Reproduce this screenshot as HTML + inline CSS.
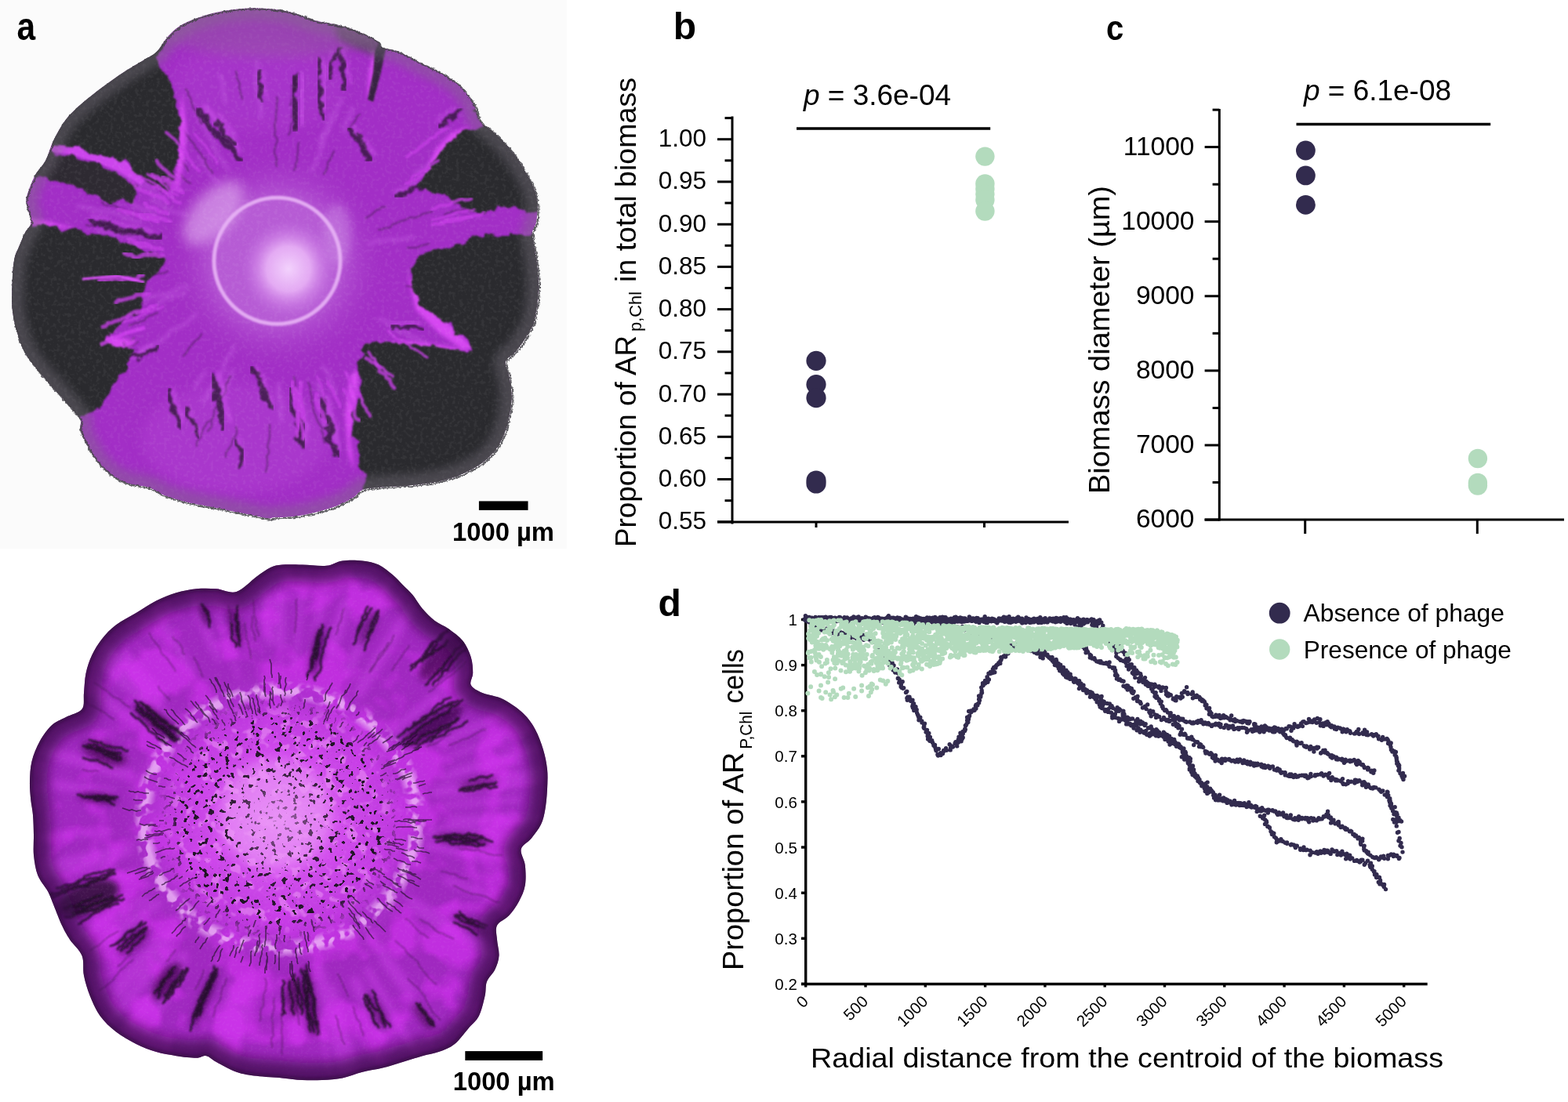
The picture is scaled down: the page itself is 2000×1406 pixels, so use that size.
<!DOCTYPE html>
<html><head><meta charset="utf-8"><title>Figure</title>
<style>html,body{margin:0;padding:0;background:#fff;}body{width:2000px;height:1406px;overflow:hidden;}svg{display:block;}</style>
</head><body>
<svg width="2000" height="1406" viewBox="0 0 2000 1406">
<defs>
<filter id="b1" x="-10%" y="-10%" width="120%" height="120%"><feGaussianBlur stdDeviation="1.2"/></filter>
<filter id="b2" x="-20%" y="-20%" width="140%" height="140%"><feGaussianBlur stdDeviation="2.5"/></filter>
<filter id="b4" x="-20%" y="-20%" width="140%" height="140%"><feGaussianBlur stdDeviation="4"/></filter>
<filter id="b6" x="-20%" y="-20%" width="140%" height="140%"><feGaussianBlur stdDeviation="6"/></filter>
<filter id="b8" x="-20%" y="-20%" width="140%" height="140%"><feGaussianBlur stdDeviation="8"/></filter>
<radialGradient id="haloA" cx="0.5" cy="0.5" r="0.5"><stop offset="0.55" stop-color="#c47ade" stop-opacity="0.6"/><stop offset="0.75" stop-color="#b860d6" stop-opacity="0.3"/><stop offset="1" stop-color="#a040c0" stop-opacity="0"/></radialGradient>
<radialGradient id="glowA" cx="0.5" cy="0.5" r="0.5"><stop offset="0" stop-color="#f3ccff" stop-opacity="0.95"/><stop offset="0.5" stop-color="#d890f0" stop-opacity="0.6"/><stop offset="1" stop-color="#b050d0" stop-opacity="0"/></radialGradient>
<radialGradient id="centB" cx="0.5" cy="0.5" r="0.5"><stop offset="0" stop-color="#e47af6" stop-opacity="1"/><stop offset="0.3" stop-color="#d856f2" stop-opacity="0.95"/><stop offset="0.7" stop-color="#c83ee8" stop-opacity="0.8"/><stop offset="0.88" stop-color="#bc36e0" stop-opacity="0.35"/><stop offset="1" stop-color="#b040d0" stop-opacity="0"/></radialGradient>
<filter color-interpolation-filters="sRGB" id="noiseW" x="0" y="0" width="100%" height="100%"><feTurbulence type="fractalNoise" baseFrequency="0.22" numOctaves="2" seed="3"/><feColorMatrix type="matrix" values="0 0 0 0 1  0 0 0 0 1  0 0 0 0 1  4 0 0 0 -1.9"/></filter>
<filter color-interpolation-filters="sRGB" id="speck" x="0" y="0" width="1" height="1"><feTurbulence type="fractalNoise" baseFrequency="0.15" numOctaves="2" seed="8"/><feColorMatrix type="matrix" values="0 0 0 0 0.11  0 0 0 0 0.07  0 0 0 0 0.13  -22 0 0 0 8.25"/></filter>
<filter color-interpolation-filters="sRGB" id="lightPatch" x="0" y="0" width="1" height="1"><feTurbulence type="fractalNoise" baseFrequency="0.07" numOctaves="2" seed="21"/><feColorMatrix type="matrix" values="0 0 0 0 0.96  0 0 0 0 0.66  0 0 0 0 0.98  9 0 0 0 -5.0"/></filter>
<filter color-interpolation-filters="sRGB" id="ringTex" x="0" y="0" width="1" height="1"><feTurbulence type="fractalNoise" baseFrequency="0.075" numOctaves="2" seed="4"/><feColorMatrix type="matrix" values="0 0 0 0 0.95  0 0 0 0 0.76  0 0 0 0 0.98  9 0 0 0 -4.1"/></filter>
<filter color-interpolation-filters="sRGB" id="noiseF" x="0" y="0" width="1" height="1"><feTurbulence type="fractalNoise" baseFrequency="0.3" numOctaves="2" seed="2"/><feColorMatrix type="matrix" values="0 0 0 0 1  0 0 0 0 1  0 0 0 0 1  6 0 0 0 -3.1"/></filter>
<filter id="rough" x="-5%" y="-5%" width="110%" height="110%"><feTurbulence type="fractalNoise" baseFrequency="0.06" numOctaves="3" seed="12" result="t"/><feDisplacementMap in="SourceGraphic" in2="t" scale="16" xChannelSelector="R" yChannelSelector="G"/><feGaussianBlur stdDeviation="0.8"/></filter>
<radialGradient id="glowA2" cx="0.5" cy="0.5" r="0.5"><stop offset="0" stop-color="#f6d8ff" stop-opacity="1"/><stop offset="0.45" stop-color="#eebcfa" stop-opacity="0.85"/><stop offset="0.75" stop-color="#d890ee" stop-opacity="0.4"/><stop offset="1" stop-color="#c070e0" stop-opacity="0"/></radialGradient>
<filter color-interpolation-filters="sRGB" id="mottle" x="0" y="0" width="1" height="1"><feTurbulence type="fractalNoise" baseFrequency="0.018" numOctaves="3" seed="31"/><feColorMatrix type="matrix" values="0 0 0 0 0.86  0 0 0 0 0.2  0 0 0 0 0.97  5 0 0 0 -2.3"/></filter>
<filter id="serr" x="-3%" y="-3%" width="106%" height="106%"><feTurbulence type="turbulence" baseFrequency="0.18" numOctaves="1" seed="5" result="t"/><feDisplacementMap in="SourceGraphic" in2="t" scale="3.5" xChannelSelector="R" yChannelSelector="G"/></filter>
</defs>
<rect width="2000" height="1406" fill="#fff"/>
<rect width="723" height="700" fill="#fbfbfb"/>
<g id="topfilm">
<clipPath id="clipA"><path d="M200.0 65.8C205.3 60.5 209.7 50.8 215.8 44.7C221.9 38.6 226.8 33.8 236.8 29.0C246.8 24.2 262.8 18.9 276.0 15.8C289.2 12.7 303.5 11.2 315.8 10.5C328.1 9.8 340.0 10.7 350.0 11.8C360.0 12.9 367.2 14.6 376.0 17.0C384.8 19.4 393.8 23.9 402.6 26.3C411.4 28.7 420.3 29.4 429.0 31.6C437.7 33.8 446.2 36.0 455.0 39.5C463.8 43.0 476.3 49.1 481.6 52.6C486.9 56.1 482.4 58.3 486.8 60.5C491.2 62.7 500.1 62.7 508.0 65.8C515.9 68.9 525.2 74.6 534.0 79.0C542.8 83.4 552.6 87.7 560.5 92.0C568.4 96.3 575.9 100.6 581.6 105.0C587.3 109.4 590.8 113.6 594.7 118.4C598.6 123.2 602.0 127.9 605.0 134.0C608.0 140.1 609.0 149.3 613.0 155.0C617.0 160.7 623.7 163.6 629.0 168.4C634.3 173.2 639.9 178.7 644.7 184.0C649.5 189.3 653.6 193.8 658.0 200.0C662.4 206.2 667.1 214.0 671.0 221.0C674.9 228.0 679.2 235.0 681.6 242.0C684.0 249.0 685.1 256.0 685.5 263.0C685.9 270.0 685.1 278.3 684.0 284.0C682.9 289.7 679.4 292.1 679.0 297.4C678.6 302.7 680.5 308.4 681.6 315.8C682.7 323.2 684.6 333.0 685.5 342.0C686.4 351.0 687.4 358.8 686.8 370.0C686.1 381.2 684.2 399.0 681.6 409.0C679.0 419.0 675.0 423.4 671.0 430.0C667.0 436.6 662.3 443.1 657.9 448.4C653.5 453.7 646.0 455.9 644.7 461.6C643.4 467.3 648.7 474.7 650.0 482.6C651.3 490.5 653.0 499.4 652.6 509.0C652.2 518.6 650.0 530.9 647.4 540.5C644.8 550.1 641.6 558.9 636.8 566.8C632.0 574.7 625.9 581.9 618.4 588.0C610.9 594.1 601.6 599.4 592.0 603.7C582.4 608.0 572.3 611.4 560.5 614.0C548.7 616.6 534.1 618.2 521.0 619.5C507.9 620.8 491.3 621.1 481.6 622.0C471.9 622.9 468.3 622.5 463.0 624.7C457.7 626.9 455.7 631.8 450.0 635.3C444.3 638.8 436.9 642.7 429.0 645.8C421.1 648.9 411.4 651.5 402.6 653.7C393.8 655.9 384.8 657.9 376.0 659.0C367.2 660.1 355.7 659.9 350.0 660.3C344.3 660.7 347.7 662.3 342.0 661.6C336.3 660.9 324.6 658.1 315.8 656.3C307.1 654.5 298.3 652.8 289.5 651.0C280.7 649.2 271.8 647.5 263.0 645.8C254.2 644.0 245.6 642.7 236.8 640.5C228.1 638.3 218.4 635.7 210.5 632.6C202.6 629.5 197.4 624.6 189.5 622.0C181.6 619.4 170.9 619.5 163.0 616.8C155.1 614.1 148.6 610.8 142.0 606.0C135.4 601.2 128.9 594.5 123.7 588.0C118.5 581.5 114.0 573.4 110.5 566.8C107.0 560.2 103.9 553.7 102.6 548.4C101.3 543.1 104.4 539.4 102.6 535.0C100.8 530.6 96.8 527.7 92.0 522.0C87.2 516.3 80.3 508.4 73.7 501.0C67.1 493.6 59.2 485.3 52.6 477.4C46.0 469.5 39.0 461.6 34.2 453.7C29.4 445.8 26.8 439.6 23.7 430.0C20.6 420.4 17.1 408.1 15.8 395.8C14.5 383.5 15.4 367.0 15.8 356.0C16.2 345.0 17.1 336.7 18.4 330.0C19.7 323.3 21.5 321.2 23.7 315.8C25.9 310.4 29.0 302.7 31.6 297.4C34.2 292.1 39.1 289.7 39.5 284.0C39.9 278.3 35.1 268.7 34.2 263.0C33.3 257.3 32.5 256.6 34.2 250.0C36.0 243.4 40.7 231.2 44.7 223.7C48.7 216.2 54.0 212.4 58.0 205.0C62.0 197.6 64.1 187.7 68.4 179.0C72.7 170.3 77.9 160.5 84.0 152.6C90.1 144.7 97.1 138.6 105.0 131.6C112.9 124.6 122.8 117.1 131.6 110.5C140.4 103.9 149.3 97.7 158.0 92.0C166.7 86.3 177.0 80.7 184.0 76.3C191.0 71.9 194.7 71.1 200.0 65.8Z"/></clipPath>
<g clip-path="url(#clipA)">
<path d="M200.0 65.8C205.3 60.5 209.7 50.8 215.8 44.7C221.9 38.6 226.8 33.8 236.8 29.0C246.8 24.2 262.8 18.9 276.0 15.8C289.2 12.7 303.5 11.2 315.8 10.5C328.1 9.8 340.0 10.7 350.0 11.8C360.0 12.9 367.2 14.6 376.0 17.0C384.8 19.4 393.8 23.9 402.6 26.3C411.4 28.7 420.3 29.4 429.0 31.6C437.7 33.8 446.2 36.0 455.0 39.5C463.8 43.0 476.3 49.1 481.6 52.6C486.9 56.1 482.4 58.3 486.8 60.5C491.2 62.7 500.1 62.7 508.0 65.8C515.9 68.9 525.2 74.6 534.0 79.0C542.8 83.4 552.6 87.7 560.5 92.0C568.4 96.3 575.9 100.6 581.6 105.0C587.3 109.4 590.8 113.6 594.7 118.4C598.6 123.2 602.0 127.9 605.0 134.0C608.0 140.1 609.0 149.3 613.0 155.0C617.0 160.7 623.7 163.6 629.0 168.4C634.3 173.2 639.9 178.7 644.7 184.0C649.5 189.3 653.6 193.8 658.0 200.0C662.4 206.2 667.1 214.0 671.0 221.0C674.9 228.0 679.2 235.0 681.6 242.0C684.0 249.0 685.1 256.0 685.5 263.0C685.9 270.0 685.1 278.3 684.0 284.0C682.9 289.7 679.4 292.1 679.0 297.4C678.6 302.7 680.5 308.4 681.6 315.8C682.7 323.2 684.6 333.0 685.5 342.0C686.4 351.0 687.4 358.8 686.8 370.0C686.1 381.2 684.2 399.0 681.6 409.0C679.0 419.0 675.0 423.4 671.0 430.0C667.0 436.6 662.3 443.1 657.9 448.4C653.5 453.7 646.0 455.9 644.7 461.6C643.4 467.3 648.7 474.7 650.0 482.6C651.3 490.5 653.0 499.4 652.6 509.0C652.2 518.6 650.0 530.9 647.4 540.5C644.8 550.1 641.6 558.9 636.8 566.8C632.0 574.7 625.9 581.9 618.4 588.0C610.9 594.1 601.6 599.4 592.0 603.7C582.4 608.0 572.3 611.4 560.5 614.0C548.7 616.6 534.1 618.2 521.0 619.5C507.9 620.8 491.3 621.1 481.6 622.0C471.9 622.9 468.3 622.5 463.0 624.7C457.7 626.9 455.7 631.8 450.0 635.3C444.3 638.8 436.9 642.7 429.0 645.8C421.1 648.9 411.4 651.5 402.6 653.7C393.8 655.9 384.8 657.9 376.0 659.0C367.2 660.1 355.7 659.9 350.0 660.3C344.3 660.7 347.7 662.3 342.0 661.6C336.3 660.9 324.6 658.1 315.8 656.3C307.1 654.5 298.3 652.8 289.5 651.0C280.7 649.2 271.8 647.5 263.0 645.8C254.2 644.0 245.6 642.7 236.8 640.5C228.1 638.3 218.4 635.7 210.5 632.6C202.6 629.5 197.4 624.6 189.5 622.0C181.6 619.4 170.9 619.5 163.0 616.8C155.1 614.1 148.6 610.8 142.0 606.0C135.4 601.2 128.9 594.5 123.7 588.0C118.5 581.5 114.0 573.4 110.5 566.8C107.0 560.2 103.9 553.7 102.6 548.4C101.3 543.1 104.4 539.4 102.6 535.0C100.8 530.6 96.8 527.7 92.0 522.0C87.2 516.3 80.3 508.4 73.7 501.0C67.1 493.6 59.2 485.3 52.6 477.4C46.0 469.5 39.0 461.6 34.2 453.7C29.4 445.8 26.8 439.6 23.7 430.0C20.6 420.4 17.1 408.1 15.8 395.8C14.5 383.5 15.4 367.0 15.8 356.0C16.2 345.0 17.1 336.7 18.4 330.0C19.7 323.3 21.5 321.2 23.7 315.8C25.9 310.4 29.0 302.7 31.6 297.4C34.2 292.1 39.1 289.7 39.5 284.0C39.9 278.3 35.1 268.7 34.2 263.0C33.3 257.3 32.5 256.6 34.2 250.0C36.0 243.4 40.7 231.2 44.7 223.7C48.7 216.2 54.0 212.4 58.0 205.0C62.0 197.6 64.1 187.7 68.4 179.0C72.7 170.3 77.9 160.5 84.0 152.6C90.1 144.7 97.1 138.6 105.0 131.6C112.9 124.6 122.8 117.1 131.6 110.5C140.4 103.9 149.3 97.7 158.0 92.0C166.7 86.3 177.0 80.7 184.0 76.3C191.0 71.9 194.7 71.1 200.0 65.8Z" fill="#a22ec6"/>
<ellipse cx="300" cy="560" rx="120" ry="70" fill="#b848d8" opacity="0.35" filter="url(#b8)"/>
<ellipse cx="330" cy="110" rx="110" ry="60" fill="#b040d0" opacity="0.35" filter="url(#b8)"/>
<circle cx="353.5" cy="332.8" r="138" fill="url(#haloA)"/>
<ellipse cx="272" cy="272" rx="26" ry="50" transform="rotate(42 272 272)" fill="#e2b0f0" opacity="0.6" filter="url(#b8)"/>
<ellipse cx="430" cy="300" rx="18" ry="40" fill="#cf90e6" opacity="0.45" filter="url(#b6)"/>
<path d="M199 272L195 270L191 269L187 268L183 267L179 266L176 264L172 263L169 259L166 257M529 220L533 219L537 217L540 214L544 213L547 210L549 207L552 204L556 202L559 200L563 198M237 276L234 272L229 272L225 271L221 271L218 269L214 267L211 265L207 263L204 260L200 259L197 257L193 255M156 355L152 355L148 357L144 358L140 357L136 358L132 359L128 361L124 360L120 361L116 362L112 364M188 186L186 183L183 181L179 179L176 177L173 173L171 169L168 167L164 166L161 163L158 161M404 489L407 493L409 496L409 500L411 504L412 508L415 511L416 515L416 519L419 523L419 527L420 530L421 534L421 538L423 542L424 546L426 549L427 553L429 557L430 561M240 366L236 366L232 366L228 367L225 370L221 371L217 373L214 376L210 375L206 376L202 377L198 377L194 378L190 379L187 382L183 383L179 384L175 384L171 386L167 386M397 218L399 215L401 211L403 208L404 204L406 200L408 197L409 193L408 189L409 185L409 180L409 176L411 172L414 169L416 166L417 162L419 158L421 155L421 151L421 146M194 443L191 445L187 447L182 447L181 452L177 453L173 455M160 329L156 329L152 328L148 328L144 329L140 329L136 329L132 328L128 328L124 326M288 131L287 127L286 123L285 119L285 115L284 111L285 107L283 103L282 99L279 96M262 475L259 478L257 481L255 485L252 487L250 491L249 495M172 301L168 301L165 299L161 299L157 299L153 299L149 299L145 297L141 297L137 295L133 295L129 294L125 295M211 253L206 254L203 252L200 248L197 246L193 244L190 241L188 238L184 237L180 235L176 234L173 232L170 228L166 227L162 226L158 224L154 223L151 220L148 217M540 224L544 222L547 219L550 218L554 217L558 215L562 213M412 187L413 183L413 179L414 175L417 171L418 168L419 164L421 160L423 157L424 153L427 150L429 146L429 142L430 138L431 134L434 131L436 127M484 407L488 408L491 410L495 412L498 415L501 417L505 418L508 421L511 424L516 423L520 425L522 429L526 430L530 430L533 433L537 435L540 438L544 438L547 442M356 489L355 493L356 497L355 501L357 505L357 509L359 513L359 517L359 521L358 525L358 529L359 533L359 537M180 283L176 283L172 283L168 281L165 279L161 278L157 277L154 275L150 273L146 272L142 271L138 271L134 270L130 269L126 270L122 268L119 266L115 265L111 265L107 264L103 263L99 263M177 338L173 339L169 341L165 343L161 342L157 343L153 344L149 343L145 345L141 342L137 344L133 344L129 345L125 345L121 346L117 346L113 345L109 344M412 468L414 471L418 474L419 478L421 482L422 485L422 490L425 493L426 497L427 501M522 345L527 343L531 343L535 344L538 345L542 346L546 346L550 348L554 347L558 347L562 348L566 348L570 348M563 334L567 335L571 334L575 334L579 336L583 337L587 337L591 334L595 335L599 333L603 332L607 332L611 335L615 333L619 334L623 336L627 337L631 337L635 338L639 337L643 336M297 473L295 476L293 480L293 484L291 488L290 491L289 495L287 499M250 400L248 404L244 405L241 408L239 412L235 413L232 416L229 418L224 419L220 420L217 423L214 426L212 430L209 432L206 435L202 436L199 438L195 440L191 442L188 444L185 446L182 449M439 168L440 165L440 160L441 156L443 153L445 149L447 146L449 142L448 137M514 493L518 495L521 497L524 500L527 503L528 507L530 511L533 514L537 516M292 216L289 213L286 210L284 207L283 203L280 200L277 197L276 193L273 190L273 186L272 182L270 178L268 175L265 172L263 168L263 164L260 161L257 158L255 154L254 150L252 147L252 143M333 150L332 146L333 142L333 138L332 134L331 130L330 126L330 122L329 118L328 115L327 111L327 107L327 103L326 99L326 95L328 90L328 86L329 82L327 78M298 442L297 446L296 450L293 452L291 456L289 459L286 463L285 467L286 471L283 475L280 478L279 481L277 485L274 488L271 491L270 495L268 498L265 501L264 505L262 508L259 512M407 513L409 516L411 520L411 524L411 528L414 532L413 536L414 540L417 543L418 547M236 374L233 376L229 376L225 377L221 378L217 380L213 380L209 382L206 385L203 387M158 383L154 382L150 384L146 384L142 384L139 385L135 387L131 389L128 391L124 393L120 393L116 393L112 395M471 311L475 311L479 307L483 307L487 308L491 307L495 306L499 305L503 307L507 306L511 306L515 304L519 304L523 303L527 302M281 235L277 233L274 230L271 227L269 224L267 220L266 216L263 213L261 210L259 207L257 203L255 200" stroke="#c860e6" stroke-width="5" opacity="0.4" fill="none" stroke-linecap="round" filter="url(#b2)"/>
<path d="M182 387L178 388L175 389L171 390L168 393L164 394L160 394L156 396L152 397L148 397L144 397L140 400L136 398L132 399L128 399L124 401L121 403L117 405L113 405L109 407L105 407L101 409M519 365L523 365L527 365L531 365L535 365L539 366L543 366L546 371L550 373L554 374L558 374L562 373L566 374L570 375M368 172L370 169L371 165L371 161L372 157L375 153L372 149L373 145L373 141L374 137L373 133L372 129L373 125L374 121L373 117L377 113L377 109L377 105L377 101L378 97L380 93M393 488L395 492L396 496L396 500L397 504L398 508L397 512L399 516L399 520L400 524L401 527L403 531L404 535L406 539L408 542L411 546L410 550L412 553L412 558L413 562L414 565M344 542L344 546L344 550L344 554L344 558L343 562L342 566L341 570L343 574L343 578L340 582L341 586L341 590L341 594L340 598L339 602M176 436L172 439L169 441L165 442L162 444L158 446L156 450L153 453L148 454L145 456L142 459L138 459L135 461L131 463L127 465L124 467L120 468L117 470L113 473L110 475L106 476M520 316L524 316L528 316L532 316L536 314L539 313L543 312L547 311M202 199L197 198L196 194L194 190L190 188L187 186L183 185L180 182L178 178L174 176L170 175L167 173L165 169M271 221L270 218L266 215L264 211L262 208L262 203L258 201L257 197L254 194L252 191L249 188L248 184L245 181L242 178L240 174L237 172L235 168L233 165M294 480L292 483L291 487L288 490L288 495L288 499L286 503L284 506L281 509L281 514L279 517L275 520L273 524L273 528L272 532L270 535L270 539L270 544L268 547L265 550M567 274L570 272L574 271L578 269L582 269L586 269L590 267L593 266L598 265L601 262L604 260M375 217L377 214L377 209L379 206L379 202L379 198L380 194L380 190L380 186L381 182M191 303L187 301L183 300L180 298L175 299L171 299L167 300L163 299L159 299L155 299L151 297L148 294L144 292M268 537L264 539L262 543L260 546L258 550L257 554L256 558L253 561L251 564L251 569M467 278L470 276L474 274L477 271L480 268L484 267L487 264L491 264M240 218L238 214L236 211L233 208L231 204L228 202L226 198L222 197L218 195L216 191L215 187L211 184L209 181L205 179L202 177L200 173M197 299L193 299L189 299L185 298L181 300L177 297L173 296L170 295L166 295L162 294L158 292L154 291L150 289L146 288L143 287L139 285L135 286L130 288L126 287L122 288L118 288L114 288L110 287M188 216L185 214L181 212L178 210L174 209L171 206L169 202M353 212L352 208L353 204L352 200L350 196L350 192L351 188L352 184L354 180L353 176L350 172L351 168L351 164L350 160L351 156L352 152L352 148L352 144L353 140L353 136L353 132L354 128L353 124M175 274L171 273L168 272L164 272L160 269L157 267L153 267L149 264L146 262L141 262L137 262L133 261L130 258M257 426L255 430L252 433L249 435L246 438L244 441L241 444L239 448L237 451L234 454M164 222L161 219L157 217L154 215L151 213L147 211L143 211M214 346L210 348L206 349L202 349L198 350L194 351L190 350L186 350M444 165L447 163L449 159L452 156L454 152L455 149L459 146M243 234L239 232L236 229L233 227L231 223L228 221L224 219L222 216L220 212L216 210L214 206L210 205L207 202M413 222L415 219L417 215L418 211L418 207L421 204L423 200L424 197L426 193M309 126L308 123L307 119L306 115L305 111L306 107L304 103L302 99L302 95L301 91M301 545L302 549L302 553L300 557L297 560L296 564L295 568L293 571L290 575L288 578L288 583M257 158L255 155L254 150L252 147L250 143L248 140L246 137L245 133L244 129L243 125L240 121L240 117L237 114M171 431L168 434L164 436L161 438L157 439L154 442L151 445L148 447L143 448L140 450M375 481L376 485L376 489L377 493L377 497L376 501L377 505L379 509L379 513L378 517L378 521L379 525L379 529L379 533L380 537L381 541L380 545L381 549L381 553L382 557L383 560L381 565M483 293L487 293L490 291L494 291L498 290L501 286L505 285L509 283L512 282L516 281L520 279L524 277L528 278L532 277L536 275L539 273L543 272L547 271L551 270M201 399L198 400L194 402L190 403L187 405L184 409L180 410L176 412L172 412L169 414L165 415M226 212L223 209L221 206L217 204L215 201L212 198L209 196L205 194L202 191L199 188L196 186M370 134L372 130L372 126L373 122L374 118L373 114L372 110L375 106L374 102L374 98" stroke="#3a1a44" stroke-width="2.5" opacity="0.4" fill="none" stroke-linecap="round" filter="url(#b1)"/>
<path d="M385 95L386 98L386 101L387 104L387 107L387 110L387 113L386 116L384 119L384 122L385 125L384 128L385 131L385 134L386 137L385 140L385 143L385 146L385 149L386 152L386 155L385 158" stroke="#d458f2" stroke-width="5.4" opacity="0.55" fill="none" stroke-linecap="round" filter="url(#b2)"/>
<path d="M411 75L410 78L412 81L414 83L413 86L414 89L414 92L414 95L415 98L414 101L413 105L413 108L414 110L413 114L414 117L413 120L415 122L414 126L414 129L413 132L414 135L414 138L415 140" stroke="#d458f2" stroke-width="4.2" opacity="0.55" fill="none" stroke-linecap="round" filter="url(#b2)"/>
<path d="M436 59L438 62L438 65L438 68L438 71L438 74L441 77L443 79L444 82L443 85L442 89L443 92L445 94L446 97L447 100L447 103L447 106" stroke="#d458f2" stroke-width="3.6" opacity="0.55" fill="none" stroke-linecap="round" filter="url(#b2)"/>
<path d="M261 136L263 137L264 140L267 142L270 144L270 147L273 149L274 152L275 155L278 156L280 159L282 161L284 163L286 166L288 167L290 170L291 173L293 175L295 178L297 180L299 182L300 185L302 187L303 190L304 193" stroke="#d458f2" stroke-width="6.0" opacity="0.55" fill="none" stroke-linecap="round" filter="url(#b2)"/>
<path d="M280 146L282 148L283 152L284 155L287 156L289 158L291 161L293 163L295 165L296 168L299 170L300 173L301 176" stroke="#d458f2" stroke-width="3.6" opacity="0.55" fill="none" stroke-linecap="round" filter="url(#b2)"/>
<path d="M450 161L452 164L453 167L454 169L456 172L458 174L460 176L463 178L465 180L467 182L468 185L470 188L473 189L475 192L475 195L478 196" stroke="#d458f2" stroke-width="4.2" opacity="0.55" fill="none" stroke-linecap="round" filter="url(#b2)"/>
<path d="M221 496L221 499L221 502L222 505L223 508L223 511L224 514L225 517L226 519L227 522L228 525L232 527L232 530L232 533L231 537L233 539" stroke="#d458f2" stroke-width="4.2" opacity="0.55" fill="none" stroke-linecap="round" filter="url(#b2)"/>
<path d="M278 476L279 479L279 482L282 485L282 488L282 491L284 493L286 496L285 499L284 503L286 505L286 508L287 511L286 514L287 517L288 520L290 523L290 526L291 529L292 532L293 535L294 537" stroke="#d458f2" stroke-width="4.8" opacity="0.55" fill="none" stroke-linecap="round" filter="url(#b2)"/>
<path d="M327 468L327 471L329 473L331 476L332 479L335 480L337 483L337 486L337 490L339 492L339 495L338 499L338 502L342 504L343 507L345 509L345 512L347 515" stroke="#d458f2" stroke-width="4.2" opacity="0.55" fill="none" stroke-linecap="round" filter="url(#b2)"/>
<path d="M377 497L378 499L380 502L380 505L381 508L382 511L383 514L384 516L385 519L384 523L385 525L388 528L387 531L387 534L388 537L389 540L392 542L393 545L391 549L389 552L388 556L390 558L390 561L390 564" stroke="#d458f2" stroke-width="4.8" opacity="0.55" fill="none" stroke-linecap="round" filter="url(#b2)"/>
<path d="M418 506L418 509L419 512L420 515L420 518L420 521L421 524L421 527L423 529L423 532L424 535L426 538L426 541L428 544L430 546L428 550L428 553L428 556L428 559L428 562L431 565L432 567L431 571L433 573" stroke="#d458f2" stroke-width="4.8" opacity="0.55" fill="none" stroke-linecap="round" filter="url(#b2)"/>
<path d="M305 559L306 562L306 565L305 568L306 571L307 574L309 576L310 579L310 582L310 585L310 589L312 591L312 594" stroke="#d458f2" stroke-width="3.0" opacity="0.55" fill="none" stroke-linecap="round" filter="url(#b2)"/>
<path d="M117 275L120 276L122 277L125 279L129 278L132 278L135 278L137 281L140 283L142 284L145 285L148 284L151 286L154 286L157 286L160 289L163 288L166 290L169 290L172 290L175 291L178 291L181 292L184 292L187 292L189 296L192 296L195 297" stroke="#d458f2" stroke-width="4.2" opacity="0.55" fill="none" stroke-linecap="round" filter="url(#b2)"/>
<path d="M147 464L149 463L153 463L155 461L157 458L160 458L163 457L166 457L169 455L172 455L174 452L177 451L179 449L181 446L183 444L187 443L190 443L192 440" stroke="#d458f2" stroke-width="3.6" opacity="0.55" fill="none" stroke-linecap="round" filter="url(#b2)"/>
<path d="M503 245L506 244L509 243L511 242L515 242L517 240L520 238L523 238L526 238L528 235L531 234L534 233L537 233" stroke="#d458f2" stroke-width="3.6" opacity="0.55" fill="none" stroke-linecap="round" filter="url(#b2)"/>
<path d="M501 410L503 412L506 413L509 413L512 414L515 412L519 411L521 413L524 413L528 411L531 412L534 412L537 413" stroke="#d458f2" stroke-width="3.6" opacity="0.55" fill="none" stroke-linecap="round" filter="url(#b2)"/>
<path d="M416 99L417 96L417 93L418 90L418 87L419 84L420 81L420 78L421 76L422 73L423 70L424 67L422 64" stroke="#d458f2" stroke-width="3.0" opacity="0.55" fill="none" stroke-linecap="round" filter="url(#b2)"/>
<path d="M239 518L241 520L242 523L244 526L245 528L245 532L244 535L245 538L247 541L249 543L252 545L252 549L253 551L256 553" stroke="#d458f2" stroke-width="3.0" opacity="0.55" fill="none" stroke-linecap="round" filter="url(#b2)"/>
<path d="M557 155L559 153L560 150L563 149L566 147L569 146L571 144L574 143L576 141L578 139L581 138" stroke="#d458f2" stroke-width="3.0" opacity="0.55" fill="none" stroke-linecap="round" filter="url(#b2)"/>
<path d="M334 89L334 93L336 95L337 98L335 101L335 105L336 107L336 110L338 113L337 116L339 119L341 122L342 125" stroke="#d458f2" stroke-width="3.0" opacity="0.55" fill="none" stroke-linecap="round" filter="url(#b2)"/>
<path d="M378 95L377 98L377 101L376 104L377 107L376 110L374 113L375 116L375 119L376 122L377 125L377 128L378 131L379 134L379 137L378 140L378 143L377 146L379 149L377 152L378 155L379 158L379 161L378 164" stroke="#2a1832" stroke-width="9.0" opacity="0.75" fill="none" stroke-linecap="round" filter="url(#rough)"/>
<path d="M406 75L406 78L406 81L407 84L407 87L409 90L408 93L407 96L408 99L406 102L407 105L407 108L406 111L407 114L408 117L407 120L407 123L407 126L406 129L407 132L409 135L410 138L409 141L410 144L411 147L413 150" stroke="#2a1832" stroke-width="7.0" opacity="0.75" fill="none" stroke-linecap="round" filter="url(#rough)"/>
<path d="M431 60L431 63L430 66L432 69L434 72L435 75L436 78L437 80L437 84L436 87L436 90L436 93L436 96L438 98L440 101L441 104L440 107L440 110L440 113" stroke="#2a1832" stroke-width="6.0" opacity="0.75" fill="none" stroke-linecap="round" filter="url(#rough)"/>
<path d="M253 141L255 144L258 146L259 148L262 150L263 153L264 156L267 158L268 160L269 163L272 165L274 167L275 170L278 172L280 174L281 177L283 179L286 181L287 183L291 185L292 187L295 189L297 191L300 192L302 195L302 198L304 201L307 202" stroke="#2a1832" stroke-width="10.0" opacity="0.75" fill="none" stroke-linecap="round" filter="url(#rough)"/>
<path d="M274 151L275 153L277 156L280 157L281 160L281 164L283 166L286 168L288 170L289 173L290 176L294 177L296 180L298 181L300 184" stroke="#2a1832" stroke-width="6.0" opacity="0.75" fill="none" stroke-linecap="round" filter="url(#rough)"/>
<path d="M445 165L448 167L449 169L451 172L454 173L457 175L458 178L459 181L461 183L463 185L465 187L467 189L466 194L469 196L469 199L471 202L473 204" stroke="#2a1832" stroke-width="7.0" opacity="0.75" fill="none" stroke-linecap="round" filter="url(#rough)"/>
<path d="M215 498L215 501L216 504L217 506L219 509L220 512L221 515L221 518L221 521L221 524L223 527L224 529L225 532L226 535L226 538L228 541L229 544L230 546" stroke="#2a1832" stroke-width="7.0" opacity="0.75" fill="none" stroke-linecap="round" filter="url(#rough)"/>
<path d="M271 478L271 481L273 484L272 487L272 490L274 493L276 495L277 498L275 502L273 505L278 507L280 510L280 513L280 516L282 519L281 522L282 525L282 528L283 531L285 533L284 537L285 539L284 543L284 546" stroke="#2a1832" stroke-width="8.0" opacity="0.75" fill="none" stroke-linecap="round" filter="url(#rough)"/>
<path d="M321 470L324 472L327 475L328 477L328 480L330 483L330 486L330 489L332 492L332 495L333 498L335 500L337 503L338 505L341 508L342 510L344 513L344 516L345 519L347 521" stroke="#2a1832" stroke-width="7.0" opacity="0.75" fill="none" stroke-linecap="round" filter="url(#rough)"/>
<path d="M371 498L371 501L370 504L370 507L371 510L372 513L372 516L372 519L373 522L375 525L377 527L378 530L379 533L381 536L383 538L381 542L383 544L385 547L384 550L383 554L382 557L383 560L385 562L386 565L387 568L388 571" stroke="#2a1832" stroke-width="8.0" opacity="0.75" fill="none" stroke-linecap="round" filter="url(#rough)"/>
<path d="M411 508L410 511L412 514L412 517L414 519L414 522L415 525L414 529L417 531L417 534L416 537L418 540L419 543L419 546L421 549L422 551L421 555L421 558L421 561L422 564L425 566L426 569L424 572L425 576L428 578L431 580" stroke="#2a1832" stroke-width="8.0" opacity="0.75" fill="none" stroke-linecap="round" filter="url(#rough)"/>
<path d="M300 560L301 563L301 566L302 569L304 571L306 574L307 577L307 580L307 583L308 586L310 589L309 592L309 595L309 598" stroke="#2a1832" stroke-width="5.0" opacity="0.75" fill="none" stroke-linecap="round" filter="url(#rough)"/>
<path d="M115 281L118 283L122 281L124 282L127 282L130 285L133 286L135 288L138 288L141 291L144 291L146 294L149 293L153 292L155 294L158 294L161 294L165 293L168 294L170 295L174 295L176 297L180 295L182 297L185 298L188 301L191 301L194 301L197 302L199 303L202 304" stroke="#2a1832" stroke-width="7.0" opacity="0.75" fill="none" stroke-linecap="round" filter="url(#rough)"/>
<path d="M150 470L153 469L155 466L157 464L157 459L161 460L164 459L166 457L170 456L173 456L177 457L180 455L183 454L185 453L188 452L190 449L192 447L195 446L198 445L200 442" stroke="#2a1832" stroke-width="6.0" opacity="0.75" fill="none" stroke-linecap="round" filter="url(#rough)"/>
<path d="M505 251L509 251L512 251L514 249L517 248L519 246L522 244L525 243L527 241L530 240L533 239L536 238L539 239L541 236L544 235" stroke="#2a1832" stroke-width="6.0" opacity="0.75" fill="none" stroke-linecap="round" filter="url(#rough)"/>
<path d="M500 417L503 417L506 415L509 416L512 418L515 418L518 419L521 418L523 421L527 419L530 418L533 419L536 420L539 421" stroke="#2a1832" stroke-width="6.0" opacity="0.75" fill="none" stroke-linecap="round" filter="url(#rough)"/>
<path d="M420 100L420 97L420 94L422 91L422 88L423 85L422 82L424 79L427 77L428 74L430 72L431 69L430 65L430 62" stroke="#2a1832" stroke-width="5.0" opacity="0.75" fill="none" stroke-linecap="round" filter="url(#rough)"/>
<path d="M237 519L239 522L238 525L240 527L241 531L243 533L245 535L246 538L246 541L249 543L250 546L251 549L252 552L253 555L253 558" stroke="#2a1832" stroke-width="5.0" opacity="0.75" fill="none" stroke-linecap="round" filter="url(#rough)"/>
<path d="M561 162L564 160L567 159L569 158L570 153L572 151L574 149L577 148L581 148L583 145L585 143L587 142L590 140" stroke="#2a1832" stroke-width="5.0" opacity="0.75" fill="none" stroke-linecap="round" filter="url(#rough)"/>
<path d="M329 90L329 93L330 96L331 99L330 102L329 105L331 108L333 111L332 114L333 117L334 120L332 123L335 126L336 129" stroke="#2a1832" stroke-width="5.0" opacity="0.75" fill="none" stroke-linecap="round" filter="url(#rough)"/>
<path d="M66.0 183.0 L100.0 186.0 L131.0 197.0 L158.0 204.0 L186.0 229.0 L180.0 236.0 L150.0 218.0 L120.0 206.0 L90.0 197.0 L60.0 193.0Z" fill="#cc44ec" filter="url(#b1)"/>
<path d="M232.0 120.0 L238.0 160.0 L236.0 200.0 L228.0 240.0 L222.0 245.0 L226.0 200.0 L228.0 160.0Z" fill="#dc4cf6" opacity="0.9" filter="url(#b2)"/>
<path d="M540.0 225.0 L556.0 190.0 L575.0 170.0 L600.0 160.0 L590.0 172.0 L565.0 195.0 L552.0 228.0Z" fill="#dc4cf6" opacity="0.9" filter="url(#b2)"/>
<path d="M520.0 350.0 L545.0 390.0 L580.0 420.0 L605.0 445.0 L590.0 446.0 L560.0 425.0 L530.0 395.0Z" fill="#dc4cf6" opacity="0.9" filter="url(#b2)"/>
<path d="M470.0 440.0 L520.0 435.0 L560.0 440.0 L600.0 447.0 L560.0 452.0 L510.0 450.0 L475.0 452.0Z" fill="#dc4cf6" opacity="0.9" filter="url(#b2)"/>
<path d="M458.0 470.0 L454.0 520.0 L447.0 560.0 L452.0 600.0 L444.0 580.0 L440.0 530.0 L446.0 480.0Z" fill="#dc4cf6" opacity="0.9" filter="url(#b2)"/>
<path d="M110.0 440.0 L140.0 428.0 L175.0 435.0 L160.0 446.0 L130.0 446.0Z" fill="#dc4cf6" opacity="0.9" filter="url(#b2)"/>
<path d="M105.0 352.0 L140.0 350.0 L184.0 358.0 L182.0 364.0 L140.0 360.0 L108.0 360.0Z" fill="#dc4cf6" opacity="0.9" filter="url(#b2)"/>
<path d="M20.0 275.0 L60.0 282.0 L100.0 292.0 L60.0 290.0 L25.0 285.0Z" fill="#dc4cf6" opacity="0.9" filter="url(#b2)"/>
<path d="M470.0 55.0 L485.0 70.0 L480.0 100.0 L468.0 130.0 L470.0 95.0 L475.0 70.0Z" fill="#dc4cf6" opacity="0.9" filter="url(#b2)"/>
<path d="M205.0 55.0C200.7 54.6 169.5 70.0 160.0 75.0C150.5 80.0 119.0 97.7 110.0 105.0C101.0 112.3 76.2 140.0 70.0 148.0C63.8 156.0 48.0 181.2 48.0 185.0C48.0 188.8 64.8 185.7 70.0 186.0C75.2 186.3 93.8 186.7 100.0 188.0C106.2 189.3 125.8 197.4 131.6 199.0C137.4 200.6 152.8 201.0 158.0 204.0C163.2 207.0 178.2 225.2 184.0 229.0C189.8 232.8 211.8 243.1 215.8 242.0C219.8 240.9 222.4 225.5 223.7 218.4C225.0 211.3 228.5 178.1 229.0 171.0C229.5 163.9 229.5 152.3 229.0 147.0C228.5 141.7 226.3 125.2 223.7 118.4C221.1 111.6 204.5 85.3 202.6 79.0C200.7 72.7 209.3 55.4 205.0 55.0Z" fill="#2b292d" filter="url(#rough)"/>
<path d="M39.5 288.0C45.4 288.2 72.5 291.1 79.0 292.0C85.5 292.9 98.9 295.9 105.0 297.0C111.1 298.1 134.0 301.5 140.0 303.0C146.0 304.5 160.0 310.1 165.0 312.0C170.0 313.9 185.5 320.0 190.0 322.0C194.5 324.0 208.5 329.9 210.0 332.0C211.5 334.1 206.8 340.6 205.0 343.0C203.2 345.4 194.1 352.8 192.0 356.0C189.9 359.2 185.3 371.0 184.0 375.0C182.7 379.0 180.9 393.0 179.0 396.0C177.1 399.0 167.9 402.8 165.0 405.0C162.1 407.2 153.3 414.7 150.0 418.0C146.7 421.3 131.0 435.8 132.0 438.0C133.0 440.2 155.7 439.2 160.0 440.0C164.3 440.8 174.5 444.0 175.0 446.0C175.5 448.0 167.0 457.1 165.0 460.0C163.0 462.9 156.8 472.0 155.0 475.0C153.2 478.0 148.8 486.7 147.0 490.0C145.2 493.3 139.9 504.5 137.0 508.0C134.1 511.5 121.5 522.4 118.0 525.0C114.5 527.6 104.0 532.0 102.0 534.0C100.0 536.0 102.2 548.4 98.0 545.0C93.8 541.6 67.8 509.5 60.0 500.0C52.2 490.5 25.5 460.0 20.0 450.0C14.5 440.0 6.5 412.0 5.0 400.0C3.5 388.0 3.5 341.0 5.0 330.0C6.5 319.0 16.6 294.2 20.0 290.0C23.4 285.8 33.6 287.8 39.5 288.0Z" fill="#2b292d" filter="url(#rough)"/>
<path d="M605.0 140.0C607.7 140.2 633.3 154.8 640.0 160.0C646.7 165.2 666.8 185.0 672.0 192.0C677.2 199.0 689.4 222.2 692.0 230.0C694.6 237.8 700.6 266.2 698.0 270.0C695.4 273.8 671.6 269.1 665.8 268.4C659.9 267.7 644.8 262.5 639.5 263.0C634.2 263.5 618.2 273.7 613.0 273.7C607.8 273.7 590.9 265.4 587.0 263.0C583.1 260.6 579.0 252.6 573.7 250.0C568.4 247.4 536.9 239.6 534.0 237.0C531.1 234.4 542.6 226.9 544.7 223.7C546.8 220.5 552.9 209.0 555.0 205.0C557.1 201.0 562.8 187.4 566.0 184.0C569.2 180.6 582.3 173.6 587.0 171.0C591.7 168.4 611.2 161.1 613.0 158.0C614.8 154.9 602.3 139.8 605.0 140.0Z" fill="#2b292d" filter="url(#rough)"/>
<path d="M700.0 298.0C697.9 286.0 685.0 299.8 679.0 300.0C673.0 300.2 647.4 299.7 639.5 300.0C631.6 300.3 606.6 301.0 600.0 302.6C593.4 304.2 580.3 313.2 573.7 315.8C567.1 318.4 539.3 326.0 534.0 329.0C528.7 332.0 521.0 340.4 521.0 345.8C521.0 351.2 531.1 377.3 534.0 382.6C536.9 387.9 546.0 395.3 550.0 398.4C554.0 401.5 568.7 409.8 573.7 414.0C578.7 418.2 597.1 437.1 600.0 440.5C602.9 443.9 606.6 448.1 602.6 448.4C598.6 448.6 568.7 444.0 560.5 443.0C552.3 442.0 528.4 438.5 521.0 438.0C513.6 437.5 492.1 437.8 486.8 438.0C481.5 438.2 471.0 438.1 468.4 440.5C465.8 442.9 461.3 456.9 460.5 461.6C459.7 466.4 461.1 482.8 460.5 488.0C459.9 493.2 456.3 508.8 455.0 514.0C453.7 519.2 447.4 535.2 447.4 540.5C447.4 545.8 453.7 561.8 455.0 567.0C456.3 572.2 459.4 587.8 460.5 593.0C461.6 598.2 465.1 614.8 465.8 619.5C466.6 624.2 458.6 639.0 468.0 640.0C477.4 641.0 542.8 635.0 560.0 630.0C577.2 625.0 629.5 602.0 640.0 590.0C650.5 578.0 662.8 523.0 665.0 510.0C667.2 497.0 658.5 469.0 662.0 460.0C665.5 451.0 696.2 436.2 700.0 420.0C703.8 403.8 702.1 310.0 700.0 298.0Z" fill="#2b292d" filter="url(#rough)"/>
<path d="M50.0 195.0 L90.0 200.0 L120.0 210.0 L150.0 222.0 L176.0 240.0 L168.0 257.0 L140.0 255.0 L110.0 246.0 L80.0 233.0 L45.0 224.0Z" fill="#2e2a31" filter="url(#rough)"/>
<path d="M425.0 28.0 L482.0 46.0 L490.0 60.0 L478.0 70.0 L455.0 62.0 L432.0 50.0Z" fill="#4a3a50" opacity="0.7" filter="url(#b4)"/>
<path d="M484.0 52.0 L492.0 62.0 L486.0 92.0 L476.0 130.0 L469.0 127.0 L476.0 92.0 L478.0 66.0Z" fill="#2a2430" opacity="0.9" filter="url(#b1)"/>
<path d="M214 273L211 271L207 271L203 270L200 267L196 265L192 265L188 264L185 259" stroke="#c23ee2" stroke-width="5.4" opacity="0.8" fill="none" stroke-linecap="round" filter="url(#b1)"/>
<path d="M190 375L186 376L182 376L178 376L174 376L171 379L167 380L163 381L159 382L155 383L151 383L148 386" stroke="#c23ee2" stroke-width="5.4" opacity="0.8" fill="none" stroke-linecap="round" filter="url(#b1)"/>
<path d="M195 391L191 393L188 396L184 396L180 397L175 397L171 398L168 400L164 402L161 405L157 406L154 408L150 409L146 410L142 412L138 412L135 416L131 417" stroke="#c23ee2" stroke-width="5.1" opacity="0.8" fill="none" stroke-linecap="round" filter="url(#b1)"/>
<path d="M207 318L203 317L199 317L195 316L191 315L187 314L183 314L179 315L175 311L171 308L168 306L164 305" stroke="#c23ee2" stroke-width="5.1" opacity="0.8" fill="none" stroke-linecap="round" filter="url(#b1)"/>
<path d="M208 391L205 393L201 394L196 394L194 397L189 397L186 400L182 401L179 403L175 406L171 407L168 408L164 409L160 410L156 412" stroke="#c23ee2" stroke-width="2.8" opacity="0.8" fill="none" stroke-linecap="round" filter="url(#b1)"/>
<path d="M230 259L226 258L222 256L220 252L217 250L213 248L211 244L207 242L203 241L200 238L195 239" stroke="#c23ee2" stroke-width="4.2" opacity="0.8" fill="none" stroke-linecap="round" filter="url(#b1)"/>
<path d="M201 282L197 281L193 280L189 280L185 279L181 278L177 276L174 274L170 272L166 271L163 270L159 269" stroke="#c23ee2" stroke-width="3.4" opacity="0.8" fill="none" stroke-linecap="round" filter="url(#b1)"/>
<path d="M214 259L211 256L208 252L204 252L201 250L196 250L193 248L189 246L185 245L182 243L178 242L174 240L172 236L169 233" stroke="#c23ee2" stroke-width="5.2" opacity="0.8" fill="none" stroke-linecap="round" filter="url(#b1)"/>
<path d="M182 351L178 351L175 356L171 357L167 356L163 355L159 356L155 357L151 356L147 355L143 356L139 356L135 357L131 357L127 358" stroke="#c23ee2" stroke-width="5.9" opacity="0.8" fill="none" stroke-linecap="round" filter="url(#b1)"/>
<path d="M200 389L196 391L192 391L189 394L186 396L182 398L178 399L174 400" stroke="#c23ee2" stroke-width="3.8" opacity="0.8" fill="none" stroke-linecap="round" filter="url(#b1)"/>
<path d="M201 283L197 281L194 279L190 278L186 279L182 277L178 275L174 274L170 273L167 272L162 272L159 270L155 268L151 267" stroke="#c23ee2" stroke-width="5.4" opacity="0.8" fill="none" stroke-linecap="round" filter="url(#b1)"/>
<path d="M217 283L213 282L210 280L206 279L202 278L198 277L195 275L190 275L187 273L182 274L178 273" stroke="#c23ee2" stroke-width="5.9" opacity="0.8" fill="none" stroke-linecap="round" filter="url(#b1)"/>
<path d="M191 313L188 311L184 310L180 310L176 310L171 311L168 310L164 309" stroke="#c23ee2" stroke-width="4.4" opacity="0.8" fill="none" stroke-linecap="round" filter="url(#b1)"/>
<path d="M207 326L203 327L199 325L195 325L191 325L187 325L183 325L179 327L175 329L171 328L167 325L163 325L159 323" stroke="#c23ee2" stroke-width="5.8" opacity="0.8" fill="none" stroke-linecap="round" filter="url(#b1)"/>
<path d="M495 422L498 425L501 428L504 431L507 433L511 434L515 435L518 438L522 440L524 444L528 445L532 447L535 449L538 451L541 454L545 456" stroke="#c23ee2" stroke-width="3.2" opacity="0.8" fill="none" stroke-linecap="round" filter="url(#b1)"/>
<path d="M467 457L471 459L474 462L478 463L481 466L484 469L484 474L488 476L492 478L493 482L497 484L498 488L500 492L503 495" stroke="#c23ee2" stroke-width="4.9" opacity="0.8" fill="none" stroke-linecap="round" filter="url(#b1)"/>
<path d="M377 496L378 500L380 504L378 508L380 512L382 516L381 520L383 524L382 528L382 532L382 536L384 540L385 544L386 548L387 552L387 556L387 560" stroke="#c23ee2" stroke-width="4.9" opacity="0.8" fill="none" stroke-linecap="round" filter="url(#b1)"/>
<path d="M404 480L406 484L408 488L410 491L410 495L411 499L413 503L412 507L414 511L416 514L418 518L419 522" stroke="#c23ee2" stroke-width="2.6" opacity="0.8" fill="none" stroke-linecap="round" filter="url(#b1)"/>
<path d="M418 487L419 491L422 494L424 497L426 501L427 505L429 508L431 512L433 515L434 519" stroke="#c23ee2" stroke-width="4.4" opacity="0.8" fill="none" stroke-linecap="round" filter="url(#b1)"/>
<path d="M404 503L403 508L404 512L405 516L406 519L408 523L411 526L412 530L413 534L415 538" stroke="#c23ee2" stroke-width="5.8" opacity="0.8" fill="none" stroke-linecap="round" filter="url(#b1)"/>
<path d="M470 449L472 452L474 456L478 458L479 462L481 466L485 468L489 470L491 473L494 476L498 478L501 480" stroke="#c23ee2" stroke-width="3.8" opacity="0.8" fill="none" stroke-linecap="round" filter="url(#b1)"/>
<path d="M375 501L375 505L376 509L376 513L376 517L377 521L380 524L380 529L379 533L379 537L380 541L381 545L379 549L379 553L379 557" stroke="#c23ee2" stroke-width="4.6" opacity="0.8" fill="none" stroke-linecap="round" filter="url(#b1)"/>
<path d="M441 475L443 479L445 483L447 486L448 490L450 493L452 497L455 500L458 503L460 506L462 510L462 514L464 518L467 521L468 525L471 528L472 531" stroke="#c23ee2" stroke-width="4.2" opacity="0.8" fill="none" stroke-linecap="round" filter="url(#b1)"/>
<path d="M373 488L372 492L374 496L374 500L375 504L377 508L380 511L380 515L380 519L381 523L380 527L381 531L381 535L381 539L381 543" stroke="#c23ee2" stroke-width="5.8" opacity="0.8" fill="none" stroke-linecap="round" filter="url(#b1)"/>
<path d="M438 497L441 500L443 503L445 507L447 510L449 514L452 517L452 521L452 526L452 530L454 534L458 536" stroke="#c23ee2" stroke-width="4.9" opacity="0.8" fill="none" stroke-linecap="round" filter="url(#b1)"/>
<path d="M383 488L384 492L383 496L383 500L382 504L383 508L383 512L384 516L385 520L386 524L386 528L386 532L389 535" stroke="#c23ee2" stroke-width="5.7" opacity="0.8" fill="none" stroke-linecap="round" filter="url(#b1)"/>
<path d="M551 267L555 266L558 264L562 262L566 262L570 262L574 261L577 258L581 257L585 255L589 254L593 255L597 255L601 254" stroke="#c23ee2" stroke-width="4.3" opacity="0.8" fill="none" stroke-linecap="round" filter="url(#b1)"/>
<path d="M551 280L555 280L559 279L563 278L567 277L570 276L574 275L578 274L582 271L586 270L590 270L594 270L597 268L602 269L605 267" stroke="#c23ee2" stroke-width="3.0" opacity="0.8" fill="none" stroke-linecap="round" filter="url(#b1)"/>
<path d="M525 227L528 224L532 223L535 221L538 218L542 217L546 216L548 211L552 209L555 207L559 205" stroke="#c23ee2" stroke-width="3.8" opacity="0.8" fill="none" stroke-linecap="round" filter="url(#b1)"/>
<path d="M518 234L522 233L525 230L529 230L533 228L536 225L540 223" stroke="#c23ee2" stroke-width="4.0" opacity="0.8" fill="none" stroke-linecap="round" filter="url(#b1)"/>
<path d="M519 200L522 198L525 195L529 194L533 191L535 188L539 186L541 183L545 182L547 178L550 176L555 175L557 171L560 169L564 167L568 165L571 163" stroke="#c23ee2" stroke-width="4.2" opacity="0.8" fill="none" stroke-linecap="round" filter="url(#b1)"/>
<path d="M562 284L565 283L569 282L574 283L578 282L581 281L586 281L589 280L593 278L597 276L601 276" stroke="#c23ee2" stroke-width="4.7" opacity="0.8" fill="none" stroke-linecap="round" filter="url(#b1)"/>
<path d="M551 287L555 285L559 286L563 286L567 284L570 281L574 280L578 279L582 279L586 278L590 278L594 278L598 277L602 276L606 275L610 275L614 274L617 271" stroke="#c23ee2" stroke-width="3.9" opacity="0.8" fill="none" stroke-linecap="round" filter="url(#b1)"/>
<path d="M228 244L225 241L220 241L218 238L215 235L213 231L208 231L204 229L201 226L197 225L194 223" stroke="#c23ee2" stroke-width="5.6" opacity="0.8" fill="none" stroke-linecap="round" filter="url(#b1)"/>
<path d="M277 209L276 205L274 202L271 199L268 196L266 192L264 189L262 186L259 183L256 180L253 177L251 174L248 171" stroke="#c23ee2" stroke-width="3.1" opacity="0.8" fill="none" stroke-linecap="round" filter="url(#b1)"/>
<path d="M254 218L251 215L248 213L246 210L244 206L241 203L239 199L238 195L235 192L232 189L230 186L227 183L225 180L222 177L219 175L216 172L212 169" stroke="#c23ee2" stroke-width="4.1" opacity="0.8" fill="none" stroke-linecap="round" filter="url(#b1)"/>
<path d="M228 228L224 227L220 225L217 223L214 220L211 217L208 215L205 212L202 209L200 205" stroke="#c23ee2" stroke-width="4.9" opacity="0.8" fill="none" stroke-linecap="round" filter="url(#b1)"/>
<path d="M227 249L224 248L220 246L216 244L214 241L211 237L208 235L205 232L203 228L198 228L195 226L191 224L188 222" stroke="#c23ee2" stroke-width="3.3" opacity="0.8" fill="none" stroke-linecap="round" filter="url(#b1)"/>
<path d="M233 246L230 242L227 241L224 238L221 235L218 232L215 229L211 228L208 226" stroke="#c23ee2" stroke-width="5.6" opacity="0.8" fill="none" stroke-linecap="round" filter="url(#b1)"/>
<path d="M220 249L217 247L213 246L209 244L206 241L204 238L200 236L197 234L193 232L190 230L186 229L182 227" stroke="#c23ee2" stroke-width="3.2" opacity="0.8" fill="none" stroke-linecap="round" filter="url(#b1)"/>
<path d="M105 356 L150 352 L184 360" stroke="#e050ff" stroke-width="3" fill="none" filter="url(#b1)"/>
<path d="M128 440 L160 425 L185 418" stroke="#d040f0" stroke-width="5" fill="none" opacity="0.8" filter="url(#b1)"/>
<g clip-path="url(#clipA)"><rect x="0" y="0" width="720" height="700" filter="url(#noiseW)" opacity="0.05"/></g>
<path d="M200.0 65.8C205.3 60.5 209.7 50.8 215.8 44.7C221.9 38.6 226.8 33.8 236.8 29.0C246.8 24.2 262.8 18.9 276.0 15.8C289.2 12.7 303.5 11.2 315.8 10.5C328.1 9.8 340.0 10.7 350.0 11.8C360.0 12.9 367.2 14.6 376.0 17.0C384.8 19.4 393.8 23.9 402.6 26.3C411.4 28.7 420.3 29.4 429.0 31.6C437.7 33.8 446.2 36.0 455.0 39.5C463.8 43.0 476.3 49.1 481.6 52.6C486.9 56.1 482.4 58.3 486.8 60.5C491.2 62.7 500.1 62.7 508.0 65.8C515.9 68.9 525.2 74.6 534.0 79.0C542.8 83.4 552.6 87.7 560.5 92.0C568.4 96.3 575.9 100.6 581.6 105.0C587.3 109.4 590.8 113.6 594.7 118.4C598.6 123.2 602.0 127.9 605.0 134.0C608.0 140.1 609.0 149.3 613.0 155.0C617.0 160.7 623.7 163.6 629.0 168.4C634.3 173.2 639.9 178.7 644.7 184.0C649.5 189.3 653.6 193.8 658.0 200.0C662.4 206.2 667.1 214.0 671.0 221.0C674.9 228.0 679.2 235.0 681.6 242.0C684.0 249.0 685.1 256.0 685.5 263.0C685.9 270.0 685.1 278.3 684.0 284.0C682.9 289.7 679.4 292.1 679.0 297.4C678.6 302.7 680.5 308.4 681.6 315.8C682.7 323.2 684.6 333.0 685.5 342.0C686.4 351.0 687.4 358.8 686.8 370.0C686.1 381.2 684.2 399.0 681.6 409.0C679.0 419.0 675.0 423.4 671.0 430.0C667.0 436.6 662.3 443.1 657.9 448.4C653.5 453.7 646.0 455.9 644.7 461.6C643.4 467.3 648.7 474.7 650.0 482.6C651.3 490.5 653.0 499.4 652.6 509.0C652.2 518.6 650.0 530.9 647.4 540.5C644.8 550.1 641.6 558.9 636.8 566.8C632.0 574.7 625.9 581.9 618.4 588.0C610.9 594.1 601.6 599.4 592.0 603.7C582.4 608.0 572.3 611.4 560.5 614.0C548.7 616.6 534.1 618.2 521.0 619.5C507.9 620.8 491.3 621.1 481.6 622.0C471.9 622.9 468.3 622.5 463.0 624.7C457.7 626.9 455.7 631.8 450.0 635.3C444.3 638.8 436.9 642.7 429.0 645.8C421.1 648.9 411.4 651.5 402.6 653.7C393.8 655.9 384.8 657.9 376.0 659.0C367.2 660.1 355.7 659.9 350.0 660.3C344.3 660.7 347.7 662.3 342.0 661.6C336.3 660.9 324.6 658.1 315.8 656.3C307.1 654.5 298.3 652.8 289.5 651.0C280.7 649.2 271.8 647.5 263.0 645.8C254.2 644.0 245.6 642.7 236.8 640.5C228.1 638.3 218.4 635.7 210.5 632.6C202.6 629.5 197.4 624.6 189.5 622.0C181.6 619.4 170.9 619.5 163.0 616.8C155.1 614.1 148.6 610.8 142.0 606.0C135.4 601.2 128.9 594.5 123.7 588.0C118.5 581.5 114.0 573.4 110.5 566.8C107.0 560.2 103.9 553.7 102.6 548.4C101.3 543.1 104.4 539.4 102.6 535.0C100.8 530.6 96.8 527.7 92.0 522.0C87.2 516.3 80.3 508.4 73.7 501.0C67.1 493.6 59.2 485.3 52.6 477.4C46.0 469.5 39.0 461.6 34.2 453.7C29.4 445.8 26.8 439.6 23.7 430.0C20.6 420.4 17.1 408.1 15.8 395.8C14.5 383.5 15.4 367.0 15.8 356.0C16.2 345.0 17.1 336.7 18.4 330.0C19.7 323.3 21.5 321.2 23.7 315.8C25.9 310.4 29.0 302.7 31.6 297.4C34.2 292.1 39.1 289.7 39.5 284.0C39.9 278.3 35.1 268.7 34.2 263.0C33.3 257.3 32.5 256.6 34.2 250.0C36.0 243.4 40.7 231.2 44.7 223.7C48.7 216.2 54.0 212.4 58.0 205.0C62.0 197.6 64.1 187.7 68.4 179.0C72.7 170.3 77.9 160.5 84.0 152.6C90.1 144.7 97.1 138.6 105.0 131.6C112.9 124.6 122.8 117.1 131.6 110.5C140.4 103.9 149.3 97.7 158.0 92.0C166.7 86.3 177.0 80.7 184.0 76.3C191.0 71.9 194.7 71.1 200.0 65.8Z" fill="none" stroke="#7a7480" stroke-width="30" opacity="0.4" filter="url(#b6)"/>
<ellipse cx="350" cy="35" rx="150" ry="38" fill="#8a6a90" opacity="0.35" filter="url(#b8)"/>
<ellipse cx="368" cy="343" rx="62" ry="64" fill="url(#glowA2)" opacity="0.95"/>
<circle cx="353.5" cy="332.8" r="80.5" fill="none" stroke="#e8b4f6" stroke-width="5" opacity="0.9" filter="url(#b1)"/>
</g>
<path d="M200.0 65.8C205.3 60.5 209.7 50.8 215.8 44.7C221.9 38.6 226.8 33.8 236.8 29.0C246.8 24.2 262.8 18.9 276.0 15.8C289.2 12.7 303.5 11.2 315.8 10.5C328.1 9.8 340.0 10.7 350.0 11.8C360.0 12.9 367.2 14.6 376.0 17.0C384.8 19.4 393.8 23.9 402.6 26.3C411.4 28.7 420.3 29.4 429.0 31.6C437.7 33.8 446.2 36.0 455.0 39.5C463.8 43.0 476.3 49.1 481.6 52.6C486.9 56.1 482.4 58.3 486.8 60.5C491.2 62.7 500.1 62.7 508.0 65.8C515.9 68.9 525.2 74.6 534.0 79.0C542.8 83.4 552.6 87.7 560.5 92.0C568.4 96.3 575.9 100.6 581.6 105.0C587.3 109.4 590.8 113.6 594.7 118.4C598.6 123.2 602.0 127.9 605.0 134.0C608.0 140.1 609.0 149.3 613.0 155.0C617.0 160.7 623.7 163.6 629.0 168.4C634.3 173.2 639.9 178.7 644.7 184.0C649.5 189.3 653.6 193.8 658.0 200.0C662.4 206.2 667.1 214.0 671.0 221.0C674.9 228.0 679.2 235.0 681.6 242.0C684.0 249.0 685.1 256.0 685.5 263.0C685.9 270.0 685.1 278.3 684.0 284.0C682.9 289.7 679.4 292.1 679.0 297.4C678.6 302.7 680.5 308.4 681.6 315.8C682.7 323.2 684.6 333.0 685.5 342.0C686.4 351.0 687.4 358.8 686.8 370.0C686.1 381.2 684.2 399.0 681.6 409.0C679.0 419.0 675.0 423.4 671.0 430.0C667.0 436.6 662.3 443.1 657.9 448.4C653.5 453.7 646.0 455.9 644.7 461.6C643.4 467.3 648.7 474.7 650.0 482.6C651.3 490.5 653.0 499.4 652.6 509.0C652.2 518.6 650.0 530.9 647.4 540.5C644.8 550.1 641.6 558.9 636.8 566.8C632.0 574.7 625.9 581.9 618.4 588.0C610.9 594.1 601.6 599.4 592.0 603.7C582.4 608.0 572.3 611.4 560.5 614.0C548.7 616.6 534.1 618.2 521.0 619.5C507.9 620.8 491.3 621.1 481.6 622.0C471.9 622.9 468.3 622.5 463.0 624.7C457.7 626.9 455.7 631.8 450.0 635.3C444.3 638.8 436.9 642.7 429.0 645.8C421.1 648.9 411.4 651.5 402.6 653.7C393.8 655.9 384.8 657.9 376.0 659.0C367.2 660.1 355.7 659.9 350.0 660.3C344.3 660.7 347.7 662.3 342.0 661.6C336.3 660.9 324.6 658.1 315.8 656.3C307.1 654.5 298.3 652.8 289.5 651.0C280.7 649.2 271.8 647.5 263.0 645.8C254.2 644.0 245.6 642.7 236.8 640.5C228.1 638.3 218.4 635.7 210.5 632.6C202.6 629.5 197.4 624.6 189.5 622.0C181.6 619.4 170.9 619.5 163.0 616.8C155.1 614.1 148.6 610.8 142.0 606.0C135.4 601.2 128.9 594.5 123.7 588.0C118.5 581.5 114.0 573.4 110.5 566.8C107.0 560.2 103.9 553.7 102.6 548.4C101.3 543.1 104.4 539.4 102.6 535.0C100.8 530.6 96.8 527.7 92.0 522.0C87.2 516.3 80.3 508.4 73.7 501.0C67.1 493.6 59.2 485.3 52.6 477.4C46.0 469.5 39.0 461.6 34.2 453.7C29.4 445.8 26.8 439.6 23.7 430.0C20.6 420.4 17.1 408.1 15.8 395.8C14.5 383.5 15.4 367.0 15.8 356.0C16.2 345.0 17.1 336.7 18.4 330.0C19.7 323.3 21.5 321.2 23.7 315.8C25.9 310.4 29.0 302.7 31.6 297.4C34.2 292.1 39.1 289.7 39.5 284.0C39.9 278.3 35.1 268.7 34.2 263.0C33.3 257.3 32.5 256.6 34.2 250.0C36.0 243.4 40.7 231.2 44.7 223.7C48.7 216.2 54.0 212.4 58.0 205.0C62.0 197.6 64.1 187.7 68.4 179.0C72.7 170.3 77.9 160.5 84.0 152.6C90.1 144.7 97.1 138.6 105.0 131.6C112.9 124.6 122.8 117.1 131.6 110.5C140.4 103.9 149.3 97.7 158.0 92.0C166.7 86.3 177.0 80.7 184.0 76.3C191.0 71.9 194.7 71.1 200.0 65.8Z" fill="none" stroke="#47454b" stroke-width="2.2" opacity="0.85" filter="url(#serr)"/>
</g>
<g id="botfilm">
<clipPath id="clipB"><path d="M360.0 720.5C366.8 719.9 376.2 720.3 385.6 720.5C395.0 720.7 407.8 722.6 416.3 721.8C424.8 720.9 429.1 716.5 436.8 715.4C444.5 714.3 454.7 714.5 462.4 715.4C470.1 716.2 476.6 717.5 483.0 720.5C489.4 723.5 495.7 729.0 500.8 733.3C505.9 737.5 509.3 741.7 513.6 746.0C517.9 750.3 522.2 753.9 526.4 759.0C530.6 764.1 534.3 771.3 539.0 776.8C543.7 782.3 549.0 787.7 554.6 792.0C560.2 796.3 566.5 798.1 572.5 802.4C578.5 806.7 585.7 811.8 590.4 817.8C595.1 823.8 598.6 831.4 600.7 838.2C602.8 845.0 603.2 852.7 603.2 858.7C603.2 864.7 598.6 869.7 600.7 874.0C602.8 878.3 609.2 881.3 616.0 884.3C622.8 887.3 633.1 887.7 641.6 892.0C650.1 896.3 660.4 903.6 667.2 910.0C674.0 916.4 678.3 922.7 682.6 930.4C686.9 938.1 690.2 947.5 692.8 956.0C695.4 964.5 697.1 973.1 698.0 981.6C698.9 990.1 698.4 998.7 698.0 1007.2C697.6 1015.7 696.7 1025.3 695.4 1032.8C694.1 1040.3 693.0 1045.8 690.0 1052.0C687.0 1058.2 681.7 1064.8 677.5 1070.0C673.3 1075.2 666.0 1077.8 664.7 1083.5C663.4 1089.2 668.9 1096.3 669.8 1104.0C670.6 1111.7 671.1 1121.9 669.8 1129.6C668.5 1137.3 665.4 1143.6 662.0 1150.0C658.6 1156.4 654.0 1162.9 649.3 1168.0C644.6 1173.1 636.5 1175.7 634.0 1180.8C631.5 1185.9 633.6 1192.3 634.0 1198.7C634.4 1205.1 636.9 1212.8 636.5 1219.2C636.1 1225.6 634.0 1231.5 631.4 1237.0C628.8 1242.5 623.1 1246.9 621.0 1252.5C618.9 1258.1 620.3 1263.2 618.6 1270.4C616.9 1277.7 614.4 1289.2 611.0 1296.0C607.6 1302.8 603.2 1305.4 598.0 1311.4C592.8 1317.4 586.4 1326.8 580.0 1331.9C573.6 1337.0 566.5 1339.5 559.7 1342.0C552.9 1344.5 546.7 1345.0 539.0 1347.2C531.3 1349.4 522.1 1352.4 513.6 1355.0C505.1 1357.6 496.5 1360.5 488.0 1362.6C479.5 1364.7 470.9 1365.6 462.4 1367.7C453.9 1369.8 445.3 1373.7 436.8 1375.4C428.3 1377.1 419.7 1377.6 411.2 1378.0C402.7 1378.4 394.1 1378.4 385.6 1378.0C377.1 1377.6 369.7 1376.3 360.0 1375.4C350.3 1374.5 336.9 1374.1 327.2 1372.8C317.5 1371.5 310.1 1370.7 301.6 1367.7C293.1 1364.7 282.4 1358.4 276.0 1355.0C269.6 1351.6 267.5 1348.1 263.2 1347.2C258.9 1346.3 256.8 1349.8 250.4 1349.8C244.0 1349.8 233.3 1348.5 224.8 1347.2C216.3 1345.9 207.7 1344.6 199.2 1342.1C190.7 1339.5 182.1 1336.2 173.6 1331.9C165.1 1327.6 155.7 1322.5 148.0 1316.5C140.3 1310.5 133.1 1303.7 127.5 1296.0C122.0 1288.3 118.1 1278.9 114.7 1270.4C111.3 1261.9 108.7 1253.3 107.0 1244.8C105.3 1236.3 107.5 1226.9 104.5 1219.2C101.5 1211.5 93.2 1205.1 89.0 1198.7C84.8 1192.3 82.4 1188.0 79.0 1180.8C75.6 1173.5 71.6 1162.5 68.6 1155.2C65.6 1148.0 64.4 1143.7 61.0 1137.3C57.6 1130.9 51.2 1124.5 48.2 1116.8C45.2 1109.1 43.9 1099.7 43.0 1091.2C42.1 1082.7 43.2 1074.1 43.0 1065.6C42.8 1057.1 42.6 1047.6 42.0 1040.0C41.4 1032.4 39.9 1027.2 39.2 1020.0C38.5 1012.8 37.8 1005.1 38.0 997.0C38.2 988.9 38.4 979.9 40.5 971.4C42.6 962.9 46.5 953.5 50.7 945.8C55.0 938.1 60.5 930.4 66.0 925.3C71.5 920.2 77.6 918.4 84.0 915.0C90.4 911.6 100.7 909.9 104.5 904.8C108.3 899.7 106.2 892.0 107.0 884.3C107.8 876.6 107.9 866.8 109.6 858.7C111.3 850.6 113.9 843.0 117.3 835.7C120.7 828.5 124.9 821.6 130.0 815.2C135.1 808.8 140.7 802.8 148.0 797.3C155.3 791.8 165.1 787.1 173.6 782.0C182.1 776.9 190.7 770.9 199.2 766.6C207.7 762.3 216.3 758.9 224.8 756.3C233.3 753.7 241.9 752.1 250.4 751.2C258.9 750.4 267.5 750.6 276.0 751.2C284.5 751.8 293.1 757.6 301.6 755.0C310.1 752.4 320.0 741.0 327.2 735.8C334.4 730.6 339.5 726.5 345.0 724.0C350.5 721.5 353.2 721.1 360.0 720.5Z"/></clipPath>
<radialGradient id="mSpeck" gradientUnits="userSpaceOnUse" cx="357" cy="1045.5" r="160"><stop offset="0" stop-color="#fff" stop-opacity="0.3"/><stop offset="0.4" stop-color="#fff" stop-opacity="0.9"/><stop offset="0.8" stop-color="#fff" stop-opacity="1"/><stop offset="0.92" stop-color="#fff" stop-opacity="0.25"/><stop offset="1" stop-color="#fff" stop-opacity="0"/></radialGradient>
<mask id="maskSpeck" maskUnits="userSpaceOnUse" x="150" y="840" width="420" height="420"><rect x="150" y="840" width="420" height="420" fill="url(#mSpeck)"/></mask>
<radialGradient id="mRing"><stop offset="0.8" stop-color="#fff" stop-opacity="0"/><stop offset="0.855" stop-color="#fff" stop-opacity="1"/><stop offset="0.885" stop-color="#fff" stop-opacity="1"/><stop offset="0.94" stop-color="#fff" stop-opacity="0"/></radialGradient>
<mask id="maskRing" maskUnits="userSpaceOnUse" x="140" y="830" width="440" height="440"><ellipse cx="357" cy="1045.5" rx="200" ry="189" fill="url(#mRing)"/></mask>
<g clip-path="url(#clipB)">
<path d="M360.0 720.5C366.8 719.9 376.2 720.3 385.6 720.5C395.0 720.7 407.8 722.6 416.3 721.8C424.8 720.9 429.1 716.5 436.8 715.4C444.5 714.3 454.7 714.5 462.4 715.4C470.1 716.2 476.6 717.5 483.0 720.5C489.4 723.5 495.7 729.0 500.8 733.3C505.9 737.5 509.3 741.7 513.6 746.0C517.9 750.3 522.2 753.9 526.4 759.0C530.6 764.1 534.3 771.3 539.0 776.8C543.7 782.3 549.0 787.7 554.6 792.0C560.2 796.3 566.5 798.1 572.5 802.4C578.5 806.7 585.7 811.8 590.4 817.8C595.1 823.8 598.6 831.4 600.7 838.2C602.8 845.0 603.2 852.7 603.2 858.7C603.2 864.7 598.6 869.7 600.7 874.0C602.8 878.3 609.2 881.3 616.0 884.3C622.8 887.3 633.1 887.7 641.6 892.0C650.1 896.3 660.4 903.6 667.2 910.0C674.0 916.4 678.3 922.7 682.6 930.4C686.9 938.1 690.2 947.5 692.8 956.0C695.4 964.5 697.1 973.1 698.0 981.6C698.9 990.1 698.4 998.7 698.0 1007.2C697.6 1015.7 696.7 1025.3 695.4 1032.8C694.1 1040.3 693.0 1045.8 690.0 1052.0C687.0 1058.2 681.7 1064.8 677.5 1070.0C673.3 1075.2 666.0 1077.8 664.7 1083.5C663.4 1089.2 668.9 1096.3 669.8 1104.0C670.6 1111.7 671.1 1121.9 669.8 1129.6C668.5 1137.3 665.4 1143.6 662.0 1150.0C658.6 1156.4 654.0 1162.9 649.3 1168.0C644.6 1173.1 636.5 1175.7 634.0 1180.8C631.5 1185.9 633.6 1192.3 634.0 1198.7C634.4 1205.1 636.9 1212.8 636.5 1219.2C636.1 1225.6 634.0 1231.5 631.4 1237.0C628.8 1242.5 623.1 1246.9 621.0 1252.5C618.9 1258.1 620.3 1263.2 618.6 1270.4C616.9 1277.7 614.4 1289.2 611.0 1296.0C607.6 1302.8 603.2 1305.4 598.0 1311.4C592.8 1317.4 586.4 1326.8 580.0 1331.9C573.6 1337.0 566.5 1339.5 559.7 1342.0C552.9 1344.5 546.7 1345.0 539.0 1347.2C531.3 1349.4 522.1 1352.4 513.6 1355.0C505.1 1357.6 496.5 1360.5 488.0 1362.6C479.5 1364.7 470.9 1365.6 462.4 1367.7C453.9 1369.8 445.3 1373.7 436.8 1375.4C428.3 1377.1 419.7 1377.6 411.2 1378.0C402.7 1378.4 394.1 1378.4 385.6 1378.0C377.1 1377.6 369.7 1376.3 360.0 1375.4C350.3 1374.5 336.9 1374.1 327.2 1372.8C317.5 1371.5 310.1 1370.7 301.6 1367.7C293.1 1364.7 282.4 1358.4 276.0 1355.0C269.6 1351.6 267.5 1348.1 263.2 1347.2C258.9 1346.3 256.8 1349.8 250.4 1349.8C244.0 1349.8 233.3 1348.5 224.8 1347.2C216.3 1345.9 207.7 1344.6 199.2 1342.1C190.7 1339.5 182.1 1336.2 173.6 1331.9C165.1 1327.6 155.7 1322.5 148.0 1316.5C140.3 1310.5 133.1 1303.7 127.5 1296.0C122.0 1288.3 118.1 1278.9 114.7 1270.4C111.3 1261.9 108.7 1253.3 107.0 1244.8C105.3 1236.3 107.5 1226.9 104.5 1219.2C101.5 1211.5 93.2 1205.1 89.0 1198.7C84.8 1192.3 82.4 1188.0 79.0 1180.8C75.6 1173.5 71.6 1162.5 68.6 1155.2C65.6 1148.0 64.4 1143.7 61.0 1137.3C57.6 1130.9 51.2 1124.5 48.2 1116.8C45.2 1109.1 43.9 1099.7 43.0 1091.2C42.1 1082.7 43.2 1074.1 43.0 1065.6C42.8 1057.1 42.6 1047.6 42.0 1040.0C41.4 1032.4 39.9 1027.2 39.2 1020.0C38.5 1012.8 37.8 1005.1 38.0 997.0C38.2 988.9 38.4 979.9 40.5 971.4C42.6 962.9 46.5 953.5 50.7 945.8C55.0 938.1 60.5 930.4 66.0 925.3C71.5 920.2 77.6 918.4 84.0 915.0C90.4 911.6 100.7 909.9 104.5 904.8C108.3 899.7 106.2 892.0 107.0 884.3C107.8 876.6 107.9 866.8 109.6 858.7C111.3 850.6 113.9 843.0 117.3 835.7C120.7 828.5 124.9 821.6 130.0 815.2C135.1 808.8 140.7 802.8 148.0 797.3C155.3 791.8 165.1 787.1 173.6 782.0C182.1 776.9 190.7 770.9 199.2 766.6C207.7 762.3 216.3 758.9 224.8 756.3C233.3 753.7 241.9 752.1 250.4 751.2C258.9 750.4 267.5 750.6 276.0 751.2C284.5 751.8 293.1 757.6 301.6 755.0C310.1 752.4 320.0 741.0 327.2 735.8C334.4 730.6 339.5 726.5 345.0 724.0C350.5 721.5 353.2 721.1 360.0 720.5Z" fill="#a028c0"/>
<g stroke="#d444f2" stroke-linecap="round" opacity="0.4" filter="url(#b4)"><line x1="201" y1="893" x2="106" y2="801" stroke-width="15.4"/><line x1="343" y1="819" x2="339" y2="757" stroke-width="10.1"/><line x1="558" y1="971" x2="690" y2="922" stroke-width="6.2"/><line x1="165" y1="1083" x2="58" y2="1104" stroke-width="11.3"/><line x1="551" y1="1062" x2="636" y2="1069" stroke-width="15.1"/><line x1="376" y1="854" x2="389" y2="723" stroke-width="6.5"/><line x1="216" y1="917" x2="171" y2="877" stroke-width="14.6"/><line x1="406" y1="1234" x2="443" y2="1378" stroke-width="14.6"/><line x1="301" y1="1267" x2="275" y2="1372" stroke-width="12.5"/><line x1="421" y1="1264" x2="455" y2="1381" stroke-width="15.6"/><line x1="513" y1="923" x2="585" y2="865" stroke-width="6.8"/><line x1="472" y1="1195" x2="525" y2="1264" stroke-width="11.6"/><line x1="572" y1="1050" x2="663" y2="1052" stroke-width="8.4"/><line x1="443" y1="858" x2="480" y2="777" stroke-width="10.3"/><line x1="304" y1="865" x2="263" y2="724" stroke-width="5.3"/><line x1="357" y1="822" x2="357" y2="761" stroke-width="13.7"/><line x1="216" y1="1203" x2="176" y2="1248" stroke-width="5.5"/><line x1="453" y1="1252" x2="486" y2="1323" stroke-width="13.3"/><line x1="563" y1="948" x2="645" y2="909" stroke-width="8.9"/><line x1="140" y1="1012" x2="71" y2="1001" stroke-width="13.2"/><line x1="422" y1="832" x2="441" y2="771" stroke-width="15.4"/><line x1="525" y1="1154" x2="622" y2="1216" stroke-width="15.1"/><line x1="236" y1="1237" x2="177" y2="1329" stroke-width="8.4"/><line x1="278" y1="1222" x2="251" y2="1283" stroke-width="6.6"/><line x1="271" y1="832" x2="243" y2="763" stroke-width="5.5"/><line x1="565" y1="1028" x2="661" y2="1020" stroke-width="7.6"/><line x1="172" y1="922" x2="89" y2="866" stroke-width="9.6"/><line x1="570" y1="1123" x2="629" y2="1145" stroke-width="10.4"/><line x1="458" y1="883" x2="524" y2="776" stroke-width="15.4"/><line x1="206" y1="884" x2="159" y2="834" stroke-width="9.8"/><line x1="489" y1="1225" x2="540" y2="1295" stroke-width="10.0"/><line x1="580" y1="1045" x2="728" y2="1044" stroke-width="10.0"/><line x1="140" y1="1062" x2="37" y2="1069" stroke-width="8.2"/><line x1="199" y1="1154" x2="122" y2="1208" stroke-width="15.9"/><line x1="563" y1="992" x2="665" y2="966" stroke-width="8.7"/><line x1="524" y1="1150" x2="635" y2="1220" stroke-width="14.5"/><line x1="215" y1="1214" x2="132" y2="1313" stroke-width="12.6"/><line x1="244" y1="858" x2="197" y2="778" stroke-width="12.7"/><line x1="317" y1="1248" x2="292" y2="1375" stroke-width="12.6"/><line x1="295" y1="1264" x2="263" y2="1378" stroke-width="11.4"/><line x1="566" y1="1061" x2="648" y2="1067" stroke-width="12.4"/><line x1="141" y1="1097" x2="26" y2="1124" stroke-width="13.8"/><line x1="234" y1="1220" x2="161" y2="1324" stroke-width="14.1"/><line x1="226" y1="1226" x2="145" y2="1338" stroke-width="12.6"/><line x1="582" y1="1011" x2="688" y2="995" stroke-width="10.8"/><line x1="469" y1="1238" x2="541" y2="1363" stroke-width="10.2"/><line x1="279" y1="843" x2="234" y2="725" stroke-width="6.9"/><line x1="397" y1="838" x2="420" y2="720" stroke-width="9.6"/><line x1="200" y1="891" x2="117" y2="809" stroke-width="12.9"/><line x1="546" y1="1079" x2="645" y2="1096" stroke-width="12.2"/><line x1="399" y1="1257" x2="421" y2="1372" stroke-width="5.5"/><line x1="165" y1="1080" x2="101" y2="1092" stroke-width="6.5"/><line x1="278" y1="1222" x2="246" y2="1292" stroke-width="5.4"/><line x1="160" y1="1089" x2="47" y2="1114" stroke-width="11.5"/><line x1="374" y1="1270" x2="379" y2="1330" stroke-width="9.5"/><line x1="321" y1="1246" x2="308" y2="1315" stroke-width="14.1"/><line x1="226" y1="1178" x2="145" y2="1260" stroke-width="6.0"/><line x1="165" y1="989" x2="57" y2="958" stroke-width="15.5"/><line x1="442" y1="860" x2="498" y2="739" stroke-width="12.1"/><line x1="226" y1="1185" x2="149" y2="1269" stroke-width="11.2"/><line x1="577" y1="985" x2="688" y2="954" stroke-width="8.9"/><line x1="502" y1="931" x2="557" y2="887" stroke-width="11.2"/><line x1="214" y1="919" x2="126" y2="842" stroke-width="14.8"/><line x1="212" y1="1189" x2="155" y2="1246" stroke-width="8.2"/><line x1="556" y1="1011" x2="700" y2="985" stroke-width="15.1"/><line x1="195" y1="934" x2="73" y2="850" stroke-width="10.5"/><line x1="185" y1="1146" x2="57" y2="1222" stroke-width="10.4"/><line x1="310" y1="1247" x2="294" y2="1316" stroke-width="11.8"/><line x1="171" y1="1114" x2="49" y2="1160" stroke-width="14.1"/><line x1="565" y1="1063" x2="650" y2="1070" stroke-width="15.3"/></g>
<rect x="20" y="700" width="700" height="700" filter="url(#mottle)" opacity="0.55"/>
<ellipse cx="357" cy="1045.5" rx="200" ry="190" fill="url(#centB)"/>
<ellipse cx="352" cy="1040" rx="72" ry="70" fill="#f0b0f8" opacity="0.45" filter="url(#b8)"/>
<rect x="150" y="840" width="420" height="420" filter="url(#lightPatch)" mask="url(#maskSpeck)" opacity="0.45"/>
<rect x="140" y="830" width="440" height="440" filter="url(#ringTex)" mask="url(#maskRing)" opacity="0.75"/>
<rect x="150" y="840" width="420" height="420" filter="url(#speck)" mask="url(#maskSpeck)"/>
<path d="M387 904L388 901L388 898L389 895L389 892M221 941L218 940L216 938L213 936M311 1199L310 1202L309 1204L308 1207L307 1210L306 1213L305 1216M512 957L515 955L517 953L520 952L522 950L525 948L527 946M242 1146L240 1148L237 1150L235 1152L233 1154L230 1156L229 1158L227 1160L224 1162M391 868L392 866L392 863L393 860M450 1180L451 1182L453 1185L455 1187L457 1189L459 1192L461 1194L463 1196L464 1199M525 1099L528 1099L532 1099L534 1100L537 1101M310 1220L309 1223L308 1226L307 1228M490 1083L492 1084L496 1084L498 1084L501 1086L504 1086M222 1108L219 1109L217 1111L214 1112L211 1113L208 1114L206 1116L203 1117M493 959L496 958L499 957L502 956L504 954L506 952L509 950L512 949M345 904L345 902L344 899L344 896L344 893L345 889L344 887L345 883M209 1063L206 1063L203 1064L200 1064L197 1064L194 1065L191 1065L188 1066L185 1065M417 920L418 917L419 914L420 911L422 909L423 906L425 903L427 901M253 905L251 903L249 901L247 899L245 896L243 894M467 1122L469 1124L471 1126L474 1127L477 1129M514 1046L517 1045L520 1045L523 1045L526 1046L529 1046L532 1046L535 1046L538 1046L541 1046M353 1192L353 1195L353 1198L353 1201M492 976L494 974L496 972L499 971L502 970L505 970L508 968L511 967L513 966L516 964M397 1173L398 1176L398 1179L399 1181L401 1184M321 1213L320 1215L320 1218L320 1221L320 1225L320 1228L319 1230L318 1233M518 1110L520 1112L523 1113L526 1115L529 1115L531 1116M519 1123L522 1125L524 1126L527 1127L530 1129L532 1130L535 1131M352 1199L352 1202L351 1205L351 1208L352 1211M223 1019L220 1018L217 1017L215 1016L212 1016M446 933L448 931L449 928M236 925L234 923L232 920L230 918L228 916L226 914L224 912L222 909L221 907L218 905M451 1145L452 1147L454 1149L457 1151L459 1153M514 1109L516 1111L519 1112L522 1113M227 1117L224 1119L222 1121L219 1122L217 1124L214 1125L211 1126L209 1128L206 1129M313 906L312 903L311 900L310 898L309 895L308 892L308 889L307 886L306 883M371 885L372 882L371 879M513 995L516 993L519 992L522 991L525 990M206 956L203 954L201 953L198 951L195 950L193 949L190 947L187 946M284 1210L282 1213L281 1216L281 1219L280 1222L279 1225L277 1227M417 904L419 901L420 898L421 895M469 942L472 940L474 938L476 936L478 934M358 901L359 898L360 895L359 892L358 889L358 886M466 1183L468 1186L470 1189L471 1191L473 1193L475 1196L477 1198M284 883L283 881L281 878L281 875L279 872L278 870L277 867L275 864M503 1071L506 1071L509 1071L512 1071L515 1072L518 1073M297 889L296 886L295 883L294 881L292 878L291 875L291 872M478 1109L481 1110L483 1112L486 1113L488 1115L491 1116M328 913L326 910L326 907L325 904L325 901L324 898L323 895L323 892L321 890M370 1229L370 1232L370 1235L370 1238L370 1241L371 1244L372 1247M496 958L499 957L501 954L503 952L506 950L509 949M392 1189L393 1192L393 1195L393 1198L394 1201M507 1107L509 1109L512 1110L515 1110L518 1112L521 1112L524 1113L526 1115L529 1116M213 933L210 931L207 930L205 928L203 926M219 952L217 951L214 949L211 948L209 946L207 944L204 943L202 941M486 981L489 980L491 978L494 977L497 976L500 975L502 974L505 973M493 1151L495 1153L498 1154L500 1156L503 1157L505 1160L508 1162L510 1164L512 1165M465 1127L467 1129L470 1130L473 1132L475 1134M211 1004L208 1004L205 1003L202 1003M534 1003L537 1002L540 1001L543 1000M208 1065L204 1065L202 1066L199 1066L196 1066L193 1067L190 1068L187 1069L184 1069M265 1196L263 1199L262 1202L259 1204L258 1206L256 1209L255 1211M517 1030L520 1030L523 1030L526 1029L529 1029L532 1030M272 1147L270 1150L268 1152L266 1154L264 1157M393 1226L394 1228L394 1231L394 1235L395 1237L396 1240M502 1095L504 1096L507 1098L510 1098L513 1099L516 1100L518 1102L521 1103L524 1103M440 885L442 883L443 880L445 877L446 875L447 872M539 1013L542 1012L545 1012L548 1011L551 1011M287 926L286 923L284 921L283 918M464 952L466 949L468 947M372 1226L372 1229L373 1232L373 1235L373 1238L373 1241L374 1244L374 1247L375 1249L376 1252M316 915L315 912L314 909L313 907M198 955L195 954L192 953L189 952L187 950M462 1163L464 1165L466 1167L468 1170L470 1171L473 1173L474 1176L476 1178M505 1082L508 1083L511 1083L514 1084L517 1085L520 1085M190 1012L187 1012L184 1012L181 1011L179 1011L176 1010L172 1011L170 1010L167 1010L164 1009M489 978L491 976L494 975L497 974L499 972L502 971L504 969M485 1124L487 1126L490 1128L492 1129M350 900L349 897L348 894L348 891L348 888L348 885L348 882L347 879L348 876M419 1170L421 1173L422 1176L423 1178M429 904L430 902L432 899L433 897L434 894L435 891L436 888L439 886L440 883L441 880M301 920L300 918L300 915L298 912M507 1116L510 1118L513 1119L515 1120L518 1122L521 1123L524 1123L527 1124L529 1125M388 1188L388 1191L389 1194L389 1197L390 1200L391 1203L391 1206L392 1209L393 1212L393 1215M298 902L297 899L295 896L294 893L293 890L291 888L290 885M200 988L197 988L194 987L191 986L189 985L186 983M469 952L471 949L474 948L476 946L479 944L481 943L483 940L485 938M240 979L237 977L235 976L232 975L229 973L227 972L224 970L222 968L219 967L216 966M450 947L453 945L455 943L456 940L458 938M233 1118L230 1120L228 1121M481 1146L483 1147L485 1150L487 1152L489 1154L492 1156L493 1158L496 1160L499 1162L501 1163M335 1205L334 1208L335 1211L334 1214L334 1217L333 1220L332 1223L332 1226L331 1229L331 1232M444 1149L445 1151L447 1154L449 1156L451 1158L453 1160L455 1163L457 1165L460 1167L461 1169M247 961L244 959L243 956L241 954L238 952M488 1129L491 1131L494 1132L496 1133L499 1135L502 1136L504 1138L507 1139M332 909L331 906L331 903L330 901L329 898L329 895L328 892L327 889L327 886M456 948L458 946L461 944L463 943L466 940L467 938M539 1047L542 1046L545 1046L548 1046L551 1046M339 888L338 885L337 882L337 879L337 876L338 873L337 870L337 867M512 1088L515 1089L517 1090L520 1092L523 1092L526 1093L529 1095M268 922L267 919L266 916L264 914L261 912L259 910L257 907L255 905M298 1206L298 1209L297 1212L295 1215L294 1217L293 1220M433 928L435 926L436 923L438 921M195 1111L193 1113L190 1113L187 1115L185 1117L182 1118L179 1120M454 913L457 911L458 908M397 1175L398 1178L399 1181L400 1184L400 1186L401 1189M304 1208L302 1210L301 1213L301 1216L300 1219L299 1222M211 1093L208 1093L205 1095M286 889L285 885L284 883L282 880L281 877L280 875L278 872L277 870L275 867L274 864M356 1214L356 1217L356 1220L356 1223L356 1226L356 1229L356 1232L356 1235L356 1238M326 1174L325 1177L324 1180L323 1183M527 999L530 999L533 998L536 997L539 997L542 996M363 888L364 885L363 882L363 879L364 876L365 873L364 870L364 867L365 864M413 922L414 919L416 916L416 914L417 911L419 908L419 905M281 1206L279 1208L277 1211L276 1213L274 1216L273 1219L271 1221L271 1224L269 1227M204 1075L201 1076L198 1076L195 1076M363 1193L363 1196L362 1199L363 1202M254 1195L252 1198L250 1200L249 1203M502 1148L505 1150L507 1151L510 1153L512 1155L514 1157M341 1220L341 1223L340 1226L340 1229L340 1232L340 1235L340 1238M242 944L240 941L238 939L235 938L233 936L231 934M238 969L235 968L233 966L231 964L228 962L226 961M501 1126L504 1128L506 1129L509 1131L512 1132M180 1034L177 1034L174 1035L171 1034L168 1033L165 1034L162 1033L159 1032L156 1031M237 1171L236 1174L233 1175L232 1178L229 1180L227 1182L225 1184L223 1187L221 1189L219 1191M203 1141L200 1142L198 1144L195 1146L193 1148L190 1149M528 1084L531 1086L534 1086L537 1086L540 1087L543 1087L546 1088L548 1089M250 954L248 952L245 950L243 948L241 946L239 944L237 942L234 940L232 938L230 936M493 1074L495 1074L498 1075L501 1076L504 1077M347 865L347 862L346 859L346 856L346 853L346 850L346 847L345 844L344 841M505 1056L508 1055L511 1055L514 1055L517 1055L520 1055L523 1055L526 1055L529 1056M223 1082L221 1083L218 1083L215 1083M446 899L447 896L449 894L451 891L453 889L455 887L455 884L457 881M520 1055L523 1055L526 1055L529 1056L532 1056M273 906L272 903L270 900L269 898L267 896M339 889L338 886L338 883L338 880L338 877L337 874L337 871L337 868L338 865L337 862M182 1021L179 1021L176 1021L173 1021L170 1020M329 1200L328 1203L328 1206L327 1209L327 1212L326 1215L325 1218L325 1220M209 1047L206 1047L203 1047M489 1118L492 1119L494 1121L497 1122L500 1124L502 1126L505 1127L508 1128M218 1058L215 1058L212 1059L209 1060L206 1061L203 1060L200 1061L197 1060M279 918L277 916L276 913L274 911L272 908L271 905L269 903L267 900M378 1209L377 1212L377 1215L378 1218L378 1221L379 1224L379 1227L380 1230M501 987L504 987L507 986L510 984L512 982L515 982L518 981M264 914L262 912L260 910L258 907L257 905L254 903L253 900L251 898L249 895M513 951L515 949L518 949L520 946L523 945L525 943L527 941L530 939L532 937M199 1052L196 1052L193 1052L190 1052L187 1052L184 1053L181 1052L178 1051M332 1191L330 1194L331 1197L331 1200L331 1203L330 1206L329 1209L328 1212L327 1215M445 1165L447 1168L449 1170L451 1172L452 1175L454 1177L456 1179L458 1182L459 1185M340 1184L339 1187L339 1190L339 1193L339 1196L339 1199L338 1202L338 1205L337 1208M503 1048L506 1048L509 1047L512 1048L515 1048L518 1048L521 1049L524 1050L527 1049L530 1050M218 995L215 995L212 993L209 993M506 995L509 994L511 993L514 992L517 991M372 1230L372 1233L372 1236L373 1239L373 1242L373 1245L373 1248L373 1251M247 1120L245 1121L242 1123L240 1124L237 1126L234 1127L232 1129L229 1131M511 1137L513 1139L516 1141L518 1143L521 1145L523 1146L526 1147M442 906L444 903L445 901L446 898L448 895M188 1107L185 1107L182 1107L179 1108L176 1109L174 1110L171 1111L168 1112L165 1113L162 1114M514 965L516 963L519 962L522 961L525 960L527 958L530 957L533 956L535 954L538 953M382 1203L382 1206L382 1209L383 1212L383 1215L385 1218M532 1080L535 1082L538 1082L541 1082M189 1071L186 1071L183 1071L180 1072L177 1071L174 1072M268 1171L266 1173L264 1176L262 1178L260 1180M218 1082L215 1083L212 1083L209 1084L206 1085L204 1086L201 1087L198 1088M504 994L507 994L509 993L512 991L515 990L518 989L520 988L523 987L526 986M524 1068L527 1068L530 1069L533 1070L536 1070L539 1070M276 884L276 881L275 879L274 876L272 873L270 871L269 868L267 866M322 911L322 908L321 905L320 902L319 899L319 896L319 893L318 890L316 887M276 924L274 922L273 919L270 917M228 924L226 922L224 920L221 918L219 916L217 914L215 912L213 909L212 906L209 905M201 998L198 997L195 996L192 995L189 994L187 993L184 991M355 873L356 870L356 867L356 864L356 861L355 858M520 1047L523 1046L526 1047L529 1048L532 1047L535 1048L538 1048L541 1048L544 1047M495 957L497 955L500 953L502 951L505 950L507 949L510 947M494 1078L497 1078L500 1078L503 1079L506 1080L509 1081M358 878L358 875L357 871L357 868L358 865L358 862M413 895L415 893L415 890L415 887L416 884L418 881L420 879L421 876L423 873L424 871M444 1158L446 1160L448 1163L449 1165L452 1167L452 1170L454 1173L455 1176L457 1178L459 1180M340 1215L340 1218L341 1221L341 1225L341 1227L340 1230L339 1233L338 1236L338 1239L338 1242M254 1149L252 1151L250 1153L248 1156L247 1158L245 1160L242 1162M252 922L250 920L248 917L247 915L244 913L243 910L241 908L239 906L236 904M311 901L310 898L308 895L308 892M237 1182L234 1184L232 1186L231 1188L229 1191L226 1193L225 1195M298 911L297 909L296 906L294 903L293 901L292 898L291 895L290 892M281 1160L279 1163L278 1165L276 1167L275 1171M310 912L309 909L308 906L307 903L306 901L304 898M320 1186L319 1189L317 1192L317 1195M351 1218L351 1221L351 1224L351 1227L350 1230M474 941L476 940L479 938L481 936L484 934L486 932L488 930M501 1073L503 1075L506 1076L509 1076L512 1078L515 1077M294 889L293 886L291 884L290 881L290 878L288 875L287 873L286 870M277 909L276 907L274 904L272 902L271 899L269 897L268 894L266 892L264 889L262 887M357 1184L357 1187L357 1190L356 1193M477 1175L479 1176L481 1179L484 1181L486 1183L488 1185L490 1187L492 1189M196 1113L194 1115L191 1116L189 1118L186 1119L183 1120L180 1121L177 1122M198 1133L196 1134L193 1136L190 1137L188 1139L185 1140L183 1142L181 1144M488 948L491 946L493 945L496 943L498 941L501 939M192 1108L189 1108L186 1110L184 1111L181 1112L178 1113L175 1114L172 1115M466 940L468 938L470 936L473 934L475 932L477 930L479 928M201 1054L198 1054L195 1053L192 1053L189 1054M347 894L345 891L345 888L346 885L344 882M210 942L208 940L206 939L203 937L200 936L198 933L196 931L194 929M513 1111L516 1112L519 1113L522 1114L524 1115L527 1117L530 1118L532 1119L535 1121L537 1122M485 990L488 989L491 987L493 986" stroke="#2c1236" stroke-width="1.7" opacity="0.7" fill="none"/>
<g fill="#2a0834" filter="url(#b4)"><ellipse cx="200" cy="921" rx="35" ry="11" transform="rotate(-142 200 921)" opacity="0.68"/><ellipse cx="133" cy="961" rx="30" ry="12" transform="rotate(-159 133 961)" opacity="0.59"/><ellipse cx="125" cy="1018" rx="25" ry="6" transform="rotate(-173 125 1018)" opacity="0.77"/><ellipse cx="112" cy="1146" rx="42" ry="20" transform="rotate(158 112 1146)" opacity="0.85"/><ellipse cx="213" cy="1252" rx="28" ry="12" transform="rotate(125 213 1252)" opacity="0.68"/><ellipse cx="261" cy="1272" rx="40" ry="6" transform="rotate(113 261 1272)" opacity="0.77"/><ellipse cx="374" cy="1272" rx="25" ry="10" transform="rotate(86 374 1272)" opacity="0.59"/><ellipse cx="394" cy="1277" rx="45" ry="8" transform="rotate(81 394 1277)" opacity="0.68"/><ellipse cx="540" cy="1297" rx="20" ry="6" transform="rotate(54 540 1297)" opacity="0.59"/><ellipse cx="552" cy="926" rx="45" ry="12" transform="rotate(-32 552 926)" opacity="0.68"/><ellipse cx="565" cy="838" rx="40" ry="16" transform="rotate(-45 565 838)" opacity="0.59"/><ellipse cx="590" cy="1071" rx="35" ry="7" transform="rotate(6 590 1071)" opacity="0.68"/><ellipse cx="404" cy="830" rx="32" ry="6" transform="rotate(-78 404 830)" opacity="0.77"/><ellipse cx="261" cy="785" rx="15" ry="4" transform="rotate(-110 261 785)" opacity="0.77"/><ellipse cx="470" cy="800" rx="25" ry="7" transform="rotate(-65 470 800)" opacity="0.51"/><ellipse cx="300" cy="800" rx="25" ry="8" transform="rotate(-103 300 800)" opacity="0.51"/><ellipse cx="610" cy="1000" rx="25" ry="8" transform="rotate(-10 610 1000)" opacity="0.42"/><ellipse cx="480" cy="1290" rx="25" ry="8" transform="rotate(63 480 1290)" opacity="0.42"/><ellipse cx="170" cy="1200" rx="25" ry="10" transform="rotate(140 170 1200)" opacity="0.51"/><ellipse cx="600" cy="1180" rx="25" ry="8" transform="rotate(29 600 1180)" opacity="0.42"/></g>
<path d="M231 936L228 935L226 933L223 931L221 929L217 929L215 926L213 924L211 922L208 921L205 920L203 919L202 915L200 913L197 911L194 909L192 908L189 907L187 904L185 901L183 900L181 898L178 896M230 935L227 933L226 930L223 929L220 927L216 927L214 925L213 922L211 920L208 918L205 917L203 915L201 913L199 911L196 909L194 907L191 905L190 902M224 945L223 943L220 941L218 939L217 935L213 935L211 934L209 931L207 928L204 927L202 925L200 923L198 921L195 919L193 917L192 914L189 912L187 910L184 909L182 907L181 904L178 903L175 901M217 926L215 925L212 924L209 922L206 921L204 919L202 916L199 915L198 912L196 909L194 907L192 906L190 903L188 901L185 900L182 898L180 896M223 946L220 944L218 942L216 940L214 937L212 935L210 933L208 931L205 929L202 928L200 926L197 925L195 922L194 919L191 917L189 915L187 914L183 913L181 911L179 909L177 907L174 905M229 943L225 943L223 941L221 938L218 936L216 934L215 932L212 930L210 928L207 926L203 926L202 924L200 921L198 918L196 916L194 915L192 912L188 912L186 910L183 908L181 906L179 904L177 902L176 899L174 896L172 894M212 949L210 947L207 945L205 944L202 943L200 941L199 937L196 936L193 934L190 933L189 930L187 927L185 925L183 923L181 921L179 919L177 917L173 916L171 914L169 912L167 910M154 961L151 961L148 961L145 960L142 960L139 959L136 958L133 957L131 955L128 954L125 953L123 951L120 950L116 951L113 950M163 958L160 958L157 956L155 954L151 954L148 954L145 954L142 953L139 952L136 952L133 951L131 950L129 947L125 948L122 946L119 946L117 945L114 944M154 967L151 965L148 965L146 963L143 963L140 962L138 959L135 958L132 956L129 955L126 955L123 955L120 955L117 954L115 952M143 980L141 979L138 977L136 975L133 975L130 973L127 972L125 970L121 970L118 970L115 970L112 969L109 968L106 967M154 969L150 970L148 968L145 968L142 966L139 965L136 964L134 963L131 960L129 959L126 958L123 958L121 955L117 955L115 954L111 954L109 952L106 952M149 965L146 964L143 963L140 962L137 962L134 961L132 960L129 958L126 957L123 957L120 955L118 954L115 954L112 952M146 1027L143 1026L141 1024L138 1022L135 1021L132 1020L129 1020L126 1021L123 1021L120 1020M146 1020L143 1019L140 1020L137 1019L134 1018L131 1018L128 1017L125 1017L122 1018L119 1017L116 1018L113 1017L110 1017L107 1017M134 1016L131 1016L128 1016L125 1015L122 1016L119 1016L116 1017L113 1017L110 1017L107 1017L104 1016M150 1017L147 1017L144 1017L141 1017L138 1017L135 1015L132 1017L129 1017L126 1017L123 1016L120 1017L117 1017L114 1017L111 1016L108 1017L105 1016L102 1014L99 1014M145 1113L142 1116L140 1117L137 1118L134 1119L131 1121L128 1122L125 1122L123 1124L120 1126L117 1125L114 1127L112 1130L109 1130L106 1130L103 1131L100 1131L97 1132L94 1134L92 1134L88 1135L86 1136L84 1139L81 1139L78 1140L75 1142L73 1143L70 1144L67 1145M145 1145L142 1146L140 1147L136 1147L133 1148L131 1149L128 1150L125 1152L122 1152L119 1153L117 1155L114 1156L111 1157L109 1159L106 1161L104 1162L101 1163L98 1163L95 1164L92 1165M130 1141L128 1143L124 1143L121 1145L119 1145L116 1147L114 1149L111 1149L108 1150L105 1151L102 1153L99 1154L97 1155L94 1156L91 1156L87 1157L85 1159L82 1159M151 1153L148 1153L145 1154L142 1155L140 1157L136 1157L133 1158L131 1160L128 1161L126 1163L123 1164L120 1165L117 1167L115 1169L113 1171L110 1173L108 1174L105 1175L103 1178L100 1179M158 1147L155 1149L152 1148L149 1149L146 1149L143 1151L141 1152L138 1154L135 1155L132 1155L129 1156L127 1158L124 1159L121 1161L118 1161L115 1161L112 1162L109 1163L106 1163L103 1164L100 1165L98 1165L95 1167L92 1169L90 1170L86 1170L83 1170M143 1143L141 1146L138 1148L135 1148L133 1149L130 1150L127 1151L124 1153L121 1152L118 1154L116 1155L113 1157L110 1158L107 1157L104 1157L100 1156L98 1158L95 1159M140 1109L138 1111L135 1111L132 1112L129 1113L126 1113L123 1114L120 1114L117 1115L114 1116L111 1117L108 1118L106 1121L104 1123L101 1123L98 1125L96 1127L93 1128L90 1129L87 1129L84 1129L81 1130L78 1132L75 1133L72 1133M147 1115L143 1115L140 1116L138 1118L136 1120L133 1122L130 1122L127 1123L124 1124L121 1124L118 1124L115 1125L112 1127L110 1129L107 1130L105 1131L101 1130L98 1132L95 1131L92 1133L90 1134L87 1135L84 1136L81 1137L78 1138L76 1139L73 1140L70 1140L66 1140L64 1141M156 1142L153 1143L150 1145L148 1146L145 1147L143 1149L140 1151L137 1152L134 1153L132 1154L130 1157L127 1158L124 1160L122 1161L119 1162M146 1110L143 1110L141 1113L138 1114L136 1116L133 1116L130 1117L127 1119L124 1120L121 1120L118 1121L115 1120L112 1122L109 1122L106 1122L103 1123L101 1126L98 1128L95 1128L92 1129L90 1130L87 1132L84 1133L81 1134L79 1135L77 1138L74 1139L71 1140L68 1140L65 1142M240 1236L239 1239L237 1241L236 1244L234 1246L234 1250L231 1252L230 1255L229 1258L226 1259L222 1260L221 1263L221 1267L219 1269L216 1271L215 1274L212 1275L210 1277L208 1280M223 1234L220 1236L219 1238L216 1240L215 1243L214 1246L211 1248L209 1249L207 1252L205 1254L205 1258L203 1261L201 1262L199 1264L197 1267M238 1235L237 1238L235 1240L233 1242L231 1245L231 1248L229 1251L227 1253L225 1255L223 1258L222 1260L219 1262L216 1264L215 1267L215 1270L212 1272L211 1275L210 1278L208 1280M220 1241L218 1243L216 1246L213 1247L211 1250L210 1253L208 1255L207 1258L205 1260L204 1263L203 1266L203 1270L202 1273M233 1238L232 1240L230 1243L229 1246L227 1248L227 1251L225 1254L222 1255L220 1258L218 1260L218 1263L218 1267M228 1246L227 1249L224 1251L222 1253L220 1255L218 1258L217 1261L216 1263L214 1266L213 1268L210 1270M276 1238L275 1241L274 1243L273 1246L271 1249L269 1251L268 1254L267 1257L265 1259L262 1261L261 1264L259 1266L258 1269L256 1271L256 1274L253 1277L254 1280L252 1283L251 1286L250 1288L249 1291L247 1294L246 1297M275 1237L274 1239L273 1242L271 1245L271 1248L271 1251L268 1253L267 1256L266 1259L264 1261L264 1264L264 1268L262 1270L260 1273L260 1276L259 1279L257 1281L256 1284L255 1287L254 1290L251 1292L252 1295L250 1298M273 1233L273 1236L274 1239L271 1242L269 1244L269 1247L268 1250L266 1253L264 1255L264 1258L263 1261L261 1264L261 1267L259 1269L257 1272L258 1275L258 1279L255 1281L255 1284L253 1286L252 1289L250 1292L249 1294L247 1297L246 1300L246 1303L246 1306L244 1308L244 1312L243 1315M277 1236L276 1239L276 1242L276 1245L274 1247L273 1250L271 1253L269 1255L269 1258L268 1261L265 1263L265 1267L264 1269L262 1272L261 1275L260 1277L258 1280L257 1283L257 1286L257 1289L256 1292L255 1295M376 1243L375 1247L374 1250L376 1252L377 1255L378 1258L379 1261L379 1264L380 1267L379 1270L380 1273L380 1276L380 1279L382 1282L383 1285L385 1288L386 1291L385 1294M370 1252L369 1255L369 1258L369 1261L370 1264L371 1267L371 1270L372 1273L373 1276L374 1279L373 1282L373 1285L372 1288L374 1291L375 1294M380 1248L380 1251L381 1254L381 1257L381 1260L382 1263L382 1266L384 1269L385 1272L385 1275L385 1278L386 1281L384 1284L386 1287L386 1290M361 1251L363 1254L362 1257L360 1260L360 1263L360 1266L360 1269L360 1272L361 1275L360 1278L362 1281L362 1284L361 1287L363 1290L364 1293M361 1262L361 1265L361 1268L361 1271L362 1274L362 1277L362 1280L361 1283L361 1286L361 1289L362 1292L360 1295M388 1239L391 1241L390 1245L391 1247L391 1250L391 1253L392 1256L393 1259L392 1262L392 1265L392 1268L392 1271L393 1274L392 1277L393 1280L394 1283L392 1286L392 1290L392 1293L392 1296L392 1299L394 1301L395 1304L395 1307L394 1310L395 1313L396 1316M384 1237L384 1240L387 1243L388 1246L388 1249L387 1252L388 1255L387 1258L388 1261L388 1264L389 1267L391 1270L392 1273L392 1276L392 1279L390 1282L391 1285L393 1288L392 1291L395 1293L394 1297L395 1299M390 1264L390 1267L391 1270L390 1273L389 1276L390 1279L390 1282L391 1285L392 1288L392 1291L395 1294L395 1297L397 1299L398 1302L399 1305L398 1308L399 1311L400 1314L401 1317M392 1240L392 1243L393 1246L394 1249L394 1252L394 1255L395 1257L397 1260L398 1263L397 1266L399 1269L400 1272L402 1275L401 1278L402 1281L401 1284L401 1287L401 1290L401 1293L401 1296L402 1299L402 1302L402 1305L403 1308L405 1311M391 1231L391 1234L392 1237L391 1240L392 1243L391 1246L392 1249L394 1251L395 1254L396 1257L394 1260L394 1264L395 1266L398 1269L399 1272L400 1275L400 1278L400 1281L400 1284L400 1287L400 1290L401 1293L402 1296L402 1299L402 1302L405 1304L405 1307L404 1311L405 1313L406 1316L405 1320M533 1281L535 1283L537 1286L539 1288L541 1290L543 1292L544 1295L546 1298L547 1301L550 1302L552 1305L553 1308M531 1280L533 1283L534 1285L536 1288L538 1290L540 1293L542 1294L544 1297L545 1299L548 1301L550 1303L552 1306M536 1281L536 1285L538 1287L540 1289L542 1292L543 1294L545 1297L547 1299L550 1301L552 1303L553 1306M536 1285L538 1287L540 1290L542 1292L543 1295L545 1297L545 1301L547 1303L548 1306L551 1308L554 1309M515 934L517 933L519 930L522 930L525 929L527 926L528 922L531 922L534 921L537 919L538 916L541 915L544 914L547 912L549 910L551 908L552 905L555 902L557 900L559 898L562 898L565 896L566 893L569 892L572 891L575 890M549 946L551 944L553 942L556 941L559 940L562 939L565 938L568 937L569 934L572 932L575 931L577 930L580 929L584 928L586 927L589 926L591 924L593 922L596 920M507 941L509 939L512 937L514 936L516 934L518 931L522 931L524 929L527 927L529 926L532 924L534 922L537 921L539 919L542 918L544 916L546 913L549 912L552 911L555 910L557 908L559 906L562 904L564 903L567 901L570 901L573 900L576 899L578 896L581 896L584 894M511 948L514 947L515 944L518 942L521 941L524 940L525 937L528 936L531 935L532 932L535 930L537 928L539 926L542 924L545 923L548 922L550 920L552 918L555 917L558 916L560 913L563 912L566 912L568 910L572 909L573 906L575 903L577 901L580 901L583 899L585 898L587 895L590 893M529 955L532 955L534 952L536 949L539 948L541 946L544 946L546 943L548 941L551 940L554 939L556 937L559 935L561 933L563 931L566 930L569 929L572 928L574 926L576 922L578 921L581 920L584 918M516 952L518 950L521 948L524 949L527 948L531 949L532 945L535 943L537 940L539 938L542 938L545 936L547 934L551 935L553 933L556 932L559 931L561 928L563 927L566 926L570 925L572 924L575 924L578 922L581 921L582 917L585 916M536 922L538 920L539 916L541 914L544 913L547 913L549 910L553 910L555 908L557 906L560 904L563 904L565 901L568 900L571 899L573 897L576 896M539 844L540 841L543 840L545 838L547 836L551 835L553 833L554 830L558 830L560 828L562 826L565 825L568 823L569 820L571 817M524 855L526 852L529 851L531 848L532 846L535 844L538 842L539 840L542 838L543 835L545 833L546 830L548 828L550 825L552 823L553 819L555 818L558 816L561 815L562 812L564 810L566 807L569 806L572 804L573 802L574 798L577 797M524 850L526 848L529 847L531 845L534 843L536 841L539 839L540 836L542 834L543 831L545 829L547 826L548 824L550 821L552 819L556 819L558 816L560 813L561 811L563 809L566 807L570 807L572 804L574 803L576 800M539 840L541 837L543 835L547 835L550 833L551 830L553 827L555 825L557 823L557 819L559 817L562 816L564 813L565 810L567 808L569 806L571 804L573 802M543 874L546 872L547 869L549 867L551 865L553 863L555 860L558 859L559 856L561 854L564 852L566 850L567 847L569 845L571 842L573 840L575 838L577 836L579 833L580 830L582 828L585 827L588 825L590 823L591 820L594 818L596 816L597 814M552 874L553 871L555 869L558 868L560 865L562 863L564 861L564 857L567 855L571 855L572 852L574 849L575 847L577 844L579 842L582 840L583 837L585 835L587 833L589 831L593 830L594 827M555 1067L558 1068L561 1068L564 1067L567 1069L570 1069L573 1071L576 1071L579 1070L582 1071L585 1070L588 1071L591 1069L594 1070L597 1069L600 1070L603 1071L606 1073L609 1075L611 1077L614 1078L617 1078M556 1074L559 1074L562 1073L565 1072L568 1072L571 1072L574 1075L576 1077L579 1077L582 1076L585 1077L588 1076L591 1076L594 1077L597 1077L600 1077L603 1078L606 1079L609 1080L612 1078L615 1078L618 1077M553 1068L556 1069L559 1070L562 1068L566 1067L569 1066L572 1067L574 1068L577 1070L580 1071L583 1071L586 1071L589 1071L592 1074L595 1073L598 1073L601 1073L604 1074L607 1071L610 1070L613 1070L617 1069L619 1071L622 1072L625 1073L628 1074M571 1066L574 1066L577 1066L580 1066L583 1066L586 1065L589 1067L592 1067L595 1066L598 1065L601 1066L604 1065L607 1065M576 1065L580 1064L582 1065L585 1066L588 1067L591 1067L595 1065L598 1063L601 1065L603 1066L606 1067L609 1066L612 1067L615 1067M402 868L401 864L404 862L405 859L408 857L409 854L410 851L409 848L409 845L409 842L410 839L410 836L412 833L412 830L412 827L414 824L415 822L415 818L415 815L418 813L418 810L419 807L420 804L422 801M403 841L404 838L405 835L405 832L405 829L405 826L407 824L406 820L406 817L406 814L408 811L410 809L410 806M397 853L397 850L397 847L397 844L397 841L398 838L400 835L401 832L400 829L402 826L403 823L403 820L404 817L404 814M392 863L392 860L394 857L396 855L398 852L398 850L399 847L399 843L399 840L401 838L402 835L402 832L402 829L403 826L404 823L403 820L404 817L404 814L405 811L406 808L407 805L410 803L412 800L411 797M268 793L267 790L266 788L265 785L266 781L264 779L262 776M268 793L266 791L266 787L265 785L263 782L262 779L261 777L260 774L258 771M267 800L267 796L267 793L267 790L266 787L266 784L264 781L261 779L260 776L259 774L257 771M455 810L457 807L458 804L459 802L461 799L462 796L462 793L465 791L467 789L468 786L469 783L471 781L472 778L474 776M468 813L470 810L470 807L472 805L473 802L473 799L474 796L475 793L477 790L478 788L479 785L480 782L482 780M451 822L453 820L454 817L454 814L455 811L456 808L456 804L457 802L458 799L460 796L461 794L463 791L462 788L464 785L466 783L466 780L467 777L469 774M465 830L466 827L466 824L467 821L469 818L470 816L470 813L471 810L473 807L475 805L476 802L477 799L477 796L480 794L480 791L482 788L482 785L482 782L483 779M305 813L304 810L303 808L302 805L302 802L302 799L303 795L302 793L300 790L301 787L300 784M301 825L302 822L300 819L297 817L295 814L296 811L296 808L296 805L295 802L296 798L295 796M306 824L305 822L305 819L305 815L304 813L303 810L304 807L304 804L304 800L304 797L304 794L302 792L302 788L303 785L302 782L303 779L302 776L303 773M306 817L305 814L305 811L304 808L304 805L303 802L302 799L303 796L303 793L301 790M586 1009L589 1006L592 1006L595 1005L598 1006L601 1004L604 1004L607 1003L610 1003L613 1002L615 1001L618 1000L622 1001L625 1001L628 1000L631 1000L633 998M599 996L602 995L605 995L607 994L610 992L613 991L616 991L620 992L622 992L625 990L628 989M586 1008L589 1008L592 1005L595 1006L598 1004L601 1005L604 1004L607 1003L610 1002L613 1003L616 1003L619 1003L622 1004L625 1006L628 1005L631 1004L634 1004M591 1009L595 1009L598 1009L600 1008L604 1009L606 1007L609 1006L612 1006L615 1004L618 1003L621 1001L624 1001L626 1000L630 1001M465 1270L467 1273L469 1275L470 1278L470 1281L469 1285L472 1287L473 1290L475 1292L476 1295L476 1298L476 1301L477 1304L480 1306L482 1309L483 1311M475 1264L477 1267L479 1269L478 1273L480 1275L480 1278L481 1281L482 1284L484 1287L485 1290L487 1292L488 1294L489 1298L490 1301L492 1303L494 1305L497 1307L498 1310M467 1269L469 1271L470 1274L472 1276L472 1280L475 1282L475 1285L478 1287L481 1289L484 1290L486 1293L487 1295L487 1299L488 1302L489 1305L491 1307L491 1310M464 1274L466 1277L466 1280L467 1283L469 1285L470 1288L473 1290L474 1293L475 1296L475 1299L477 1302L478 1305L479 1307M184 1194L182 1197L179 1198L178 1201L175 1203L173 1205L170 1206L168 1208L168 1212L165 1214L162 1216M186 1177L184 1179L181 1180L178 1182L175 1183L173 1185L170 1186L167 1187L164 1188L162 1190L160 1192L158 1195L156 1198L154 1199L152 1201L149 1203L147 1205L144 1206L141 1207M181 1176L179 1178L177 1181L175 1183L173 1185L171 1187L168 1189L165 1189L162 1190L160 1192L159 1197L157 1199L154 1200L152 1202L150 1204M186 1184L183 1185L182 1187L179 1188L177 1191L174 1193L170 1193L168 1194L167 1197L164 1198L161 1200L160 1203L157 1205L155 1207L152 1208L150 1211M187 1183L186 1186L184 1188L182 1190L179 1191L176 1193L174 1195L172 1197L170 1199L168 1202L165 1203L163 1206L162 1208L158 1209L156 1211L154 1213M579 1177L582 1178L585 1179L587 1181L590 1182L593 1183L596 1184L598 1185L601 1187L603 1189L605 1191L608 1193M586 1163L588 1166L591 1168L593 1170L595 1172L598 1173L602 1173L604 1175L607 1175L610 1176L612 1178L615 1179L618 1180L621 1181M580 1168L582 1170L585 1171L587 1173L589 1175L592 1176L595 1177L598 1178L601 1179L604 1179L607 1180L609 1182L612 1182L615 1183L618 1184M583 1167L585 1168L589 1169L591 1170L594 1172L596 1174L598 1176L601 1177L604 1178L606 1181L610 1181L612 1182L615 1183" stroke="#1c0c22" stroke-width="2.8" opacity="0.8" fill="none" stroke-linecap="round" filter="url(#b1)"/>
<path d="M428 1295L429 1299L431 1302L431 1307L432 1310L433 1314L435 1318L435 1322L436 1326L438 1330L440 1333M376 808L376 804L377 800L377 796L377 792L378 788L378 784L378 780L378 776L378 772L377 768L379 764M544 953L547 951L551 950L555 949L559 947L562 944L565 942L568 939L572 938L575 936M473 857L475 853L477 850L479 847L481 843L484 840L486 837L489 834L491 830L494 827L495 824L498 821L500 817L501 813L503 810M289 1248L288 1252L287 1256L284 1259L283 1263L282 1267L282 1271L281 1275L279 1279L276 1282L274 1286L274 1290L273 1294L272 1298M359 1286L360 1290L358 1294L359 1298L359 1302L360 1306L360 1310L359 1314L359 1318L360 1322L360 1326L360 1330L360 1334L360 1338L359 1342L360 1346M326 818L325 814L325 810L323 806L321 802L321 798L322 794L322 790L322 786M224 857L222 853L220 850L218 847L215 843L213 840L210 837L207 835L205 831L204 827L202 824L199 821L197 818L194 815L192 811L190 807M260 1237L259 1241L258 1245L256 1249L254 1252L253 1256L251 1259L248 1263M151 1188L148 1190L144 1192L140 1194L137 1196L134 1199L131 1201L128 1204L125 1207L121 1208L118 1211L115 1213M236 835L233 833L233 828L231 824L229 821L226 818L222 816L220 812M572 951L576 950L580 948L583 947L587 945L591 943L595 943L598 941L602 939L605 937L609 935L612 933L616 931L620 931M578 1130L582 1131L585 1133L589 1135L592 1137L596 1138L600 1140L604 1141L608 1141L612 1142L616 1143L620 1144L623 1146L627 1148L630 1150L634 1151L638 1151M516 1172L520 1173L523 1176L526 1179L528 1182L531 1185L534 1188L537 1191L541 1192L544 1195L547 1197M224 1211L222 1215L219 1218L217 1221L215 1225L212 1227M350 1273L349 1277L349 1281L350 1285L349 1289L348 1293L347 1297L347 1301L348 1305L348 1309L348 1313L348 1317L349 1321L346 1325L346 1329L347 1333L347 1337M396 1262L397 1266L398 1270L398 1274L398 1278L399 1282L400 1286L400 1290L402 1293L403 1297L405 1301L406 1305L407 1309L407 1313L408 1317L409 1321M535 1173L539 1175L542 1177L546 1178L549 1181L552 1184L555 1187L558 1189L562 1191M551 1182L554 1185L557 1188L561 1190L565 1191L568 1193L572 1195L575 1196L579 1198M546 883L550 881L553 879L556 876L558 872L561 869L563 866L566 863L569 861L572 858L575 856L579 853L581 850L584 847L587 844L590 842M499 856L502 853L503 849L507 846L508 843L511 840L513 836L515 833L517 830L520 827L522 823M428 810L430 807L431 803L431 799L433 795L435 792L436 788L436 784L437 780L439 776M504 1200L507 1203L510 1205L513 1208L516 1210L518 1214L520 1217L524 1220L527 1222L530 1225L533 1227L535 1231M126 984L122 983L117 984L113 984L109 983L105 982M586 1083L590 1084L594 1083L598 1084L602 1085L606 1085L610 1084L614 1087L618 1087L621 1089L625 1090L629 1091L633 1091L637 1091L641 1091M168 1217L164 1219L161 1222L159 1225L156 1228L153 1231L150 1233M471 859L472 855L474 852L476 849L479 846L481 842L482 838L484 835L487 832L490 829L492 826L494 822L496 819M338 1247L339 1251L340 1255L339 1259L339 1263L337 1267L336 1271L336 1275L336 1279L336 1283L333 1287L332 1291L332 1295L333 1299L331 1303M533 1229L535 1233L538 1236L540 1239L543 1242L545 1245L548 1249L551 1251L554 1254L557 1256M320 841L320 837L319 833L319 829L317 826L317 822L316 818L314 814L314 810L314 806L313 802L312 798L313 794M375 1252L375 1256L375 1260L375 1264L376 1268L377 1272L378 1276L379 1280L378 1284L378 1288L381 1292L380 1296L381 1300L381 1304L382 1308M259 864L257 860L256 856L254 853L253 849L251 845L249 842L247 838M562 1112L566 1112L570 1113L574 1115L578 1115L582 1116L585 1119L589 1120L593 1121L597 1121M395 1252L398 1255L396 1260L397 1263L398 1267L398 1271L399 1275M133 1121L130 1122L126 1123L122 1124L118 1126L115 1127L111 1129L108 1131L103 1131L99 1132L96 1134L92 1135L88 1137L85 1138L80 1138L77 1140L73 1141L69 1143M166 903L163 901L160 899L156 896L154 893L150 891L146 890L143 888L140 885L137 882L134 880L130 878L127 875L123 873L120 871M170 1224L167 1227L163 1229L161 1232L158 1235L155 1237L152 1239L150 1243L147 1246L145 1250L142 1252L139 1255L136 1257L133 1260L129 1262L126 1265M549 882L553 879L555 876L558 874L562 872L565 869L568 866L571 864L575 862L578 860L581 857L584 854L587 852L590 849L593 846L595 843M330 812L330 808L328 805L327 801L326 797L327 793L326 789L324 785L324 781L324 777L324 773L323 769L323 765M146 918L142 916L139 914L136 911L133 909L129 907L126 905L122 903L119 901L115 900L112 897L108 895L104 894M295 796L294 792L294 788L294 784L292 780L292 776L291 772M217 894L215 891L211 888L209 885L206 882L203 879L202 875M450 1284L452 1288L452 1292L454 1296L455 1300L458 1303L460 1307L460 1311L461 1314L463 1318L463 1322M430 1242L433 1246L434 1249L436 1253L438 1257L439 1261L441 1264L443 1268L444 1272M520 1248L522 1251L526 1254L528 1257L532 1259L534 1262L537 1265L539 1268L542 1271L543 1275L545 1279L547 1283L549 1286L551 1290L553 1293L556 1296L559 1298L562 1302" stroke="#2a1030" stroke-width="1.6" opacity="0.4" fill="none" filter="url(#b1)"/>
<rect x="20" y="700" width="700" height="700" filter="url(#noiseF)" opacity="0.035"/>
<path d="M360.0 720.5C366.8 719.9 376.2 720.3 385.6 720.5C395.0 720.7 407.8 722.6 416.3 721.8C424.8 720.9 429.1 716.5 436.8 715.4C444.5 714.3 454.7 714.5 462.4 715.4C470.1 716.2 476.6 717.5 483.0 720.5C489.4 723.5 495.7 729.0 500.8 733.3C505.9 737.5 509.3 741.7 513.6 746.0C517.9 750.3 522.2 753.9 526.4 759.0C530.6 764.1 534.3 771.3 539.0 776.8C543.7 782.3 549.0 787.7 554.6 792.0C560.2 796.3 566.5 798.1 572.5 802.4C578.5 806.7 585.7 811.8 590.4 817.8C595.1 823.8 598.6 831.4 600.7 838.2C602.8 845.0 603.2 852.7 603.2 858.7C603.2 864.7 598.6 869.7 600.7 874.0C602.8 878.3 609.2 881.3 616.0 884.3C622.8 887.3 633.1 887.7 641.6 892.0C650.1 896.3 660.4 903.6 667.2 910.0C674.0 916.4 678.3 922.7 682.6 930.4C686.9 938.1 690.2 947.5 692.8 956.0C695.4 964.5 697.1 973.1 698.0 981.6C698.9 990.1 698.4 998.7 698.0 1007.2C697.6 1015.7 696.7 1025.3 695.4 1032.8C694.1 1040.3 693.0 1045.8 690.0 1052.0C687.0 1058.2 681.7 1064.8 677.5 1070.0C673.3 1075.2 666.0 1077.8 664.7 1083.5C663.4 1089.2 668.9 1096.3 669.8 1104.0C670.6 1111.7 671.1 1121.9 669.8 1129.6C668.5 1137.3 665.4 1143.6 662.0 1150.0C658.6 1156.4 654.0 1162.9 649.3 1168.0C644.6 1173.1 636.5 1175.7 634.0 1180.8C631.5 1185.9 633.6 1192.3 634.0 1198.7C634.4 1205.1 636.9 1212.8 636.5 1219.2C636.1 1225.6 634.0 1231.5 631.4 1237.0C628.8 1242.5 623.1 1246.9 621.0 1252.5C618.9 1258.1 620.3 1263.2 618.6 1270.4C616.9 1277.7 614.4 1289.2 611.0 1296.0C607.6 1302.8 603.2 1305.4 598.0 1311.4C592.8 1317.4 586.4 1326.8 580.0 1331.9C573.6 1337.0 566.5 1339.5 559.7 1342.0C552.9 1344.5 546.7 1345.0 539.0 1347.2C531.3 1349.4 522.1 1352.4 513.6 1355.0C505.1 1357.6 496.5 1360.5 488.0 1362.6C479.5 1364.7 470.9 1365.6 462.4 1367.7C453.9 1369.8 445.3 1373.7 436.8 1375.4C428.3 1377.1 419.7 1377.6 411.2 1378.0C402.7 1378.4 394.1 1378.4 385.6 1378.0C377.1 1377.6 369.7 1376.3 360.0 1375.4C350.3 1374.5 336.9 1374.1 327.2 1372.8C317.5 1371.5 310.1 1370.7 301.6 1367.7C293.1 1364.7 282.4 1358.4 276.0 1355.0C269.6 1351.6 267.5 1348.1 263.2 1347.2C258.9 1346.3 256.8 1349.8 250.4 1349.8C244.0 1349.8 233.3 1348.5 224.8 1347.2C216.3 1345.9 207.7 1344.6 199.2 1342.1C190.7 1339.5 182.1 1336.2 173.6 1331.9C165.1 1327.6 155.7 1322.5 148.0 1316.5C140.3 1310.5 133.1 1303.7 127.5 1296.0C122.0 1288.3 118.1 1278.9 114.7 1270.4C111.3 1261.9 108.7 1253.3 107.0 1244.8C105.3 1236.3 107.5 1226.9 104.5 1219.2C101.5 1211.5 93.2 1205.1 89.0 1198.7C84.8 1192.3 82.4 1188.0 79.0 1180.8C75.6 1173.5 71.6 1162.5 68.6 1155.2C65.6 1148.0 64.4 1143.7 61.0 1137.3C57.6 1130.9 51.2 1124.5 48.2 1116.8C45.2 1109.1 43.9 1099.7 43.0 1091.2C42.1 1082.7 43.2 1074.1 43.0 1065.6C42.8 1057.1 42.6 1047.6 42.0 1040.0C41.4 1032.4 39.9 1027.2 39.2 1020.0C38.5 1012.8 37.8 1005.1 38.0 997.0C38.2 988.9 38.4 979.9 40.5 971.4C42.6 962.9 46.5 953.5 50.7 945.8C55.0 938.1 60.5 930.4 66.0 925.3C71.5 920.2 77.6 918.4 84.0 915.0C90.4 911.6 100.7 909.9 104.5 904.8C108.3 899.7 106.2 892.0 107.0 884.3C107.8 876.6 107.9 866.8 109.6 858.7C111.3 850.6 113.9 843.0 117.3 835.7C120.7 828.5 124.9 821.6 130.0 815.2C135.1 808.8 140.7 802.8 148.0 797.3C155.3 791.8 165.1 787.1 173.6 782.0C182.1 776.9 190.7 770.9 199.2 766.6C207.7 762.3 216.3 758.9 224.8 756.3C233.3 753.7 241.9 752.1 250.4 751.2C258.9 750.4 267.5 750.6 276.0 751.2C284.5 751.8 293.1 757.6 301.6 755.0C310.1 752.4 320.0 741.0 327.2 735.8C334.4 730.6 339.5 726.5 345.0 724.0C350.5 721.5 353.2 721.1 360.0 720.5Z" fill="none" stroke="#3a0c48" stroke-width="44" opacity="0.75" filter="url(#b8)"/>
<path d="M360.0 720.5C366.8 719.9 376.2 720.3 385.6 720.5C395.0 720.7 407.8 722.6 416.3 721.8C424.8 720.9 429.1 716.5 436.8 715.4C444.5 714.3 454.7 714.5 462.4 715.4C470.1 716.2 476.6 717.5 483.0 720.5C489.4 723.5 495.7 729.0 500.8 733.3C505.9 737.5 509.3 741.7 513.6 746.0C517.9 750.3 522.2 753.9 526.4 759.0C530.6 764.1 534.3 771.3 539.0 776.8C543.7 782.3 549.0 787.7 554.6 792.0C560.2 796.3 566.5 798.1 572.5 802.4C578.5 806.7 585.7 811.8 590.4 817.8C595.1 823.8 598.6 831.4 600.7 838.2C602.8 845.0 603.2 852.7 603.2 858.7C603.2 864.7 598.6 869.7 600.7 874.0C602.8 878.3 609.2 881.3 616.0 884.3C622.8 887.3 633.1 887.7 641.6 892.0C650.1 896.3 660.4 903.6 667.2 910.0C674.0 916.4 678.3 922.7 682.6 930.4C686.9 938.1 690.2 947.5 692.8 956.0C695.4 964.5 697.1 973.1 698.0 981.6C698.9 990.1 698.4 998.7 698.0 1007.2C697.6 1015.7 696.7 1025.3 695.4 1032.8C694.1 1040.3 693.0 1045.8 690.0 1052.0C687.0 1058.2 681.7 1064.8 677.5 1070.0C673.3 1075.2 666.0 1077.8 664.7 1083.5C663.4 1089.2 668.9 1096.3 669.8 1104.0C670.6 1111.7 671.1 1121.9 669.8 1129.6C668.5 1137.3 665.4 1143.6 662.0 1150.0C658.6 1156.4 654.0 1162.9 649.3 1168.0C644.6 1173.1 636.5 1175.7 634.0 1180.8C631.5 1185.9 633.6 1192.3 634.0 1198.7C634.4 1205.1 636.9 1212.8 636.5 1219.2C636.1 1225.6 634.0 1231.5 631.4 1237.0C628.8 1242.5 623.1 1246.9 621.0 1252.5C618.9 1258.1 620.3 1263.2 618.6 1270.4C616.9 1277.7 614.4 1289.2 611.0 1296.0C607.6 1302.8 603.2 1305.4 598.0 1311.4C592.8 1317.4 586.4 1326.8 580.0 1331.9C573.6 1337.0 566.5 1339.5 559.7 1342.0C552.9 1344.5 546.7 1345.0 539.0 1347.2C531.3 1349.4 522.1 1352.4 513.6 1355.0C505.1 1357.6 496.5 1360.5 488.0 1362.6C479.5 1364.7 470.9 1365.6 462.4 1367.7C453.9 1369.8 445.3 1373.7 436.8 1375.4C428.3 1377.1 419.7 1377.6 411.2 1378.0C402.7 1378.4 394.1 1378.4 385.6 1378.0C377.1 1377.6 369.7 1376.3 360.0 1375.4C350.3 1374.5 336.9 1374.1 327.2 1372.8C317.5 1371.5 310.1 1370.7 301.6 1367.7C293.1 1364.7 282.4 1358.4 276.0 1355.0C269.6 1351.6 267.5 1348.1 263.2 1347.2C258.9 1346.3 256.8 1349.8 250.4 1349.8C244.0 1349.8 233.3 1348.5 224.8 1347.2C216.3 1345.9 207.7 1344.6 199.2 1342.1C190.7 1339.5 182.1 1336.2 173.6 1331.9C165.1 1327.6 155.7 1322.5 148.0 1316.5C140.3 1310.5 133.1 1303.7 127.5 1296.0C122.0 1288.3 118.1 1278.9 114.7 1270.4C111.3 1261.9 108.7 1253.3 107.0 1244.8C105.3 1236.3 107.5 1226.9 104.5 1219.2C101.5 1211.5 93.2 1205.1 89.0 1198.7C84.8 1192.3 82.4 1188.0 79.0 1180.8C75.6 1173.5 71.6 1162.5 68.6 1155.2C65.6 1148.0 64.4 1143.7 61.0 1137.3C57.6 1130.9 51.2 1124.5 48.2 1116.8C45.2 1109.1 43.9 1099.7 43.0 1091.2C42.1 1082.7 43.2 1074.1 43.0 1065.6C42.8 1057.1 42.6 1047.6 42.0 1040.0C41.4 1032.4 39.9 1027.2 39.2 1020.0C38.5 1012.8 37.8 1005.1 38.0 997.0C38.2 988.9 38.4 979.9 40.5 971.4C42.6 962.9 46.5 953.5 50.7 945.8C55.0 938.1 60.5 930.4 66.0 925.3C71.5 920.2 77.6 918.4 84.0 915.0C90.4 911.6 100.7 909.9 104.5 904.8C108.3 899.7 106.2 892.0 107.0 884.3C107.8 876.6 107.9 866.8 109.6 858.7C111.3 850.6 113.9 843.0 117.3 835.7C120.7 828.5 124.9 821.6 130.0 815.2C135.1 808.8 140.7 802.8 148.0 797.3C155.3 791.8 165.1 787.1 173.6 782.0C182.1 776.9 190.7 770.9 199.2 766.6C207.7 762.3 216.3 758.9 224.8 756.3C233.3 753.7 241.9 752.1 250.4 751.2C258.9 750.4 267.5 750.6 276.0 751.2C284.5 751.8 293.1 757.6 301.6 755.0C310.1 752.4 320.0 741.0 327.2 735.8C334.4 730.6 339.5 726.5 345.0 724.0C350.5 721.5 353.2 721.1 360.0 720.5Z" fill="none" stroke="#280830" stroke-width="6" opacity="0.6" filter="url(#b2)"/>
</g>
</g>
<g id="chartb">
<g stroke="#000" stroke-width="3" fill="none" stroke-linecap="butt">
<line x1="934" y1="148.5" x2="934" y2="668.5"/>
<line x1="915" y1="666" x2="1363" y2="666"/>
<line x1="915" y1="177.7" x2="934" y2="177.7"/>
<line x1="915" y1="231.9" x2="934" y2="231.9"/>
<line x1="915" y1="286.2" x2="934" y2="286.2"/>
<line x1="915" y1="340.4" x2="934" y2="340.4"/>
<line x1="915" y1="394.6" x2="934" y2="394.6"/>
<line x1="915" y1="448.8" x2="934" y2="448.8"/>
<line x1="915" y1="503.1" x2="934" y2="503.1"/>
<line x1="915" y1="557.3" x2="934" y2="557.3"/>
<line x1="915" y1="611.5" x2="934" y2="611.5"/>
<line x1="915" y1="665.8" x2="934" y2="665.8"/>
<line x1="924.5" y1="150.6" x2="934" y2="150.6"/>
<line x1="924.5" y1="204.8" x2="934" y2="204.8"/>
<line x1="924.5" y1="259.0" x2="934" y2="259.0"/>
<line x1="924.5" y1="313.3" x2="934" y2="313.3"/>
<line x1="924.5" y1="367.5" x2="934" y2="367.5"/>
<line x1="924.5" y1="421.7" x2="934" y2="421.7"/>
<line x1="924.5" y1="476.0" x2="934" y2="476.0"/>
<line x1="924.5" y1="530.2" x2="934" y2="530.2"/>
<line x1="924.5" y1="584.4" x2="934" y2="584.4"/>
<line x1="924.5" y1="638.7" x2="934" y2="638.7"/>
<line x1="1041" y1="666" x2="1041" y2="673"/>
<line x1="1255.5" y1="666" x2="1255.5" y2="673"/>
<line x1="1016" y1="163.9" x2="1263.2" y2="163.9" stroke-width="3.5"/>
</g>
<g font-family='"Liberation Sans", Arial, sans-serif' font-size='31.5' fill='#000' text-anchor='end'>
<text x="901" y="187.1">1.00</text>
<text x="901" y="241.3">0.95</text>
<text x="901" y="295.6">0.90</text>
<text x="901" y="349.8">0.85</text>
<text x="901" y="404.0">0.80</text>
<text x="901" y="458.2">0.75</text>
<text x="901" y="512.5">0.70</text>
<text x="901" y="566.7">0.65</text>
<text x="901" y="620.9">0.60</text>
<text x="901" y="675.2">0.55</text>
</g>
<circle cx="1041" cy="460.3" r="12.6" fill="#322b4e"/>
<circle cx="1041" cy="490.6" r="12.6" fill="#322b4e"/>
<circle cx="1041" cy="507.7" r="12.6" fill="#322b4e"/>
<circle cx="1041" cy="613.0" r="12.6" fill="#322b4e"/>
<circle cx="1041" cy="617.0" r="12.6" fill="#322b4e"/>
<circle cx="1256.4" cy="199.6" r="12.2" fill="#b3dbbd"/>
<circle cx="1256.4" cy="234.5" r="12.2" fill="#b3dbbd"/>
<circle cx="1256.4" cy="241" r="12.2" fill="#b3dbbd"/>
<circle cx="1256.4" cy="248" r="12.2" fill="#b3dbbd"/>
<circle cx="1256.4" cy="255" r="12.2" fill="#b3dbbd"/>
<circle cx="1256.4" cy="269.5" r="12.2" fill="#b3dbbd"/>
</g>
<g id="chartc">
<g stroke="#000" stroke-width="3" fill="none">
<line x1="1555.3" y1="139" x2="1555.3" y2="664.6"/>
<line x1="1536.6" y1="663.1" x2="1995" y2="663.1"/>
<line x1="1536.6" y1="187.6" x2="1555.3" y2="187.6"/>
<line x1="1536.6" y1="282.7" x2="1555.3" y2="282.7"/>
<line x1="1536.6" y1="377.8" x2="1555.3" y2="377.8"/>
<line x1="1536.6" y1="472.9" x2="1555.3" y2="472.9"/>
<line x1="1536.6" y1="568.0" x2="1555.3" y2="568.0"/>
<line x1="1536.6" y1="663.1" x2="1555.3" y2="663.1"/>
<line x1="1546.6" y1="140.1" x2="1555.3" y2="140.1"/>
<line x1="1546.6" y1="235.2" x2="1555.3" y2="235.2"/>
<line x1="1546.6" y1="330.2" x2="1555.3" y2="330.2"/>
<line x1="1546.6" y1="425.3" x2="1555.3" y2="425.3"/>
<line x1="1546.6" y1="520.5" x2="1555.3" y2="520.5"/>
<line x1="1546.6" y1="615.5" x2="1555.3" y2="615.5"/>
<line x1="1664.7" y1="663" x2="1664.7" y2="681"/>
<line x1="1884.3" y1="663" x2="1884.3" y2="681"/>
<line x1="1653.5" y1="158.5" x2="1901.2" y2="158.5" stroke-width="3.7"/>
</g>
<g font-family='"Liberation Sans", Arial, sans-serif' font-size='33.5' fill='#000' text-anchor='end'>
<text x="1523.5" y="197.5">11000</text>
<text x="1523.5" y="292.6">10000</text>
<text x="1523.5" y="387.7">9000</text>
<text x="1523.5" y="482.8">8000</text>
<text x="1523.5" y="577.9">7000</text>
<text x="1523.5" y="673.0">6000</text>
</g>
<circle cx="1665.4" cy="192.0" r="12.4" fill="#322b4e"/>
<circle cx="1665.4" cy="223.9" r="12.4" fill="#322b4e"/>
<circle cx="1665.4" cy="261.3" r="12.4" fill="#322b4e"/>
<circle cx="1884.9" cy="585.0" r="12.2" fill="#b3dbbd"/>
<circle cx="1884.9" cy="616.0" r="12.2" fill="#b3dbbd"/>
<circle cx="1884.9" cy="619.5" r="12.2" fill="#b3dbbd"/>
</g>
<g id="chartd">
<g stroke="#000" stroke-width="3.4" fill="none">
<line x1="1027.7" y1="789.5" x2="1027.7" y2="1257"/>
<line x1="1022" y1="1255.5" x2="1820.7" y2="1255.5"/>
<line x1="1022" y1="790.5" x2="1027.7" y2="790.5"/>
<line x1="1022" y1="848.6" x2="1027.7" y2="848.6"/>
<line x1="1022" y1="906.7" x2="1027.7" y2="906.7"/>
<line x1="1022" y1="964.8" x2="1027.7" y2="964.8"/>
<line x1="1022" y1="1022.9" x2="1027.7" y2="1022.9"/>
<line x1="1022" y1="1081.0" x2="1027.7" y2="1081.0"/>
<line x1="1022" y1="1139.2" x2="1027.7" y2="1139.2"/>
<line x1="1022" y1="1197.3" x2="1027.7" y2="1197.3"/>
<line x1="1022" y1="1255.4" x2="1027.7" y2="1255.4"/>
<line x1="1027.7" y1="1255.5" x2="1027.7" y2="1259.5"/>
<line x1="1104.0" y1="1255.5" x2="1104.0" y2="1259.5"/>
<line x1="1180.3" y1="1255.5" x2="1180.3" y2="1259.5"/>
<line x1="1256.6" y1="1255.5" x2="1256.6" y2="1259.5"/>
<line x1="1332.9" y1="1255.5" x2="1332.9" y2="1259.5"/>
<line x1="1409.2" y1="1255.5" x2="1409.2" y2="1259.5"/>
<line x1="1485.5" y1="1255.5" x2="1485.5" y2="1259.5"/>
<line x1="1561.8" y1="1255.5" x2="1561.8" y2="1259.5"/>
<line x1="1638.1" y1="1255.5" x2="1638.1" y2="1259.5"/>
<line x1="1714.4" y1="1255.5" x2="1714.4" y2="1259.5"/>
<line x1="1790.7" y1="1255.5" x2="1790.7" y2="1259.5"/>
</g>
<g font-family="'Liberation Sans', Arial, sans-serif" font-size="20.5" fill="#000" text-anchor="end">
<text x="1016.8" y="798.1">1</text>
<text x="1016.8" y="856.2">0.9</text>
<text x="1016.8" y="914.3">0.8</text>
<text x="1016.8" y="972.4">0.7</text>
<text x="1016.8" y="1030.5">0.6</text>
<text x="1016.8" y="1088.6">0.5</text>
<text x="1016.8" y="1146.8">0.4</text>
<text x="1016.8" y="1204.9">0.3</text>
<text x="1016.8" y="1263.0">0.2</text>
<text transform="translate(1032.2,1279) rotate(-45)" x="0" y="0">0</text>
<text transform="translate(1108.5,1279) rotate(-45)" x="0" y="0">500</text>
<text transform="translate(1184.8,1279) rotate(-45)" x="0" y="0">1000</text>
<text transform="translate(1261.1,1279) rotate(-45)" x="0" y="0">1500</text>
<text transform="translate(1337.4,1279) rotate(-45)" x="0" y="0">2000</text>
<text transform="translate(1413.7,1279) rotate(-45)" x="0" y="0">2500</text>
<text transform="translate(1490.0,1279) rotate(-45)" x="0" y="0">3000</text>
<text transform="translate(1566.3,1279) rotate(-45)" x="0" y="0">3500</text>
<text transform="translate(1642.6,1279) rotate(-45)" x="0" y="0">4000</text>
<text transform="translate(1718.9,1279) rotate(-45)" x="0" y="0">4500</text>
<text transform="translate(1795.2,1279) rotate(-45)" x="0" y="0">5000</text>
</g>
<g font-family="'Liberation Sans', Arial, sans-serif" fill="#000">
<text x="1034" y="1361.9" font-size="34.5" textLength="807" lengthAdjust="spacingAndGlyphs">Radial distance from the centroid of the biomass</text>
<g transform="translate(948.4,1238) rotate(-90)" font-size="36">
<text x="0" y="0" textLength="278.4" lengthAdjust="spacingAndGlyphs">Proportion of AR</text>
<text x="282.3" y="11" font-size="22" textLength="48" lengthAdjust="spacingAndGlyphs">P,Chl</text>
<text x="340.5" y="0" textLength="69.5" lengthAdjust="spacingAndGlyphs">cells</text>
</g>
<circle cx="1632.2" cy="782.2" r="13.4" fill="#322b4e"/>
<circle cx="1632.2" cy="828.5" r="13.2" fill="#b3dbbd"/>
<text x="1662.5" y="793.3" font-size="31.5" textLength="256.5" lengthAdjust="spacingAndGlyphs">Absence of phage</text>
<text x="1662.8" y="840" font-size="31.5" textLength="265" lengthAdjust="spacingAndGlyphs">Presence of phage</text>
</g>
<path d="M1027.7 791.9h0M1029.1 791.4h0M1029.7 792.4h0M1033.5 794.4h0M1034.8 795.0h0M1035.5 795.8h0M1034.4 797.9h0M1038.4 798.1h0M1037.2 795.2h0M1039.5 798.3h0M1042.4 799.9h0M1044.2 799.4h0M1045.5 801.6h0M1045.9 804.3h0M1049.0 803.9h0M1049.1 801.1h0M1051.0 802.6h0M1053.8 803.7h0M1054.1 802.1h0M1055.6 806.2h0M1056.8 805.0h0M1059.9 802.5h0M1061.0 807.8h0M1060.1 805.5h0M1063.9 805.1h0M1066.3 806.8h0M1065.5 808.8h0M1069.6 809.5h0M1072.1 808.9h0M1072.1 806.6h0M1074.3 808.2h0M1074.6 807.5h0M1075.5 809.3h0M1079.8 807.2h0M1078.1 811.5h0M1083.2 812.5h0M1080.7 807.7h0M1085.1 810.9h0M1085.0 813.9h0M1089.4 812.6h0M1090.0 813.2h0M1093.4 813.7h0M1093.7 813.7h0M1092.9 815.1h0M1097.6 813.9h0M1095.8 812.0h0M1100.9 810.2h0M1101.3 815.1h0M1101.7 816.2h0M1105.6 813.4h0M1107.0 814.9h0M1108.5 815.8h0M1109.2 813.3h0M1112.4 815.3h0M1111.3 818.1h0M1115.2 816.9h0M1113.0 818.7h0M1115.6 819.6h0M1118.6 819.6h0M1119.6 820.5h0M1118.3 824.9h0M1121.7 826.5h0M1122.0 826.5h0M1122.9 828.5h0M1123.6 829.2h0M1125.7 830.0h0M1126.8 832.3h0M1129.3 833.3h0M1127.3 833.5h0M1128.7 837.1h0M1129.2 837.6h0M1132.7 833.9h0M1130.1 840.1h0M1132.9 841.5h0M1132.8 843.6h0M1134.6 843.0h0M1138.1 845.8h0M1135.4 846.4h0M1136.7 847.9h0M1134.6 848.7h0M1140.0 849.0h0M1139.5 854.1h0M1141.5 856.5h0M1139.3 854.9h0M1141.8 858.1h0M1144.4 853.9h0M1145.3 857.5h0M1145.4 859.1h0M1145.3 865.4h0M1145.5 865.3h0M1147.2 866.9h0M1146.7 870.9h0M1148.6 869.5h0M1151.2 869.7h0M1149.5 872.9h0M1149.2 876.2h0M1150.3 877.5h0M1149.2 875.3h0M1152.7 877.7h0M1151.8 878.3h0M1155.5 883.5h0M1156.8 882.1h0M1156.0 883.2h0M1157.9 889.3h0M1156.9 890.7h0M1160.0 889.1h0M1157.3 893.2h0M1160.4 891.2h0M1161.8 894.4h0M1164.0 893.3h0M1164.4 899.0h0M1165.6 897.6h0M1163.8 901.1h0M1165.6 901.0h0M1168.0 901.7h0M1164.4 902.9h0M1165.8 906.4h0M1169.2 905.5h0M1169.6 909.4h0M1170.5 911.8h0M1171.1 912.8h0M1173.8 915.2h0M1172.0 915.5h0M1171.3 913.7h0M1172.0 918.8h0M1173.7 918.5h0M1175.8 920.0h0M1176.0 921.9h0M1179.5 923.1h0M1178.7 926.2h0M1178.6 923.9h0M1178.8 929.3h0M1178.2 928.0h0M1182.1 931.8h0M1181.6 933.4h0M1182.5 931.5h0M1181.1 933.9h0M1184.8 935.5h0M1183.3 936.6h0M1183.2 939.2h0M1184.4 941.5h0M1183.6 942.9h0M1186.4 940.5h0M1188.7 944.8h0M1185.9 945.2h0M1189.6 947.4h0M1190.9 950.9h0M1191.4 951.6h0M1192.9 953.7h0M1192.5 950.5h0M1194.1 957.7h0M1193.6 956.2h0M1197.3 955.5h0M1196.6 964.1h0M1195.9 962.7h0M1200.3 962.8h0M1200.0 963.5h0M1199.7 960.8h0M1202.5 961.4h0M1203.5 958.7h0M1203.7 957.4h0M1207.3 957.2h0M1206.6 954.6h0M1212.2 956.9h0M1211.2 949.7h0M1212.6 954.0h0M1215.4 953.1h0M1214.7 952.3h0M1213.9 952.3h0M1218.1 948.5h0M1220.7 951.9h0M1218.9 946.8h0M1222.3 947.3h0M1222.3 943.8h0M1226.1 945.8h0M1223.0 940.2h0M1227.2 942.7h0M1228.2 940.9h0M1225.8 938.4h0M1225.0 935.2h0M1228.3 935.9h0M1228.3 933.3h0M1230.6 932.6h0M1231.3 930.8h0M1230.7 930.3h0M1231.7 926.0h0M1231.4 925.8h0M1232.6 924.6h0M1233.2 923.1h0M1233.6 919.1h0M1234.8 921.5h0M1235.4 917.8h0M1235.9 915.0h0M1233.6 915.2h0M1235.3 914.8h0M1235.7 907.5h0M1236.6 913.3h0M1238.2 906.9h0M1238.6 908.7h0M1241.0 906.8h0M1243.0 906.3h0M1242.1 904.7h0M1244.9 904.0h0M1245.0 899.1h0M1244.4 900.8h0M1245.1 900.0h0M1247.0 898.3h0M1246.9 899.7h0M1249.5 893.6h0M1248.6 896.8h0M1248.6 892.3h0M1250.7 889.3h0M1248.6 888.0h0M1250.9 888.0h0M1251.9 884.5h0M1252.5 883.8h0M1252.2 881.4h0M1252.2 880.9h0M1251.7 877.1h0M1253.5 874.1h0M1253.5 871.6h0M1254.1 874.6h0M1256.5 872.1h0M1256.5 868.4h0M1259.9 870.3h0M1259.9 866.6h0M1259.3 863.6h0M1261.4 866.9h0M1259.1 863.8h0M1263.1 859.5h0M1261.0 859.3h0M1263.4 857.4h0M1265.1 858.8h0M1266.8 858.2h0M1268.8 857.7h0M1266.4 853.6h0M1267.7 851.4h0M1269.9 852.0h0M1271.6 848.1h0M1270.5 849.5h0M1272.8 847.7h0M1273.9 845.7h0M1275.8 846.4h0M1275.9 843.4h0M1276.8 838.6h0M1276.8 842.1h0M1277.2 841.1h0M1280.2 837.2h0M1280.7 837.7h0M1282.6 838.0h0M1283.0 834.3h0M1283.8 834.4h0M1285.9 833.8h0M1285.1 829.7h0M1286.6 829.5h0M1286.7 829.3h0M1288.4 828.4h0M1290.6 826.3h0M1294.3 825.8h0M1294.3 825.8h0M1295.8 820.9h0M1295.1 824.6h0M1298.2 827.5h0M1299.4 825.0h0M1301.4 823.7h0M1302.6 821.1h0M1304.1 818.9h0M1306.4 818.3h0M1306.7 824.6h0M1307.5 822.0h0M1310.5 823.0h0M1309.5 824.4h0M1312.5 826.2h0M1312.3 829.0h0M1316.5 827.0h0M1316.2 827.3h0M1319.0 827.8h0M1319.4 829.2h0M1319.2 832.2h0M1323.1 831.7h0M1322.3 833.8h0M1324.5 833.7h0M1328.0 835.9h0M1327.0 838.5h0M1329.2 836.7h0M1330.0 836.1h0M1330.2 839.9h0M1335.4 835.5h0M1333.5 835.6h0M1338.3 838.3h0M1338.3 839.3h0M1339.8 838.7h0M1341.5 838.8h0M1342.9 842.5h0M1344.6 842.9h0M1343.9 844.8h0M1345.4 848.5h0M1347.9 846.9h0M1347.4 847.1h0M1347.9 849.0h0M1350.4 851.7h0M1351.7 855.7h0M1351.2 853.4h0M1356.4 851.5h0M1353.4 856.2h0M1355.2 857.9h0M1355.7 859.1h0M1357.1 861.0h0M1355.7 859.5h0M1359.5 860.2h0M1359.7 863.9h0M1361.6 864.8h0M1364.7 865.2h0M1365.9 865.4h0M1365.0 866.4h0M1368.7 866.5h0M1369.5 869.5h0M1370.0 870.3h0M1374.8 869.1h0M1374.2 870.7h0M1377.0 872.8h0M1377.4 872.4h0M1377.4 874.8h0M1376.4 878.6h0M1380.8 874.5h0M1381.8 878.5h0M1382.5 880.6h0M1381.6 880.5h0M1386.5 880.8h0M1384.9 880.4h0M1386.0 884.2h0M1390.8 885.3h0M1390.5 889.3h0M1390.9 885.2h0M1393.5 888.2h0M1393.1 886.2h0M1396.0 889.5h0M1395.4 889.7h0M1397.2 892.1h0M1398.6 892.5h0M1399.2 895.8h0M1402.2 894.7h0M1402.5 895.4h0M1402.4 899.3h0M1405.0 898.7h0M1404.0 901.0h0M1403.2 902.0h0M1405.5 903.5h0M1406.3 900.5h0M1409.0 905.2h0M1409.7 907.2h0M1411.3 905.6h0M1413.6 904.8h0M1413.5 908.4h0M1416.7 909.1h0M1417.4 909.1h0M1418.7 914.0h0M1418.8 916.1h0M1420.2 913.0h0M1422.7 915.5h0M1422.4 910.9h0M1426.1 916.5h0M1427.6 920.4h0M1428.5 917.1h0M1430.8 918.0h0M1433.2 916.0h0M1432.2 913.0h0M1435.1 918.9h0M1436.7 923.9h0M1437.0 920.6h0M1437.9 920.4h0M1439.2 923.7h0M1441.5 923.5h0M1442.8 925.8h0M1445.1 924.8h0M1446.8 925.5h0M1446.1 929.1h0M1449.6 925.8h0M1451.8 928.8h0M1450.1 931.7h0M1453.7 931.7h0M1454.9 931.1h0M1454.1 934.2h0M1457.4 933.2h0M1459.1 935.0h0M1460.8 935.4h0M1461.6 932.5h0M1462.7 937.3h0M1466.4 935.7h0M1466.3 939.1h0M1467.6 937.7h0M1471.6 936.7h0M1472.7 935.5h0M1473.0 936.7h0M1474.5 938.8h0M1478.9 935.9h0M1476.8 938.5h0M1477.7 939.2h0M1481.2 938.6h0M1482.6 937.2h0M1484.4 937.9h0M1484.2 940.3h0M1486.0 943.4h0M1488.1 941.9h0M1490.2 946.0h0M1491.0 944.6h0M1493.8 945.4h0M1492.1 950.1h0M1497.7 943.4h0M1496.3 948.4h0M1498.8 949.7h0M1498.7 947.7h0M1500.5 952.2h0M1500.4 949.6h0M1503.0 949.0h0M1504.0 952.4h0M1506.2 952.9h0M1505.9 954.3h0M1507.6 955.4h0M1508.3 959.3h0M1510.4 962.4h0M1508.7 960.3h0M1507.3 965.7h0M1510.0 963.9h0M1512.2 963.2h0M1512.8 967.0h0M1510.7 969.0h0M1514.9 966.8h0M1515.1 971.9h0M1515.4 973.8h0M1517.0 974.1h0M1517.1 975.3h0M1517.6 976.1h0M1517.3 981.9h0M1518.6 980.2h0M1517.3 980.7h0M1519.6 985.1h0M1520.5 985.9h0M1521.1 988.5h0M1521.8 986.4h0M1524.5 988.6h0M1524.3 988.6h0M1525.5 991.8h0M1527.3 989.9h0M1528.6 993.4h0M1528.0 995.5h0M1530.0 994.8h0M1532.5 998.8h0M1531.9 998.4h0M1532.8 1002.8h0M1534.4 1002.0h0M1535.4 1002.6h0M1540.1 998.1h0M1538.1 1004.5h0M1539.7 1003.7h0M1543.6 1006.1h0M1540.2 1008.7h0M1541.3 1010.4h0M1543.9 1009.8h0M1547.3 1011.0h0M1545.3 1009.1h0M1549.6 1014.5h0M1548.4 1015.9h0M1551.2 1016.7h0M1549.1 1016.3h0M1554.1 1019.2h0M1555.6 1014.3h0M1556.3 1019.8h0M1560.8 1017.9h0M1558.9 1020.1h0M1561.9 1019.7h0M1563.8 1019.7h0M1564.3 1020.6h0M1565.8 1020.8h0M1565.2 1024.4h0M1569.1 1022.1h0M1570.5 1025.2h0M1570.7 1023.8h0M1574.1 1025.4h0M1574.6 1021.4h0M1578.1 1025.7h0M1578.2 1024.8h0M1580.2 1024.7h0M1580.2 1024.4h0M1582.4 1024.7h0M1583.3 1027.0h0M1584.7 1027.2h0M1586.7 1026.8h0M1591.2 1026.7h0M1590.3 1026.6h0M1592.9 1023.7h0M1593.7 1027.1h0M1595.4 1027.1h0M1598.3 1029.3h0M1599.8 1030.0h0M1599.8 1030.0h0M1601.2 1030.5h0M1602.7 1029.1h0M1603.9 1033.0h0M1604.5 1034.0h0M1607.6 1034.7h0M1610.3 1032.1h0M1608.4 1034.9h0M1610.7 1044.0h0M1607.3 1041.2h0M1611.8 1042.0h0M1612.7 1040.2h0M1613.9 1046.1h0M1613.7 1046.0h0M1615.3 1047.7h0M1615.6 1049.1h0M1613.5 1051.4h0M1617.2 1054.3h0M1616.8 1054.4h0M1619.4 1056.2h0M1621.0 1060.8h0M1619.3 1055.6h0M1622.3 1062.9h0M1623.2 1063.2h0M1622.2 1062.0h0M1624.8 1063.1h0M1622.4 1064.5h0M1628.5 1070.9h0M1625.5 1067.8h0M1627.4 1069.3h0M1629.6 1071.9h0M1628.3 1074.7h0M1630.5 1073.3h0M1632.8 1072.9h0M1634.9 1072.7h0M1633.9 1070.6h0M1636.2 1073.5h0M1639.3 1075.3h0M1641.6 1075.9h0M1641.6 1074.9h0M1641.6 1076.3h0M1646.4 1078.0h0M1647.2 1077.2h0M1650.1 1078.0h0M1651.5 1079.6h0M1652.4 1081.5h0M1653.0 1079.3h0M1654.3 1079.2h0M1658.7 1084.2h0M1658.5 1082.8h0M1661.4 1083.9h0M1663.0 1081.0h0M1662.4 1084.6h0M1666.4 1084.6h0M1665.3 1084.5h0M1667.1 1084.3h0M1671.2 1085.3h0M1671.0 1090.7h0M1674.0 1087.6h0M1673.5 1087.7h0M1677.7 1088.1h0M1678.9 1087.2h0M1679.6 1086.7h0M1681.1 1089.2h0M1680.5 1086.9h0M1684.1 1086.0h0M1685.0 1088.3h0M1689.4 1088.1h0M1689.0 1084.4h0M1692.5 1087.1h0M1691.8 1085.1h0M1693.3 1085.1h0M1695.1 1087.8h0M1696.6 1087.5h0M1697.2 1089.4h0M1699.0 1083.9h0M1701.2 1085.7h0M1701.8 1086.4h0M1704.8 1085.6h0M1705.8 1090.6h0M1708.3 1088.5h0M1709.2 1089.1h0M1710.4 1091.1h0M1711.9 1086.3h0M1713.5 1089.5h0M1715.8 1090.5h0M1716.7 1095.8h0M1716.7 1090.8h0M1717.8 1089.2h0M1718.7 1094.5h0M1721.7 1091.3h0M1722.2 1096.0h0M1724.7 1094.9h0M1727.6 1098.4h0M1731.2 1098.4h0M1730.6 1097.5h0M1734.2 1100.1h0M1733.3 1099.0h0M1735.7 1098.9h0M1736.3 1097.1h0M1737.9 1097.2h0M1741.6 1101.3h0M1740.3 1103.3h0M1744.5 1098.2h0M1747.2 1103.4h0M1748.5 1101.3h0M1747.6 1105.4h0M1748.2 1106.4h0M1750.3 1104.9h0M1748.5 1106.4h0M1750.3 1109.2h0M1752.4 1112.0h0M1753.0 1111.8h0M1753.5 1115.9h0M1755.9 1115.8h0M1755.6 1119.6h0M1756.1 1119.6h0M1759.1 1119.5h0M1759.5 1119.5h0M1760.6 1123.2h0M1758.3 1125.4h0M1760.0 1127.9h0M1761.1 1127.0h0M1763.1 1128.1h0M1763.9 1129.2h0M1765.3 1131.6h0M1765.6 1128.4h0M1767.5 1134.6h0M1025.9 790.2h0M1030.2 791.8h0M1029.9 792.7h0M1032.6 794.1h0M1034.2 791.2h0M1035.6 788.2h0M1038.9 791.7h0M1041.0 791.6h0M1040.1 787.4h0M1041.6 789.1h0M1043.0 791.2h0M1046.0 789.8h0M1047.4 790.0h0M1049.1 791.6h0M1051.6 789.1h0M1050.2 792.8h0M1053.7 792.2h0M1053.2 789.8h0M1056.8 787.9h0M1057.8 791.7h0M1061.3 793.2h0M1060.6 788.1h0M1063.8 792.1h0M1065.0 788.3h0M1067.3 791.9h0M1068.7 789.7h0M1070.0 791.9h0M1070.5 787.5h0M1073.2 791.4h0M1074.4 792.2h0M1075.3 790.5h0M1077.2 791.7h0M1081.1 790.3h0M1083.3 793.3h0M1083.3 791.8h0M1086.1 790.5h0M1085.5 789.0h0M1087.8 793.1h0M1089.4 791.6h0M1090.2 791.2h0M1090.3 792.7h0M1093.1 789.0h0M1094.3 789.5h0M1097.8 792.8h0M1096.8 792.6h0M1101.1 790.0h0M1099.8 789.7h0M1102.5 791.6h0M1104.4 787.6h0M1106.7 788.4h0M1109.2 788.9h0M1108.8 789.5h0M1110.6 793.2h0M1113.9 792.0h0M1114.9 788.4h0M1115.5 790.1h0M1116.6 791.9h0M1118.5 789.8h0M1119.7 787.5h0M1123.3 793.3h0M1124.4 789.3h0M1122.6 791.3h0M1128.9 791.5h0M1130.1 793.5h0M1132.0 790.2h0M1133.5 792.3h0M1132.0 790.3h0M1133.8 790.8h0M1137.8 789.2h0M1136.2 793.2h0M1140.8 793.5h0M1140.3 792.8h0M1146.0 794.4h0M1144.9 791.5h0M1146.6 792.7h0M1149.6 791.1h0M1148.4 792.3h0M1151.0 792.2h0M1153.5 794.0h0M1156.2 790.6h0M1156.9 794.5h0M1157.4 792.4h0M1161.1 793.9h0M1161.9 789.7h0M1161.4 792.5h0M1165.0 796.5h0M1165.1 794.2h0M1168.7 789.6h0M1168.4 792.8h0M1170.4 792.4h0M1173.1 791.4h0M1174.8 791.9h0M1175.2 794.0h0M1176.7 793.7h0M1181.0 793.4h0M1180.5 794.7h0M1181.8 795.4h0M1182.3 794.8h0M1184.9 792.5h0M1189.2 792.5h0M1190.8 795.2h0M1192.1 792.6h0M1193.4 796.8h0M1193.4 794.3h0M1198.1 794.9h0M1196.3 793.7h0M1198.9 795.4h0M1200.2 797.9h0M1201.2 796.2h0M1205.0 794.1h0M1206.0 799.3h0M1204.8 794.7h0M1206.8 793.9h0M1210.1 794.2h0M1211.8 800.3h0M1210.9 797.7h0M1212.1 799.9h0M1215.1 798.5h0M1217.7 800.3h0M1218.8 799.8h0M1220.1 800.4h0M1221.0 800.7h0M1221.7 800.2h0M1227.9 801.5h0M1225.7 802.2h0M1227.6 799.4h0M1229.5 803.9h0M1232.5 802.8h0M1232.5 801.6h0M1236.8 804.2h0M1235.7 800.6h0M1236.8 808.8h0M1238.6 804.9h0M1241.8 805.3h0M1242.7 803.9h0M1243.3 809.7h0M1245.2 808.9h0M1245.6 807.6h0M1249.4 810.4h0M1249.3 810.3h0M1252.6 808.6h0M1254.3 809.0h0M1254.3 811.1h0M1253.5 811.5h0M1257.1 809.8h0M1259.3 814.2h0M1260.8 815.7h0M1261.4 811.9h0M1266.2 815.4h0M1267.0 813.9h0M1268.4 816.4h0M1269.7 816.6h0M1271.9 816.1h0M1270.8 815.3h0M1274.9 817.1h0M1273.7 817.4h0M1276.0 817.3h0M1277.8 818.8h0M1279.0 818.7h0M1281.3 820.0h0M1282.9 821.6h0M1284.7 817.9h0M1285.2 820.8h0M1288.4 819.9h0M1288.1 822.5h0M1290.2 825.1h0M1291.6 825.5h0M1291.9 821.3h0M1296.7 825.5h0M1297.4 825.4h0M1298.9 823.6h0M1301.0 825.2h0M1302.6 826.7h0M1300.6 824.8h0M1306.0 826.8h0M1305.7 827.5h0M1307.3 826.3h0M1309.5 827.5h0M1312.8 827.4h0M1314.9 830.5h0M1316.3 829.3h0M1316.0 827.8h0M1317.2 826.4h0M1318.9 826.6h0M1322.6 828.6h0M1321.7 824.5h0M1323.7 827.2h0M1324.1 826.0h0M1324.3 829.0h0M1328.3 833.4h0M1329.6 829.7h0M1332.7 831.2h0M1332.5 831.4h0M1332.9 835.5h0M1336.2 836.9h0M1335.9 835.1h0M1336.6 837.6h0M1337.3 838.0h0M1341.6 840.4h0M1340.5 840.9h0M1342.1 838.7h0M1342.5 843.2h0M1347.1 841.5h0M1345.3 843.1h0M1350.2 846.6h0M1347.6 843.1h0M1348.5 849.4h0M1352.7 848.2h0M1350.6 849.0h0M1350.3 852.7h0M1352.3 854.2h0M1352.6 851.4h0M1356.1 853.5h0M1357.7 856.1h0M1356.4 858.4h0M1359.9 855.3h0M1362.1 860.6h0M1361.9 857.8h0M1361.6 861.2h0M1365.2 860.1h0M1364.3 859.9h0M1366.5 864.7h0M1366.2 863.9h0M1370.3 868.4h0M1371.9 865.9h0M1371.1 865.6h0M1373.2 868.2h0M1375.1 872.1h0M1376.6 868.7h0M1379.3 873.5h0M1378.7 871.9h0M1377.5 872.7h0M1382.0 874.3h0M1380.4 877.3h0M1383.7 879.0h0M1385.5 881.4h0M1385.1 881.7h0M1386.3 882.2h0M1389.0 882.4h0M1391.3 883.0h0M1392.9 885.5h0M1393.1 884.0h0M1393.4 885.1h0M1395.4 887.0h0M1400.6 889.1h0M1399.3 887.4h0M1398.9 889.2h0M1401.3 888.9h0M1404.3 890.6h0M1405.1 888.4h0M1405.1 893.8h0M1406.7 895.2h0M1408.2 895.3h0M1406.9 894.7h0M1407.7 897.9h0M1412.3 897.4h0M1412.2 897.6h0M1416.8 902.4h0M1415.9 902.5h0M1415.4 897.9h0M1418.1 900.6h0M1419.3 903.3h0M1425.1 902.8h0M1422.9 905.3h0M1424.2 907.4h0M1427.8 904.6h0M1427.3 907.2h0M1429.0 906.0h0M1427.9 905.6h0M1432.1 910.8h0M1432.9 907.3h0M1433.8 911.0h0M1434.0 911.7h0M1438.0 915.1h0M1438.5 915.9h0M1439.3 916.1h0M1441.6 917.6h0M1443.0 917.1h0M1444.5 917.0h0M1448.8 919.6h0M1448.2 923.4h0M1450.9 917.5h0M1451.6 922.3h0M1454.6 923.8h0M1454.8 920.2h0M1454.3 923.4h0M1457.5 921.9h0M1458.0 923.6h0M1460.1 925.6h0M1461.2 923.6h0M1464.6 929.0h0M1464.5 928.7h0M1466.7 928.8h0M1468.2 927.0h0M1469.9 930.7h0M1469.7 933.0h0M1474.8 933.4h0M1476.2 932.3h0M1474.9 930.6h0M1475.9 932.5h0M1478.4 934.1h0M1477.5 937.6h0M1484.2 934.3h0M1483.8 935.8h0M1484.6 935.6h0M1485.5 935.6h0M1487.1 938.0h0M1488.6 937.5h0M1489.6 940.1h0M1491.6 939.2h0M1492.7 943.7h0M1494.2 942.4h0M1494.2 943.6h0M1497.0 947.6h0M1497.2 944.9h0M1499.1 947.3h0M1498.9 946.7h0M1500.9 950.4h0M1500.7 948.7h0M1503.8 949.6h0M1504.4 953.5h0M1505.2 952.3h0M1506.4 954.7h0M1507.9 955.1h0M1509.9 954.9h0M1509.4 958.9h0M1511.9 959.1h0M1512.4 960.4h0M1513.7 965.5h0M1513.4 964.5h0M1513.9 966.7h0M1517.1 966.6h0M1514.9 968.8h0M1518.2 971.5h0M1518.4 968.1h0M1517.2 975.2h0M1517.2 976.3h0M1521.5 977.2h0M1521.2 976.9h0M1519.0 978.8h0M1520.9 980.5h0M1522.6 981.9h0M1522.6 984.4h0M1522.9 988.4h0M1524.1 986.9h0M1523.9 987.3h0M1526.4 990.1h0M1524.1 990.5h0M1525.8 992.2h0M1528.4 992.2h0M1528.8 995.6h0M1528.0 996.6h0M1530.4 998.5h0M1531.1 999.3h0M1530.8 998.2h0M1534.8 1002.9h0M1535.0 1001.3h0M1537.4 999.9h0M1536.3 1005.8h0M1539.2 1004.1h0M1537.2 1009.5h0M1540.8 1006.6h0M1541.8 1010.9h0M1539.8 1012.4h0M1544.9 1008.1h0M1546.1 1009.8h0M1547.6 1014.7h0M1550.1 1014.1h0M1548.5 1018.1h0M1548.9 1016.3h0M1550.3 1018.5h0M1550.6 1020.7h0M1553.7 1021.1h0M1556.7 1020.8h0M1558.0 1020.7h0M1559.0 1018.6h0M1560.0 1021.9h0M1560.9 1021.5h0M1562.7 1021.6h0M1562.2 1022.1h0M1565.9 1022.6h0M1567.0 1023.5h0M1570.9 1023.7h0M1571.0 1026.7h0M1574.5 1026.3h0M1576.4 1024.4h0M1576.5 1027.1h0M1577.6 1025.3h0M1580.3 1026.3h0M1581.1 1027.6h0M1582.9 1027.4h0M1586.0 1027.5h0M1587.2 1024.6h0M1586.3 1025.8h0M1590.1 1029.6h0M1589.7 1027.8h0M1591.7 1026.3h0M1594.1 1028.9h0M1596.3 1030.0h0M1596.4 1030.0h0M1600.3 1029.1h0M1601.4 1028.5h0M1601.1 1029.3h0M1603.2 1035.4h0M1605.0 1033.8h0M1607.4 1032.0h0M1609.7 1030.7h0M1611.5 1033.1h0M1610.2 1034.0h0M1614.3 1034.3h0M1617.1 1033.3h0M1617.4 1035.8h0M1617.3 1037.0h0M1618.3 1033.3h0M1622.2 1034.1h0M1623.1 1033.7h0M1624.9 1035.1h0M1626.8 1034.9h0M1628.5 1037.5h0M1629.7 1038.3h0M1631.4 1036.7h0M1629.8 1039.4h0M1633.3 1039.1h0M1636.6 1036.9h0M1636.8 1039.7h0M1638.0 1041.8h0M1640.8 1040.3h0M1641.4 1043.5h0M1643.4 1043.6h0M1646.3 1039.9h0M1646.1 1043.5h0M1649.4 1045.3h0M1651.6 1045.9h0M1651.8 1043.8h0M1654.7 1043.6h0M1656.7 1041.7h0M1657.8 1044.2h0M1656.2 1046.3h0M1660.6 1044.7h0M1660.5 1044.0h0M1665.2 1043.5h0M1660.8 1043.5h0M1665.2 1044.9h0M1667.7 1043.6h0M1668.8 1047.1h0M1669.7 1048.7h0M1672.3 1043.6h0M1675.5 1046.6h0M1674.9 1047.0h0M1675.6 1044.2h0M1680.8 1045.5h0M1679.4 1046.9h0M1683.7 1045.1h0M1682.0 1043.7h0M1686.2 1044.7h0M1689.5 1042.1h0M1688.3 1041.6h0M1691.9 1039.3h0M1693.6 1035.3h0M1694.3 1039.8h0M1695.2 1043.0h0M1694.5 1042.7h0M1697.5 1044.7h0M1697.4 1043.0h0M1697.6 1049.9h0M1701.0 1046.2h0M1700.7 1049.1h0M1703.2 1050.9h0M1706.1 1049.4h0M1707.3 1048.4h0M1707.4 1050.3h0M1707.5 1052.2h0M1710.2 1055.6h0M1707.7 1052.9h0M1711.9 1054.2h0M1714.9 1056.6h0M1715.8 1056.1h0M1717.7 1058.4h0M1716.3 1058.3h0M1718.2 1057.7h0M1721.4 1060.7h0M1722.8 1060.1h0M1723.8 1060.9h0M1725.8 1064.6h0M1728.9 1066.5h0M1727.2 1064.5h0M1728.4 1066.8h0M1733.3 1068.4h0M1729.6 1066.0h0M1732.1 1069.9h0M1735.0 1070.5h0M1737.9 1070.1h0M1735.5 1076.3h0M1737.7 1073.1h0M1735.6 1073.3h0M1735.9 1077.4h0M1739.7 1080.5h0M1740.2 1079.1h0M1740.3 1084.9h0M1739.8 1083.4h0M1742.7 1085.7h0M1743.0 1086.9h0M1745.2 1087.3h0M1744.5 1088.7h0M1745.4 1089.5h0M1747.8 1091.1h0M1751.3 1093.8h0M1750.8 1093.5h0M1753.2 1094.6h0M1754.5 1094.6h0M1755.4 1093.7h0M1758.7 1096.8h0M1760.2 1094.9h0M1761.4 1093.0h0M1760.7 1094.5h0M1764.7 1092.1h0M1765.0 1094.8h0M1765.7 1095.2h0M1770.4 1095.8h0M1770.4 1091.4h0M1772.4 1091.3h0M1774.4 1089.9h0M1777.6 1090.1h0M1777.4 1092.6h0M1779.0 1091.2h0M1781.8 1091.5h0M1781.5 1092.2h0M1784.4 1095.5h0M1785.0 1094.4h0M1027.1 789.4h0M1029.2 790.5h0M1032.2 793.0h0M1032.0 792.3h0M1035.6 791.4h0M1035.1 791.6h0M1037.5 790.6h0M1038.9 791.2h0M1042.1 792.0h0M1042.2 791.7h0M1045.8 788.5h0M1047.4 787.8h0M1047.9 791.1h0M1050.6 790.5h0M1049.8 788.7h0M1050.5 791.4h0M1053.3 788.9h0M1055.9 788.8h0M1056.3 789.3h0M1060.4 792.6h0M1059.8 787.4h0M1062.0 790.2h0M1063.6 791.1h0M1064.4 791.7h0M1067.4 790.5h0M1067.5 789.3h0M1070.5 788.3h0M1071.0 788.8h0M1071.2 791.2h0M1074.4 790.2h0M1077.1 787.6h0M1077.5 790.6h0M1080.2 788.3h0M1081.7 790.5h0M1084.1 792.1h0M1084.7 793.8h0M1085.6 789.4h0M1086.8 788.6h0M1088.8 787.0h0M1090.3 790.9h0M1093.2 789.6h0M1095.3 789.1h0M1095.1 787.0h0M1095.9 788.9h0M1100.2 791.1h0M1098.7 791.1h0M1102.2 789.8h0M1103.3 789.7h0M1104.2 787.3h0M1106.3 792.4h0M1109.7 789.8h0M1108.8 789.9h0M1112.3 790.8h0M1112.2 790.8h0M1114.2 791.1h0M1115.6 787.8h0M1117.7 791.5h0M1118.0 790.1h0M1121.9 789.6h0M1121.7 793.6h0M1125.0 792.0h0M1124.6 793.0h0M1125.3 789.4h0M1129.7 792.5h0M1129.4 789.2h0M1132.3 787.1h0M1134.4 791.2h0M1134.7 791.2h0M1137.8 790.8h0M1139.1 792.8h0M1139.5 790.6h0M1141.1 792.0h0M1142.8 791.1h0M1145.0 790.4h0M1148.5 790.2h0M1149.7 791.7h0M1151.2 790.1h0M1152.3 791.6h0M1152.2 790.8h0M1154.3 790.3h0M1157.6 789.2h0M1155.7 787.5h0M1158.8 789.3h0M1160.9 791.3h0M1164.5 790.9h0M1164.6 789.2h0M1166.4 792.6h0M1168.8 787.2h0M1169.9 793.0h0M1171.4 788.0h0M1171.7 791.4h0M1174.2 789.1h0M1174.3 792.0h0M1175.3 792.8h0M1178.5 790.9h0M1178.5 789.5h0M1182.5 788.0h0M1185.7 788.1h0M1183.5 790.5h0M1187.0 791.7h0M1187.7 790.1h0M1189.4 789.5h0M1188.3 792.0h0M1193.2 790.7h0M1193.8 790.9h0M1196.1 790.4h0M1199.0 787.7h0M1199.6 788.7h0M1200.5 792.9h0M1201.3 790.3h0M1203.4 792.1h0M1204.6 787.8h0M1207.9 789.9h0M1208.5 792.3h0M1209.5 789.9h0M1212.3 791.2h0M1213.1 792.2h0M1217.9 789.9h0M1219.1 787.1h0M1220.1 790.0h0M1220.3 790.0h0M1221.0 788.5h0M1222.9 792.7h0M1226.2 790.0h0M1225.9 789.4h0M1226.7 793.5h0M1230.5 790.8h0M1230.8 788.9h0M1234.4 791.9h0M1233.4 792.2h0M1234.8 791.6h0M1236.6 789.9h0M1239.9 791.3h0M1242.1 789.2h0M1244.3 792.8h0M1244.1 791.4h0M1244.8 790.4h0M1245.8 790.8h0M1249.2 792.8h0M1251.6 792.0h0M1251.7 790.3h0M1253.3 791.0h0M1253.1 791.9h0M1255.1 789.8h0M1258.6 789.8h0M1262.0 790.5h0M1263.5 792.6h0M1262.8 791.3h0M1266.4 790.1h0M1266.6 789.8h0M1268.2 790.1h0M1269.8 792.3h0M1272.9 790.9h0M1273.2 792.1h0M1274.2 789.0h0M1277.4 789.2h0M1278.8 789.1h0M1281.5 789.0h0M1281.9 793.2h0M1281.4 793.2h0M1283.2 787.9h0M1286.6 791.9h0M1287.1 786.6h0M1288.9 790.2h0M1290.1 790.3h0M1290.1 789.8h0M1295.8 793.3h0M1294.9 789.6h0M1297.4 792.5h0M1299.4 788.9h0M1300.3 791.0h0M1303.4 792.7h0M1304.0 792.8h0M1304.5 793.3h0M1306.1 791.4h0M1309.2 789.3h0M1309.0 787.9h0M1311.6 790.7h0M1312.6 791.6h0M1312.1 790.8h0M1316.3 790.4h0M1318.7 793.7h0M1318.9 789.3h0M1320.3 791.0h0M1323.2 789.4h0M1325.3 789.2h0M1326.7 791.6h0M1327.9 794.4h0M1328.7 790.6h0M1331.1 792.3h0M1330.6 791.3h0M1332.9 791.9h0M1337.0 791.0h0M1336.9 791.2h0M1335.2 792.1h0M1340.8 791.2h0M1341.3 789.7h0M1343.2 792.9h0M1344.9 793.1h0M1343.6 790.2h0M1348.5 790.9h0M1347.9 789.8h0M1352.8 788.8h0M1351.8 789.1h0M1354.0 792.0h0M1356.9 787.6h0M1359.5 790.0h0M1358.7 793.7h0M1360.9 788.9h0M1361.9 789.8h0M1363.0 790.4h0M1366.8 791.5h0M1365.8 795.5h0M1367.9 791.2h0M1370.6 792.2h0M1371.8 791.7h0M1376.2 791.1h0M1374.2 791.5h0M1376.1 790.4h0M1377.4 793.2h0M1377.0 795.6h0M1377.3 793.8h0M1378.6 796.9h0M1379.2 798.1h0M1378.6 801.3h0M1375.0 800.0h0M1377.0 806.3h0M1376.2 807.2h0M1379.8 808.1h0M1379.5 808.1h0M1378.9 810.9h0M1379.5 813.4h0M1379.0 812.7h0M1378.7 816.1h0M1377.6 815.1h0M1379.2 817.8h0M1379.5 816.0h0M1379.6 821.6h0M1381.9 820.2h0M1381.6 825.5h0M1383.6 828.1h0M1385.2 825.8h0M1385.7 828.4h0M1385.1 832.8h0M1386.3 830.3h0M1387.5 831.7h0M1390.2 835.1h0M1391.6 836.5h0M1390.3 838.9h0M1391.2 837.9h0M1392.8 840.1h0M1395.9 839.8h0M1396.4 841.5h0M1396.0 840.5h0M1398.7 843.7h0M1400.9 844.5h0M1402.1 843.8h0M1404.0 843.6h0M1403.4 845.5h0M1404.9 845.8h0M1407.3 846.3h0M1409.7 846.5h0M1410.9 845.6h0M1413.2 847.6h0M1415.1 845.0h0M1415.3 850.6h0M1415.0 850.2h0M1419.5 851.6h0M1419.3 852.4h0M1421.5 852.0h0M1422.6 855.2h0M1422.1 856.1h0M1423.1 858.7h0M1424.2 860.9h0M1422.5 861.4h0M1424.7 862.8h0M1424.4 865.9h0M1425.2 862.2h0M1427.0 867.4h0M1428.5 866.8h0M1431.2 868.8h0M1430.5 868.8h0M1433.1 869.2h0M1433.0 875.3h0M1437.1 874.7h0M1438.6 875.0h0M1436.2 877.3h0M1440.8 877.5h0M1438.2 880.0h0M1443.3 878.5h0M1443.0 881.9h0M1443.9 883.8h0M1445.1 884.5h0M1446.1 882.3h0M1445.8 891.3h0M1448.3 889.7h0M1450.3 891.7h0M1450.6 889.3h0M1451.0 888.5h0M1451.8 894.5h0M1450.6 894.6h0M1455.2 897.8h0M1454.4 895.8h0M1454.4 896.5h0M1458.3 902.8h0M1457.5 903.0h0M1460.5 901.2h0M1463.7 899.0h0M1462.2 904.6h0M1465.9 908.4h0M1467.2 906.8h0M1466.9 910.0h0M1467.5 909.5h0M1467.8 909.3h0M1468.2 913.8h0M1470.7 907.8h0M1473.1 911.7h0M1474.6 915.4h0M1475.9 912.6h0M1476.7 913.6h0M1478.7 914.5h0M1484.4 915.5h0M1481.4 918.6h0M1485.0 917.3h0M1486.5 917.9h0M1488.1 919.4h0M1490.2 919.9h0M1490.1 918.2h0M1491.5 920.4h0M1495.0 918.6h0M1496.3 924.2h0M1498.8 918.6h0M1498.9 922.1h0M1499.9 923.0h0M1502.2 924.3h0M1500.4 926.4h0M1502.5 926.8h0M1502.8 925.7h0M1502.9 928.8h0M1504.1 926.3h0M1507.5 930.3h0M1506.3 934.5h0M1505.2 937.2h0M1508.4 937.0h0M1510.1 937.4h0M1512.1 937.8h0M1511.2 936.3h0M1514.6 942.1h0M1515.4 941.5h0M1517.5 942.4h0M1519.8 940.1h0M1520.3 943.2h0M1521.0 943.0h0M1521.7 943.7h0M1522.7 950.5h0M1527.3 947.3h0M1527.5 946.6h0M1524.7 946.1h0M1529.5 952.5h0M1530.6 949.4h0M1531.7 950.3h0M1531.6 952.7h0M1534.0 952.8h0M1534.7 953.6h0M1537.2 958.5h0M1537.9 961.0h0M1537.5 958.8h0M1539.3 959.1h0M1542.0 961.4h0M1544.4 960.6h0M1542.9 962.3h0M1545.9 962.5h0M1547.9 967.5h0M1546.4 966.4h0M1550.5 963.6h0M1550.8 967.5h0M1550.1 971.1h0M1553.3 969.2h0M1555.2 971.1h0M1557.3 971.0h0M1558.6 968.1h0M1559.3 970.2h0M1558.2 973.5h0M1562.7 968.3h0M1562.7 970.4h0M1566.6 969.0h0M1567.7 968.5h0M1569.0 969.8h0M1570.9 971.1h0M1573.1 970.2h0M1575.5 972.1h0M1577.3 970.7h0M1578.0 969.3h0M1579.4 972.1h0M1581.7 970.6h0M1581.5 969.0h0M1585.1 973.5h0M1586.7 969.9h0M1587.7 972.8h0M1588.5 973.3h0M1590.9 971.7h0M1591.3 974.7h0M1594.8 972.2h0M1594.8 975.5h0M1598.3 973.9h0M1601.1 974.3h0M1599.6 977.0h0M1602.2 976.2h0M1604.0 974.3h0M1604.2 976.1h0M1608.8 975.1h0M1610.4 977.6h0M1609.1 978.0h0M1612.7 976.5h0M1611.1 979.0h0M1613.9 979.5h0M1614.6 979.0h0M1617.5 977.2h0M1619.7 980.3h0M1620.9 978.4h0M1623.4 977.9h0M1625.4 982.0h0M1628.4 983.1h0M1628.4 982.4h0M1629.5 980.5h0M1632.7 984.2h0M1632.2 982.0h0M1635.7 985.5h0M1634.1 986.3h0M1639.2 985.8h0M1639.0 985.8h0M1639.3 988.9h0M1645.1 988.0h0M1642.9 989.7h0M1644.1 990.3h0M1647.0 988.0h0M1646.3 990.2h0M1650.0 991.5h0M1652.0 988.6h0M1652.8 989.8h0M1653.9 991.2h0M1654.3 990.2h0M1655.6 990.9h0M1657.6 989.6h0M1660.5 989.2h0M1663.1 989.1h0M1664.4 990.6h0M1663.8 989.6h0M1665.6 989.3h0M1667.9 992.8h0M1669.3 992.3h0M1671.9 987.4h0M1670.3 990.6h0M1672.3 990.6h0M1677.4 989.9h0M1677.6 988.8h0M1679.7 988.6h0M1680.4 988.4h0M1684.2 988.0h0M1685.1 987.1h0M1685.7 986.7h0M1688.1 990.1h0M1690.5 988.2h0M1692.7 988.4h0M1693.9 990.2h0M1695.6 986.4h0M1695.0 992.4h0M1697.9 995.5h0M1699.2 991.7h0M1702.7 994.2h0M1704.7 994.8h0M1703.8 995.9h0M1704.6 994.7h0M1706.4 995.8h0M1709.4 996.1h0M1710.4 996.8h0M1712.5 993.8h0M1712.8 999.3h0M1713.4 1000.5h0M1716.6 1000.8h0M1719.2 999.6h0M1719.6 996.6h0M1721.2 997.5h0M1723.4 997.3h0M1728.4 995.3h0M1727.9 997.0h0M1727.9 999.1h0M1729.9 995.5h0M1732.1 997.0h0M1730.9 997.5h0M1733.8 995.8h0M1737.1 998.1h0M1737.7 1001.8h0M1740.0 997.9h0M1741.3 999.4h0M1739.9 997.6h0M1742.4 1004.2h0M1745.3 1001.0h0M1746.3 1003.8h0M1748.5 1005.6h0M1750.9 1006.1h0M1751.4 1004.7h0M1752.5 1004.4h0M1752.5 1004.4h0M1754.9 1004.9h0M1759.0 1007.2h0M1760.7 1008.9h0M1761.9 1009.9h0M1761.8 1010.3h0M1763.8 1008.9h0M1767.1 1014.0h0M1766.2 1014.1h0M1770.0 1010.6h0M1770.0 1014.2h0M1770.8 1014.6h0M1769.5 1016.8h0M1772.7 1019.6h0M1773.1 1021.7h0M1771.9 1021.4h0M1774.1 1024.7h0M1774.5 1025.5h0M1775.2 1029.7h0M1773.1 1027.8h0M1779.2 1029.8h0M1774.9 1031.2h0M1776.1 1031.3h0M1778.8 1036.7h0M1779.9 1036.4h0M1781.3 1037.0h0M1779.9 1038.0h0M1782.1 1039.1h0M1781.7 1040.4h0M1781.6 1040.8h0M1784.0 1043.3h0M1784.9 1047.6h0M1786.0 1046.7h0M1785.1 1046.4h0M1787.6 1048.1h0M1769.5 1010.2h0M1770.5 1015.5h0M1772.8 1018.7h0M1772.6 1023.4h0M1774.4 1029.4h0M1775.4 1029.5h0M1776.6 1034.8h0M1778.0 1038.8h0M1776.8 1045.5h0M1781.3 1045.1h0M1778.5 1049.1h0M1781.1 1048.9h0M1781.3 1053.9h0M1782.5 1062.3h0M1784.0 1061.5h0M1785.2 1069.5h0M1784.0 1072.8h0M1787.0 1075.5h0M1786.0 1079.1h0M1788.0 1080.8h0M1789.0 1087.1h0M1029.1 787.3h0M1028.5 789.0h0M1032.2 787.4h0M1033.5 789.0h0M1035.8 789.5h0M1036.6 789.8h0M1039.7 789.5h0M1039.2 793.3h0M1040.9 791.2h0M1041.6 790.4h0M1041.4 790.3h0M1044.9 787.6h0M1045.6 792.0h0M1049.3 787.6h0M1052.5 789.0h0M1051.6 790.5h0M1052.3 787.5h0M1054.4 792.1h0M1057.9 787.6h0M1059.8 790.2h0M1060.6 790.3h0M1062.1 788.5h0M1062.2 789.0h0M1064.4 791.2h0M1065.0 792.8h0M1067.3 789.3h0M1070.5 790.9h0M1070.9 788.5h0M1071.7 787.6h0M1075.8 792.0h0M1078.2 791.1h0M1078.0 791.5h0M1080.4 789.9h0M1081.3 793.8h0M1080.5 788.0h0M1082.9 791.5h0M1087.0 789.8h0M1088.0 790.2h0M1089.2 789.5h0M1090.4 790.3h0M1093.4 794.0h0M1091.6 791.2h0M1095.3 792.0h0M1098.1 791.7h0M1099.4 788.8h0M1098.1 793.1h0M1103.1 788.8h0M1104.8 791.5h0M1102.0 791.9h0M1105.3 792.3h0M1107.3 789.2h0M1107.9 790.1h0M1112.5 789.4h0M1110.7 794.0h0M1116.6 791.6h0M1115.5 788.5h0M1115.8 791.4h0M1120.8 788.8h0M1120.9 790.1h0M1122.2 791.3h0M1126.5 789.5h0M1126.7 792.3h0M1127.0 790.3h0M1127.4 792.3h0M1129.9 789.5h0M1132.2 789.2h0M1132.5 790.1h0M1137.0 790.3h0M1137.5 788.2h0M1136.3 793.6h0M1139.7 788.1h0M1141.6 791.6h0M1141.3 789.2h0M1145.2 789.1h0M1147.5 792.2h0M1148.6 790.0h0M1149.7 789.6h0M1151.2 791.2h0M1152.6 792.3h0M1157.5 789.8h0M1156.5 792.1h0M1158.5 790.3h0M1158.8 792.4h0M1161.7 791.6h0M1161.6 791.8h0M1165.1 790.4h0M1166.5 794.3h0M1165.2 791.8h0M1167.6 788.5h0M1170.3 791.7h0M1172.2 788.9h0M1172.1 789.9h0M1175.4 789.4h0M1175.2 793.7h0M1177.6 790.6h0M1179.5 789.9h0M1181.8 790.4h0M1184.1 788.9h0M1183.2 794.1h0M1186.5 792.1h0M1189.5 791.8h0M1189.8 788.3h0M1189.5 792.5h0M1193.8 791.8h0M1192.7 787.4h0M1195.0 789.0h0M1198.0 789.3h0M1201.2 789.9h0M1200.3 792.4h0M1203.0 789.5h0M1205.2 794.1h0M1204.4 790.6h0M1206.1 787.8h0M1209.7 792.2h0M1211.7 791.7h0M1209.9 791.0h0M1213.0 789.1h0M1214.1 792.3h0M1216.7 794.3h0M1219.2 787.9h0M1221.3 793.1h0M1221.9 789.1h0M1225.5 788.9h0M1224.9 787.9h0M1225.2 788.3h0M1229.5 793.1h0M1229.3 788.9h0M1231.4 791.8h0M1231.2 789.2h0M1234.5 792.3h0M1236.3 791.9h0M1236.4 787.0h0M1239.8 789.6h0M1240.9 790.6h0M1243.2 789.9h0M1245.9 791.2h0M1246.5 792.2h0M1248.7 791.9h0M1247.0 790.2h0M1252.8 792.0h0M1252.9 792.0h0M1253.1 790.1h0M1254.7 793.2h0M1257.5 794.2h0M1259.2 794.4h0M1260.8 789.3h0M1263.9 791.9h0M1264.9 791.7h0M1264.7 791.6h0M1265.3 789.3h0M1267.2 790.5h0M1268.3 791.2h0M1271.8 794.7h0M1275.2 791.3h0M1275.7 791.0h0M1276.7 791.3h0M1277.2 791.5h0M1277.7 792.1h0M1280.7 789.6h0M1282.3 792.3h0M1283.5 792.2h0M1286.6 794.0h0M1286.2 791.2h0M1289.7 794.0h0M1291.0 792.7h0M1290.6 790.5h0M1295.9 791.0h0M1298.1 790.3h0M1296.8 788.8h0M1299.5 791.9h0M1302.7 791.8h0M1301.6 789.2h0M1303.4 793.1h0M1306.0 793.6h0M1307.7 791.5h0M1309.0 791.8h0M1308.3 794.4h0M1312.0 789.8h0M1313.6 792.1h0M1315.9 794.0h0M1312.7 792.5h0M1319.7 790.0h0M1317.3 792.1h0M1321.5 792.2h0M1321.4 790.8h0M1324.6 792.9h0M1328.5 792.1h0M1326.8 787.7h0M1330.4 791.4h0M1330.6 790.0h0M1333.2 788.7h0M1334.1 791.9h0M1335.9 793.9h0M1337.0 791.9h0M1339.8 789.1h0M1340.0 791.8h0M1343.1 790.4h0M1344.5 792.4h0M1343.4 789.3h0M1345.0 792.0h0M1348.6 793.0h0M1350.9 790.8h0M1352.8 793.2h0M1353.7 792.6h0M1353.2 792.4h0M1355.1 789.8h0M1357.5 792.1h0M1359.5 791.3h0M1360.0 792.2h0M1361.9 789.5h0M1364.5 794.3h0M1365.5 790.1h0M1369.2 794.8h0M1368.8 791.5h0M1371.0 796.9h0M1372.5 793.6h0M1374.5 788.8h0M1374.3 789.8h0M1377.7 792.1h0M1380.9 791.5h0M1380.8 792.1h0M1382.2 795.9h0M1383.9 794.5h0M1386.7 790.9h0M1387.6 791.3h0M1388.5 792.3h0M1390.0 791.2h0M1392.9 792.8h0M1392.9 797.3h0M1393.9 797.4h0M1395.8 798.8h0M1397.3 795.7h0M1398.6 799.4h0M1395.2 799.5h0M1396.7 801.8h0M1397.6 801.3h0M1400.8 804.5h0M1400.5 805.1h0M1402.4 806.9h0M1403.6 807.6h0M1405.7 806.5h0M1405.1 810.6h0M1406.2 810.7h0M1407.2 813.2h0M1410.3 813.8h0M1409.5 815.9h0M1410.6 813.3h0M1412.3 817.1h0M1412.3 820.1h0M1414.1 819.4h0M1412.4 818.7h0M1416.0 822.7h0M1417.5 824.6h0M1417.4 823.4h0M1417.7 826.6h0M1418.6 829.5h0M1419.4 826.5h0M1421.8 827.8h0M1425.0 830.4h0M1423.9 833.0h0M1424.0 831.7h0M1423.8 837.5h0M1428.2 841.1h0M1426.2 839.6h0M1429.0 841.4h0M1429.5 842.4h0M1432.4 843.3h0M1434.2 843.2h0M1435.5 843.4h0M1436.8 841.1h0M1435.9 845.6h0M1437.1 849.8h0M1439.1 849.4h0M1441.4 847.9h0M1439.6 854.1h0M1442.1 849.2h0M1443.3 851.8h0M1445.8 856.9h0M1444.3 858.4h0M1445.0 859.1h0M1447.7 858.5h0M1446.3 859.5h0M1446.3 860.3h0M1447.8 864.6h0M1449.8 859.6h0M1452.7 865.6h0M1452.7 869.6h0M1455.6 867.1h0M1455.2 863.0h0M1457.9 870.6h0M1458.0 867.6h0M1459.9 868.2h0M1461.3 873.3h0M1464.5 873.5h0M1464.2 875.3h0M1467.0 874.5h0M1465.2 874.7h0M1466.5 875.5h0M1468.7 879.0h0M1470.0 880.0h0M1470.2 882.1h0M1472.6 884.1h0M1474.2 883.7h0M1473.0 888.5h0M1474.5 887.8h0M1474.7 890.2h0M1475.5 888.3h0M1476.7 890.7h0M1478.6 892.4h0M1478.5 894.1h0M1479.6 894.9h0M1481.3 895.1h0M1480.3 897.8h0M1482.4 900.6h0M1483.0 901.4h0M1482.3 901.6h0M1483.6 904.1h0M1485.7 906.5h0M1487.9 906.6h0M1487.2 905.8h0M1489.6 909.1h0M1493.2 909.7h0M1494.4 913.4h0M1492.4 913.2h0M1496.4 914.3h0M1496.5 914.4h0M1497.4 913.5h0M1499.5 917.4h0M1500.7 916.8h0M1502.6 914.8h0M1504.3 917.9h0M1504.6 918.7h0M1506.1 916.9h0M1508.8 918.8h0M1508.8 917.2h0M1511.7 920.6h0M1512.8 920.7h0M1513.2 921.2h0M1517.2 921.1h0M1517.6 921.0h0M1520.2 922.8h0M1522.0 921.6h0M1522.5 922.8h0M1526.4 920.7h0M1527.4 922.2h0M1528.3 919.6h0M1532.1 918.8h0M1532.0 921.6h0M1534.7 921.7h0M1535.0 923.7h0M1537.2 922.0h0M1539.2 923.8h0M1541.2 922.5h0M1541.6 922.9h0M1542.3 924.2h0M1545.5 926.4h0M1546.3 924.9h0M1549.7 924.3h0M1550.1 924.9h0M1550.8 923.2h0M1554.7 925.4h0M1554.9 923.2h0M1556.8 927.5h0M1557.0 924.3h0M1561.3 928.4h0M1563.5 925.3h0M1564.1 925.2h0M1565.6 926.0h0M1566.9 929.2h0M1568.7 926.7h0M1570.1 927.8h0M1571.1 927.9h0M1574.0 930.4h0M1572.5 926.0h0M1575.2 929.7h0M1581.2 928.8h0M1580.1 930.6h0M1578.8 928.6h0M1579.6 929.4h0M1584.4 928.5h0M1587.1 928.6h0M1589.7 929.8h0M1590.5 934.3h0M1591.1 931.7h0M1592.2 932.3h0M1596.0 930.6h0M1597.6 933.2h0M1599.7 930.6h0M1599.6 932.6h0M1599.6 929.8h0M1603.5 931.9h0M1606.8 934.0h0M1606.5 931.9h0M1606.2 931.0h0M1609.7 931.0h0M1611.1 932.5h0M1611.5 930.7h0M1612.1 933.7h0M1614.6 929.0h0M1618.4 931.6h0M1620.2 931.5h0M1623.2 933.4h0M1622.5 932.5h0M1623.7 933.8h0M1627.9 931.8h0M1625.9 933.7h0M1630.0 930.3h0M1629.6 931.2h0M1632.7 933.8h0M1632.4 932.1h0M1635.4 931.5h0M1636.7 935.7h0M1639.5 938.7h0M1637.9 937.5h0M1639.5 937.8h0M1641.3 941.6h0M1640.7 940.6h0M1645.5 943.2h0M1644.1 941.6h0M1645.4 941.3h0M1649.1 945.1h0M1648.2 943.6h0M1650.1 945.7h0M1654.1 946.3h0M1653.7 949.4h0M1655.9 947.8h0M1654.0 951.0h0M1658.8 948.4h0M1659.6 948.1h0M1660.1 947.7h0M1663.3 951.6h0M1664.4 952.5h0M1666.4 952.0h0M1666.2 953.3h0M1670.2 953.9h0M1671.8 952.5h0M1670.7 955.9h0M1672.7 954.8h0M1674.7 954.9h0M1676.1 954.5h0M1675.9 959.1h0M1679.7 953.3h0M1679.9 955.1h0M1681.6 953.4h0M1684.7 961.0h0M1685.3 960.1h0M1687.8 957.4h0M1690.1 957.3h0M1689.5 960.1h0M1693.1 961.5h0M1693.0 960.6h0M1694.8 962.6h0M1697.1 965.5h0M1698.6 963.8h0M1699.1 967.1h0M1701.0 965.0h0M1704.4 968.3h0M1704.5 966.1h0M1704.6 968.7h0M1706.4 969.1h0M1707.5 968.3h0M1710.4 969.0h0M1711.8 970.0h0M1711.7 968.2h0M1714.5 973.3h0M1716.2 969.1h0M1717.3 971.0h0M1721.2 970.3h0M1722.1 971.8h0M1722.7 970.3h0M1724.7 971.0h0M1727.2 969.5h0M1729.6 974.0h0M1730.6 975.6h0M1732.3 970.5h0M1733.4 974.4h0M1734.2 972.1h0M1736.9 975.8h0M1737.2 975.5h0M1738.5 975.8h0M1740.4 979.5h0M1739.9 978.1h0M1745.0 980.1h0M1744.7 981.9h0M1744.7 979.4h0M1745.3 979.9h0M1748.9 984.7h0M1749.4 983.1h0M1751.8 986.2h0M1752.9 982.9h0M1027.4 785.8h0M1029.9 788.6h0M1030.4 792.5h0M1034.4 790.8h0M1034.7 790.3h0M1035.3 790.0h0M1039.9 788.6h0M1038.5 790.3h0M1041.9 791.4h0M1041.3 789.9h0M1043.7 788.0h0M1045.7 789.3h0M1048.3 790.8h0M1047.9 790.2h0M1050.0 789.1h0M1051.5 791.9h0M1053.2 787.3h0M1054.4 791.5h0M1059.4 788.4h0M1058.1 789.6h0M1058.4 790.8h0M1061.6 790.6h0M1065.9 789.7h0M1065.8 791.6h0M1065.7 789.2h0M1069.9 791.4h0M1069.9 788.4h0M1072.3 791.1h0M1075.5 792.7h0M1075.4 790.7h0M1076.2 789.3h0M1078.1 790.7h0M1080.1 792.1h0M1081.3 789.4h0M1083.5 792.9h0M1083.1 791.0h0M1086.4 791.2h0M1087.9 790.2h0M1088.8 793.1h0M1092.6 788.0h0M1089.2 791.1h0M1093.0 789.5h0M1093.5 790.9h0M1096.9 789.5h0M1099.6 794.4h0M1101.9 792.3h0M1101.3 791.5h0M1103.3 792.3h0M1105.6 790.4h0M1107.2 789.2h0M1109.1 792.9h0M1109.4 791.4h0M1109.4 792.0h0M1114.0 788.8h0M1116.6 790.7h0M1114.2 788.2h0M1118.8 790.0h0M1120.7 787.9h0M1120.9 792.1h0M1121.8 791.6h0M1123.8 791.1h0M1126.2 794.2h0M1126.0 791.8h0M1130.5 788.7h0M1130.7 794.4h0M1133.4 785.7h0M1133.6 787.7h0M1135.8 789.4h0M1136.4 789.2h0M1139.0 789.8h0M1139.2 790.2h0M1142.3 789.2h0M1144.7 787.9h0M1145.5 790.0h0M1148.5 789.6h0M1147.5 788.4h0M1152.2 791.7h0M1150.2 790.1h0M1152.0 793.2h0M1155.2 787.3h0M1156.5 792.2h0M1157.9 791.5h0M1159.4 791.1h0M1161.3 789.5h0M1163.1 791.0h0M1164.2 789.6h0M1164.7 791.1h0M1168.5 786.8h0M1168.5 793.0h0M1171.8 789.6h0M1173.9 789.1h0M1173.0 794.0h0M1175.0 790.4h0M1175.2 789.1h0M1177.4 790.6h0M1178.2 792.6h0M1181.5 789.8h0M1182.8 792.1h0M1186.9 790.2h0M1188.6 793.5h0M1189.9 791.4h0M1188.2 792.0h0M1191.1 791.2h0M1191.0 790.4h0M1195.0 789.3h0M1196.7 793.7h0M1198.2 789.8h0M1202.4 787.4h0M1200.1 791.6h0M1202.1 787.1h0M1204.7 792.3h0M1205.1 793.4h0M1208.2 792.9h0M1207.4 791.0h0M1212.7 794.3h0M1213.9 791.0h0M1214.2 790.0h0M1216.9 789.9h0M1217.4 787.6h0M1217.1 794.0h0M1220.5 791.4h0M1219.4 791.0h0M1226.0 788.6h0M1222.4 790.8h0M1226.2 790.7h0M1227.0 788.8h0M1228.6 792.1h0M1231.6 792.5h0M1232.0 792.1h0M1234.3 791.3h0M1237.5 791.2h0M1237.6 788.4h0M1239.7 792.4h0M1240.5 791.0h0M1240.8 788.9h0M1244.9 793.3h0M1245.7 788.4h0M1247.2 788.6h0M1249.0 794.4h0M1251.2 790.9h0M1253.7 790.6h0M1254.5 791.5h0M1256.2 788.8h0M1258.1 792.7h0M1256.2 786.7h0M1259.4 793.7h0M1262.1 792.4h0M1264.4 792.7h0M1264.6 790.3h0M1267.4 792.3h0M1269.2 791.9h0M1269.5 793.1h0M1272.3 793.1h0M1270.3 793.0h0M1272.1 791.7h0M1275.8 791.5h0M1277.6 790.8h0M1280.0 791.9h0M1280.4 787.1h0M1282.0 792.3h0M1283.6 792.1h0M1285.7 789.8h0M1289.1 794.2h0M1289.2 791.3h0M1292.1 789.2h0M1291.5 793.3h0M1295.2 790.6h0M1294.9 792.0h0M1295.7 790.6h0M1298.7 787.3h0M1301.3 792.7h0M1303.5 789.1h0M1302.3 790.1h0M1303.8 794.9h0M1305.8 791.0h0M1308.8 792.3h0M1311.9 789.7h0M1312.9 791.8h0M1312.0 791.8h0M1313.4 794.3h0M1315.8 793.2h0M1319.8 790.5h0M1318.8 791.8h0M1320.2 793.1h0M1323.2 790.3h0M1323.8 792.8h0M1324.5 794.5h0M1326.9 791.3h0M1328.3 794.4h0M1332.0 793.8h0M1333.4 791.8h0M1336.3 792.8h0M1336.4 792.6h0M1338.3 792.1h0M1338.9 789.0h0M1343.1 789.5h0M1339.7 790.5h0M1346.2 793.8h0M1344.8 792.2h0M1347.1 788.4h0M1348.3 792.2h0M1351.7 789.7h0M1349.2 789.1h0M1353.9 791.9h0M1355.3 792.0h0M1356.3 789.5h0M1358.9 792.4h0M1360.6 793.9h0M1360.0 787.8h0M1361.0 795.4h0M1363.6 792.5h0M1366.3 793.1h0M1371.8 791.0h0M1369.3 790.8h0M1371.4 792.7h0M1371.6 794.1h0M1375.7 792.6h0M1375.8 791.5h0M1375.6 793.0h0M1378.0 791.0h0M1382.0 790.3h0M1381.7 793.4h0M1386.2 790.7h0M1386.9 790.8h0M1387.6 792.8h0M1387.4 793.7h0M1392.5 792.0h0M1392.3 790.0h0M1395.7 792.1h0M1393.7 793.3h0M1395.0 790.8h0M1395.8 794.3h0M1402.7 790.9h0M1400.2 792.3h0M1401.3 795.5h0M1404.8 794.1h0M1404.5 794.1h0M1406.8 798.3h0M1405.2 802.3h0M1406.9 803.3h0M1409.3 805.1h0M1408.0 803.7h0M1410.4 804.5h0M1412.8 804.9h0M1413.2 809.7h0M1410.7 807.1h0M1412.9 809.1h0M1415.5 811.0h0M1416.1 811.8h0M1416.9 814.7h0M1418.9 813.8h0M1418.9 815.1h0M1419.8 815.3h0M1422.1 820.1h0M1421.9 819.0h0M1422.6 820.2h0M1422.4 825.3h0M1429.3 821.6h0M1425.1 825.9h0M1428.3 823.4h0M1426.3 828.2h0M1427.3 830.9h0M1430.2 829.8h0M1431.9 829.9h0M1432.8 831.5h0M1435.3 833.2h0M1434.6 833.8h0M1434.8 834.9h0M1436.4 840.6h0M1438.5 839.2h0M1440.1 841.9h0M1439.1 841.3h0M1438.4 843.4h0M1440.2 841.6h0M1439.9 849.0h0M1442.5 847.9h0M1443.3 847.6h0M1444.5 851.6h0M1444.4 852.0h0M1446.9 851.7h0M1446.7 852.6h0M1448.0 854.6h0M1449.5 855.3h0M1451.0 857.5h0M1449.3 857.5h0M1452.3 858.7h0M1455.0 863.4h0M1454.7 859.8h0M1455.3 862.1h0M1454.4 865.1h0M1460.5 864.6h0M1460.1 868.7h0M1459.2 867.0h0M1462.0 869.5h0M1461.6 870.1h0M1464.1 872.4h0M1463.5 870.9h0M1466.1 872.4h0M1468.9 872.9h0M1472.9 873.2h0M1472.2 876.5h0M1474.0 874.9h0M1473.4 875.2h0M1476.8 876.2h0M1478.4 877.5h0M1478.4 875.6h0M1482.9 876.9h0M1481.0 881.4h0M1483.6 877.3h0M1487.4 877.5h0M1487.0 881.8h0M1487.6 885.9h0M1489.3 887.8h0M1490.0 884.9h0M1489.6 886.0h0M1490.4 888.0h0M1493.3 886.8h0M1492.6 886.4h0M1496.8 890.9h0M1496.3 891.9h0M1498.9 893.5h0M1500.0 893.7h0M1500.0 892.7h0M1499.1 893.5h0M1500.7 888.8h0M1504.5 889.4h0M1505.9 891.0h0M1508.3 889.3h0M1507.0 889.2h0M1507.4 884.4h0M1510.8 883.0h0M1510.7 881.6h0M1513.6 876.8h0M1514.9 883.7h0M1514.7 883.7h0M1515.0 885.5h0M1521.2 882.9h0M1520.6 885.3h0M1519.8 885.4h0M1521.4 885.0h0M1521.4 890.8h0M1524.7 889.2h0M1526.9 889.3h0M1526.4 887.1h0M1530.8 890.7h0M1529.6 889.3h0M1530.7 892.6h0M1533.4 892.8h0M1533.2 894.6h0M1535.0 894.0h0M1536.4 895.4h0M1538.1 898.8h0M1537.2 900.0h0M1538.9 899.2h0M1538.5 899.0h0M1539.0 903.8h0M1542.6 903.5h0M1542.2 906.6h0M1543.7 908.2h0M1545.1 910.1h0M1543.5 910.9h0M1542.4 911.3h0M1546.0 914.0h0M1547.3 914.7h0M1550.9 912.1h0M1550.3 914.3h0M1553.1 914.3h0M1555.2 912.4h0M1556.7 916.6h0M1558.8 915.6h0M1558.8 915.9h0M1560.6 912.8h0M1561.6 915.7h0M1563.4 914.4h0M1565.3 915.7h0M1567.3 916.7h0M1569.1 918.8h0M1570.7 918.2h0M1570.7 912.9h0M1573.3 919.4h0M1575.0 917.6h0M1575.5 920.5h0M1578.0 919.8h0M1581.6 920.7h0M1584.6 919.9h0M1584.6 921.7h0M1584.3 921.0h0M1586.1 919.5h0M1588.7 920.3h0M1592.0 920.7h0M1590.9 922.6h0M1592.6 922.9h0M1594.0 920.8h0M1593.5 921.5h0M1599.8 924.8h0M1599.7 923.7h0M1600.9 925.4h0M1601.0 923.9h0M1603.2 927.8h0M1604.6 928.1h0M1606.9 931.2h0M1609.0 927.0h0M1612.3 928.8h0M1613.4 925.9h0M1615.2 931.0h0M1615.3 927.8h0M1615.7 930.7h0M1619.0 929.2h0M1618.9 932.1h0M1623.1 929.4h0M1625.5 928.0h0M1626.5 928.1h0M1628.8 929.5h0M1630.3 929.4h0M1631.0 932.2h0M1631.1 930.5h0M1632.9 932.0h0M1634.9 930.1h0M1637.1 932.8h0M1637.8 931.0h0M1640.2 929.5h0M1641.2 929.7h0M1644.0 926.8h0M1645.6 926.9h0M1647.0 932.2h0M1647.4 927.7h0M1649.8 929.0h0M1651.1 923.7h0M1651.4 926.5h0M1655.2 927.5h0M1655.8 926.3h0M1656.8 926.8h0M1659.6 923.0h0M1661.4 926.6h0M1661.8 921.0h0M1663.2 920.6h0M1665.9 922.6h0M1667.5 922.1h0M1670.8 921.1h0M1669.5 917.4h0M1673.0 920.0h0M1674.0 921.6h0M1676.6 918.0h0M1676.5 920.6h0M1679.2 922.2h0M1680.4 916.5h0M1683.9 917.7h0M1682.9 921.7h0M1684.3 925.8h0M1687.4 923.0h0M1688.1 926.4h0M1690.8 921.9h0M1693.2 920.8h0M1692.5 924.7h0M1694.9 923.1h0M1698.1 927.7h0M1696.6 926.4h0M1698.5 925.6h0M1702.0 927.0h0M1702.2 927.5h0M1702.5 929.9h0M1704.5 930.6h0M1706.4 928.1h0M1710.2 929.8h0M1709.2 929.0h0M1712.2 933.7h0M1713.7 930.3h0M1713.3 930.1h0M1716.1 931.8h0M1717.0 933.8h0M1718.3 930.6h0M1721.6 932.8h0M1722.1 933.8h0M1722.5 935.2h0M1728.4 935.9h0M1727.5 936.1h0M1729.1 935.3h0M1730.4 933.5h0M1732.8 930.4h0M1733.6 936.5h0M1731.9 934.5h0M1738.1 934.6h0M1738.8 936.6h0M1740.6 931.2h0M1740.7 934.1h0M1743.6 934.0h0M1744.9 937.8h0M1743.0 937.5h0M1749.2 937.1h0M1749.6 936.7h0M1751.6 937.5h0M1751.8 939.0h0M1753.2 938.1h0M1755.3 936.8h0M1758.0 939.1h0M1757.4 939.6h0M1758.6 942.7h0M1762.4 944.2h0M1762.7 942.6h0M1763.7 940.4h0M1766.3 943.1h0M1769.0 942.5h0M1770.8 945.1h0M1770.0 943.7h0M1770.6 948.4h0M1771.7 948.4h0M1774.2 948.0h0M1773.2 950.4h0M1773.5 949.2h0M1774.0 953.3h0M1776.1 957.2h0M1774.4 956.5h0M1775.9 959.1h0M1778.8 958.8h0M1780.4 959.4h0M1778.7 959.8h0M1779.2 963.2h0M1781.3 966.7h0M1780.7 964.9h0M1781.1 967.0h0M1781.4 968.7h0M1781.5 970.8h0M1782.4 972.2h0M1781.8 974.3h0M1784.7 976.8h0M1783.8 975.3h0M1783.4 976.9h0M1784.7 979.9h0M1783.9 983.1h0M1784.6 982.5h0M1786.0 986.7h0M1789.5 986.4h0M1787.5 988.0h0M1788.0 990.0h0M1791.6 990.2h0M1789.0 992.3h0M1790.0 994.5h0M1328.9 790.4h0M1351.0 790.1h0M1191.2 791.6h0M1224.1 792.9h0M1341.2 791.4h0M1155.3 794.5h0M1044.2 790.4h0M1060.6 790.7h0M1256.6 790.9h0M1138.9 790.9h0M1134.0 794.2h0M1343.9 792.3h0M1386.4 793.6h0M1134.7 791.4h0M1363.9 791.3h0M1115.8 793.3h0M1067.5 792.5h0M1252.4 791.3h0M1341.0 792.1h0M1199.7 792.7h0M1314.1 791.4h0M1374.5 790.4h0M1134.8 790.1h0M1123.0 794.1h0M1281.7 791.2h0M1112.1 791.0h0M1373.7 791.8h0M1213.0 791.9h0M1044.4 790.1h0M1346.0 793.6h0M1161.7 790.5h0M1294.9 792.0h0M1268.6 792.2h0M1089.7 791.5h0M1361.1 792.6h0M1314.4 790.5h0M1105.2 790.4h0M1323.4 792.0h0M1068.5 790.5h0M1206.3 793.1h0M1168.8 791.4h0M1190.3 790.7h0M1035.7 790.5h0M1329.9 791.6h0M1231.0 792.5h0M1079.5 791.8h0M1310.9 791.1h0M1314.2 794.2h0M1275.7 790.9h0M1274.0 792.2h0M1373.2 790.4h0M1181.2 790.9h0M1215.9 790.9h0M1342.6 791.3h0M1172.7 790.8h0M1240.0 791.1h0M1102.4 792.7h0M1191.1 790.4h0M1213.8 790.2h0M1365.1 790.3h0" stroke="#322b4e" stroke-width="5.4" stroke-linecap="round" fill="none"/>
<path d="M1124.0 836.4h0M1299.0 804.4h0M1398.7 815.6h0M1137.7 826.2h0M1205.4 799.3h0M1333.7 803.7h0M1289.9 802.1h0M1426.0 802.7h0M1147.2 803.0h0M1070.7 802.0h0M1171.7 809.0h0M1402.2 804.1h0M1135.5 807.1h0M1081.0 839.4h0M1500.0 812.6h0M1387.3 820.8h0M1215.2 799.8h0M1477.4 812.4h0M1236.3 823.5h0M1254.7 808.4h0M1450.7 813.1h0M1294.2 813.2h0M1145.7 839.5h0M1067.7 846.1h0M1491.7 824.1h0M1328.3 810.3h0M1091.8 835.1h0M1373.8 814.1h0M1340.0 802.0h0M1238.4 814.9h0M1188.9 822.7h0M1165.4 805.9h0M1287.6 802.3h0M1375.1 821.3h0M1041.9 806.4h0M1114.8 818.6h0M1225.8 813.4h0M1171.7 848.0h0M1235.5 829.0h0M1181.9 832.1h0M1215.6 805.5h0M1081.7 814.9h0M1442.5 808.3h0M1390.1 804.5h0M1275.1 824.4h0M1453.6 811.2h0M1226.5 810.6h0M1462.2 812.1h0M1365.3 821.3h0M1081.5 834.4h0M1039.1 794.2h0M1253.4 802.4h0M1135.0 796.0h0M1121.8 797.5h0M1417.6 805.7h0M1143.7 794.8h0M1380.3 821.3h0M1222.7 827.1h0M1077.4 832.3h0M1307.4 805.8h0M1264.5 809.3h0M1162.9 805.5h0M1159.7 796.9h0M1408.2 805.6h0M1084.2 818.9h0M1369.6 809.0h0M1451.3 820.3h0M1451.3 838.3h0M1151.4 822.4h0M1126.3 868.6h0M1412.2 803.4h0M1437.5 805.2h0M1320.9 810.1h0M1366.8 814.6h0M1079.3 829.1h0M1354.4 804.6h0M1483.2 814.3h0M1206.8 824.1h0M1336.9 812.7h0M1273.3 824.8h0M1485.4 831.8h0M1249.8 804.2h0M1380.6 821.2h0M1423.4 805.7h0M1401.7 807.1h0M1203.9 829.4h0M1428.7 804.1h0M1103.5 801.1h0M1188.9 800.9h0M1368.4 819.2h0M1185.3 806.2h0M1156.3 794.7h0M1235.6 799.5h0M1436.6 802.1h0M1483.3 810.4h0M1041.5 827.8h0M1304.7 805.1h0M1165.3 849.5h0M1497.0 813.0h0M1430.3 814.0h0M1412.1 811.3h0M1413.7 811.0h0M1155.5 800.5h0M1364.3 817.6h0M1326.5 822.6h0M1413.5 807.0h0M1467.9 803.9h0M1187.3 836.7h0M1334.8 822.8h0M1397.2 810.0h0M1388.6 803.9h0M1322.5 805.3h0M1352.7 803.6h0M1094.1 808.1h0M1478.1 836.1h0M1404.3 804.8h0M1488.7 808.6h0M1243.6 810.8h0M1224.5 835.1h0M1431.1 811.3h0M1142.2 816.0h0M1216.5 813.4h0M1182.5 841.3h0M1125.6 793.2h0M1074.3 812.7h0M1424.8 820.0h0M1425.0 811.4h0M1035.9 800.1h0M1323.0 812.1h0M1207.3 810.0h0M1078.2 840.7h0M1312.3 813.7h0M1441.1 832.4h0M1051.6 826.9h0M1160.5 856.4h0M1452.5 811.4h0M1208.8 824.8h0M1321.0 812.2h0M1468.2 819.8h0M1297.2 826.2h0M1247.1 818.2h0M1487.2 817.2h0M1329.4 816.3h0M1477.0 809.7h0M1443.6 815.5h0M1044.6 834.9h0M1142.4 801.8h0M1362.6 813.3h0M1183.6 838.7h0M1397.8 822.8h0M1273.6 807.0h0M1409.2 811.6h0M1395.4 822.2h0M1157.8 842.2h0M1107.0 812.2h0M1288.6 826.6h0M1185.5 800.1h0M1173.3 819.3h0M1087.5 819.3h0M1097.6 844.4h0M1132.3 869.0h0M1138.1 841.2h0M1419.9 815.6h0M1394.9 818.1h0M1494.8 833.9h0M1464.7 814.3h0M1353.0 812.5h0M1160.1 817.9h0M1093.9 849.7h0M1144.4 827.0h0M1087.5 838.9h0M1174.6 805.0h0M1394.2 817.7h0M1105.3 809.1h0M1445.3 802.8h0M1385.4 814.5h0M1069.4 829.3h0M1442.3 808.5h0M1044.7 799.9h0M1402.3 816.8h0M1281.0 802.4h0M1211.8 805.6h0M1378.9 807.3h0M1163.3 823.1h0M1256.9 824.2h0M1473.4 813.6h0M1437.1 805.2h0M1078.7 838.2h0M1103.9 858.3h0M1257.1 821.4h0M1451.1 803.6h0M1330.5 822.5h0M1341.6 811.3h0M1165.8 813.7h0M1460.6 840.6h0M1255.6 827.5h0M1464.8 818.6h0M1225.1 832.6h0M1430.2 807.3h0M1421.1 815.2h0M1251.1 803.3h0M1407.6 803.6h0M1491.6 816.5h0M1225.7 827.7h0M1476.1 810.3h0M1080.7 819.7h0M1305.3 825.2h0M1225.2 809.8h0M1111.1 874.4h0M1286.2 804.9h0M1178.9 812.4h0M1492.2 812.6h0M1055.3 806.6h0M1399.3 805.9h0M1398.3 811.5h0M1281.5 801.4h0M1345.1 808.2h0M1463.8 806.8h0M1061.6 828.0h0M1135.9 816.2h0M1046.1 823.1h0M1161.8 802.6h0M1117.8 841.1h0M1244.0 807.0h0M1410.8 813.5h0M1215.4 802.8h0M1489.6 819.7h0M1331.5 807.2h0M1138.9 793.8h0M1239.9 821.1h0M1369.3 805.5h0M1362.4 816.2h0M1195.2 817.7h0M1414.9 824.2h0M1495.6 836.3h0M1044.1 807.8h0M1393.4 805.4h0M1400.1 816.2h0M1261.0 819.2h0M1132.9 793.3h0M1152.2 831.8h0M1330.4 817.1h0M1345.7 811.8h0M1312.2 804.2h0M1176.7 798.3h0M1194.5 817.9h0M1111.6 796.4h0M1384.6 803.6h0M1148.8 803.9h0M1447.3 825.5h0M1384.0 812.1h0M1150.3 861.3h0M1036.2 803.2h0M1123.7 846.3h0M1041.3 803.1h0M1036.4 800.7h0M1130.1 809.4h0M1086.4 802.7h0M1303.0 806.4h0M1278.2 817.6h0M1192.1 846.6h0M1295.2 806.9h0M1093.3 827.1h0M1076.6 890.0h0M1045.9 799.8h0M1282.8 807.2h0M1265.2 803.4h0M1325.7 824.4h0M1118.6 793.7h0M1159.4 799.1h0M1279.3 819.7h0M1075.5 845.3h0M1089.7 839.0h0M1251.9 828.3h0M1217.8 836.3h0M1486.1 810.2h0M1287.6 826.9h0M1430.6 814.8h0M1313.6 824.2h0M1078.3 834.7h0M1179.8 810.7h0M1384.4 820.9h0M1211.5 812.4h0M1413.4 811.1h0M1041.9 792.6h0M1435.6 808.1h0M1489.9 849.3h0M1068.9 834.1h0M1316.0 823.0h0M1237.0 822.8h0M1159.9 841.0h0M1157.7 798.5h0M1499.6 816.4h0M1099.1 831.9h0M1305.2 808.9h0M1476.8 811.7h0M1056.9 858.3h0M1480.2 820.9h0M1049.9 815.0h0M1261.9 811.4h0M1408.6 818.6h0M1228.2 804.2h0M1247.0 813.3h0M1450.1 810.0h0M1496.8 811.0h0M1185.0 799.7h0M1227.4 828.6h0M1258.6 816.9h0M1374.5 806.8h0M1374.1 812.0h0M1311.0 803.6h0M1192.4 829.1h0M1491.6 812.4h0M1080.3 836.6h0M1335.9 811.4h0M1295.4 829.9h0M1339.6 810.8h0M1387.2 804.1h0M1231.0 810.0h0M1294.8 808.3h0M1231.5 829.9h0M1072.6 834.0h0M1216.5 816.7h0M1203.2 798.3h0M1442.4 824.9h0M1249.6 800.7h0M1451.3 805.3h0M1150.3 834.2h0M1251.7 804.1h0M1406.8 818.3h0M1084.0 856.7h0M1367.6 804.1h0M1058.6 792.9h0M1411.8 809.8h0M1450.8 832.1h0M1077.1 812.8h0M1147.8 859.4h0M1087.5 808.3h0M1300.4 809.6h0M1413.9 814.8h0M1186.1 850.0h0M1184.6 799.3h0M1223.7 817.8h0M1191.7 800.1h0M1294.5 806.3h0M1321.9 827.8h0M1150.2 804.1h0M1399.2 806.3h0M1237.0 830.7h0M1120.8 801.2h0M1186.8 827.5h0M1220.6 809.2h0M1395.4 823.5h0M1464.8 821.1h0M1278.0 807.9h0M1158.2 838.8h0M1199.7 812.6h0M1278.6 803.3h0M1188.7 816.6h0M1031.1 808.7h0M1062.5 799.6h0M1418.4 806.9h0M1147.3 804.4h0M1193.5 828.2h0M1359.5 814.5h0M1083.6 797.9h0M1151.8 835.6h0M1306.5 805.0h0M1493.4 816.6h0M1051.7 863.2h0M1430.1 812.7h0M1198.2 806.2h0M1077.6 841.1h0M1491.9 826.0h0M1163.2 797.1h0M1494.8 826.0h0M1195.2 811.7h0M1469.3 804.8h0M1327.1 811.3h0M1114.8 796.3h0M1112.2 819.7h0M1254.8 817.8h0M1452.0 802.7h0M1422.2 806.6h0M1097.5 841.1h0M1090.8 846.2h0M1355.3 815.4h0M1404.8 804.6h0M1341.0 803.5h0M1107.7 796.8h0M1211.8 815.5h0M1220.6 800.3h0M1185.7 849.3h0M1464.6 811.2h0M1401.7 804.1h0M1150.5 839.3h0M1182.0 816.7h0M1077.6 840.3h0M1405.8 807.1h0M1098.7 834.1h0M1205.4 801.6h0M1422.6 816.5h0M1190.3 815.2h0M1381.9 807.8h0M1357.3 819.9h0M1388.8 808.0h0M1159.2 833.3h0M1174.0 801.6h0M1485.1 825.8h0M1279.7 812.2h0M1223.6 800.4h0M1464.2 804.2h0M1347.4 818.7h0M1356.9 823.9h0M1035.0 831.0h0M1102.1 840.1h0M1103.8 850.6h0M1382.8 810.3h0M1161.1 855.7h0M1351.2 816.6h0M1259.7 807.3h0M1446.1 808.7h0M1295.6 811.9h0M1483.2 827.4h0M1367.1 819.3h0M1100.2 835.8h0M1418.6 820.9h0M1336.2 803.2h0M1066.0 806.0h0M1153.2 796.2h0M1459.0 811.4h0M1239.8 814.9h0M1193.7 847.6h0M1373.0 803.2h0M1088.4 796.2h0M1229.4 836.2h0M1482.5 809.5h0M1041.0 791.8h0M1279.3 816.0h0M1294.8 806.2h0M1376.8 815.7h0M1252.4 805.3h0M1048.9 823.0h0M1117.8 846.0h0M1432.9 809.3h0M1112.9 835.9h0M1494.7 810.0h0M1196.8 818.7h0M1083.0 807.8h0M1458.8 806.6h0M1113.0 873.4h0M1419.7 810.9h0M1376.0 826.2h0M1079.0 857.3h0M1282.5 827.7h0M1042.1 861.1h0M1294.6 813.2h0M1470.8 842.4h0M1151.2 794.4h0M1226.5 833.7h0M1203.3 804.1h0M1364.4 803.3h0M1464.3 814.6h0M1194.4 799.1h0M1500.9 825.0h0M1405.0 826.0h0M1281.4 811.6h0M1493.2 826.6h0M1427.9 810.9h0M1430.6 817.2h0M1041.6 818.9h0M1099.1 874.5h0M1117.4 824.6h0M1232.5 800.7h0M1366.6 805.9h0M1411.2 818.6h0M1112.4 837.2h0M1312.7 801.4h0M1233.7 815.0h0M1492.9 810.2h0M1357.8 805.2h0M1237.3 831.4h0M1179.1 800.6h0M1219.9 806.8h0M1405.9 803.8h0M1326.0 822.5h0M1079.6 830.7h0M1204.8 818.7h0M1387.9 810.2h0M1353.7 809.2h0M1117.8 821.7h0M1453.1 831.5h0M1185.1 821.1h0M1378.5 815.1h0M1501.6 844.9h0M1236.1 824.9h0M1126.0 852.5h0M1060.8 815.5h0M1381.6 820.9h0M1346.1 802.6h0M1047.3 791.1h0M1278.3 803.8h0M1434.1 819.4h0M1198.9 816.1h0M1154.1 794.4h0M1147.8 840.3h0M1266.3 805.8h0M1317.7 802.7h0M1397.8 811.2h0M1228.8 831.3h0M1463.8 837.4h0M1360.5 802.5h0M1422.2 812.6h0M1177.6 837.8h0M1281.1 807.0h0M1194.7 837.9h0M1456.2 802.6h0M1227.1 820.8h0M1412.0 816.5h0M1087.0 794.7h0M1427.6 810.1h0M1140.7 797.2h0M1183.4 840.3h0M1225.9 824.0h0M1304.2 830.3h0M1467.6 823.7h0M1384.3 807.3h0M1191.2 840.3h0M1235.3 830.1h0M1264.2 811.6h0M1392.1 809.0h0M1381.4 819.9h0M1176.0 827.5h0M1300.6 813.0h0M1066.3 805.3h0M1088.2 835.1h0M1375.2 805.1h0M1370.8 813.5h0M1137.3 810.7h0M1157.0 837.7h0M1328.4 825.7h0M1154.7 795.7h0M1172.7 814.3h0M1459.3 813.0h0M1306.2 807.8h0M1030.3 884.6h0M1089.8 801.2h0M1340.6 802.0h0M1263.2 804.8h0M1210.4 798.4h0M1152.7 806.5h0M1225.6 806.7h0M1039.0 829.2h0M1262.6 804.2h0M1455.1 804.9h0M1417.0 803.8h0M1266.5 802.0h0M1180.7 823.6h0M1326.6 808.1h0M1062.5 842.1h0M1438.2 821.3h0M1393.1 807.8h0M1124.5 840.1h0M1423.0 819.3h0M1152.8 826.1h0M1140.3 796.5h0M1406.0 804.3h0M1161.2 823.2h0M1277.6 818.4h0M1129.0 799.1h0M1144.1 795.8h0M1195.3 821.5h0M1071.4 824.2h0M1280.0 801.8h0M1297.1 801.9h0M1394.8 812.6h0M1280.0 824.6h0M1216.7 814.7h0M1426.3 829.6h0M1284.2 815.0h0M1482.8 843.9h0M1132.2 813.5h0M1139.1 801.6h0M1365.0 809.3h0M1363.6 823.2h0M1501.5 818.9h0M1345.9 822.5h0M1241.0 799.9h0M1251.9 805.9h0M1079.7 793.6h0M1111.0 808.9h0M1266.0 808.0h0M1093.0 823.5h0M1487.9 814.2h0M1180.8 814.6h0M1405.7 804.2h0M1127.3 811.4h0M1211.9 838.5h0M1301.7 829.7h0M1310.7 807.1h0M1047.0 874.4h0M1304.8 818.0h0M1206.4 805.7h0M1463.4 806.3h0M1451.9 805.8h0M1259.8 827.3h0M1129.3 795.2h0M1225.6 820.5h0M1404.4 819.1h0M1198.5 813.1h0M1450.7 805.5h0M1101.1 793.4h0M1107.4 824.3h0M1437.4 809.0h0M1251.2 804.8h0M1465.1 810.7h0M1317.7 823.9h0M1310.7 821.6h0M1107.7 797.3h0M1271.7 810.0h0M1251.8 817.5h0M1283.7 820.9h0M1473.2 845.5h0M1062.5 813.8h0M1151.1 841.2h0M1095.4 856.6h0M1449.5 803.3h0M1245.4 820.4h0M1117.8 854.5h0M1035.5 792.8h0M1384.3 820.7h0M1135.4 801.9h0M1052.5 792.9h0M1213.4 837.5h0M1368.3 811.2h0M1284.6 813.3h0M1240.5 822.8h0M1356.3 803.3h0M1054.7 825.5h0M1487.1 847.1h0M1088.7 838.7h0M1253.1 829.4h0M1085.9 796.3h0M1318.1 821.0h0M1034.8 844.6h0M1153.7 838.3h0M1082.6 849.1h0M1295.4 800.9h0M1316.3 818.5h0M1274.1 804.2h0M1338.3 803.0h0M1148.4 818.8h0M1198.4 843.1h0M1142.6 839.5h0M1203.9 817.2h0M1496.0 813.8h0M1304.7 810.4h0M1366.5 811.0h0M1178.3 831.9h0M1250.5 805.4h0M1150.8 817.8h0M1135.4 817.0h0M1197.8 830.0h0M1455.8 825.9h0M1063.6 791.6h0M1434.2 806.6h0M1238.4 802.3h0M1202.3 822.0h0M1306.3 804.5h0M1151.1 824.1h0M1300.3 829.3h0M1463.5 810.8h0M1162.8 841.3h0M1260.2 807.1h0M1123.4 818.5h0M1254.5 830.1h0M1071.2 832.3h0M1311.7 811.1h0M1046.9 838.1h0M1314.1 802.9h0M1457.0 804.3h0M1363.5 826.7h0M1334.6 802.7h0M1248.8 806.7h0M1097.9 834.9h0M1033.5 816.3h0M1480.3 825.0h0M1079.6 798.7h0M1186.7 813.0h0M1051.8 825.6h0M1457.0 803.2h0M1440.1 818.5h0M1262.2 817.0h0M1111.8 872.6h0M1455.9 806.9h0M1342.6 810.0h0M1160.1 827.9h0M1137.8 815.9h0M1340.6 806.0h0M1488.6 826.5h0M1174.3 814.4h0M1440.4 802.4h0M1362.0 810.5h0M1343.8 804.3h0M1358.3 806.9h0M1431.9 809.8h0M1365.1 808.4h0M1290.6 807.3h0M1048.6 891.0h0M1338.6 820.3h0M1163.6 823.8h0M1315.5 805.6h0M1423.8 815.2h0M1426.4 808.1h0M1200.7 831.5h0M1353.6 812.0h0M1445.3 807.0h0M1354.0 810.9h0M1152.1 825.9h0M1190.9 848.0h0M1488.0 818.5h0M1079.2 793.7h0M1266.8 830.2h0M1201.7 834.1h0M1054.9 841.9h0M1062.5 880.9h0M1213.6 817.7h0M1278.7 823.0h0M1184.1 828.8h0M1335.7 802.5h0M1065.8 808.5h0M1253.1 827.7h0M1329.8 812.5h0M1378.7 816.8h0M1487.2 826.4h0M1477.1 814.8h0M1419.1 812.7h0M1345.7 807.4h0M1183.6 829.1h0M1167.2 845.3h0M1059.1 793.3h0M1478.4 811.6h0M1433.5 812.1h0M1237.6 828.0h0M1160.9 814.4h0M1096.6 819.9h0M1407.0 803.3h0M1471.3 820.0h0M1051.3 795.7h0M1152.9 831.2h0M1235.4 808.8h0M1275.8 824.9h0M1119.9 821.4h0M1195.8 798.3h0M1349.4 822.0h0M1171.7 806.5h0M1281.8 815.9h0M1224.3 805.8h0M1245.5 818.1h0M1338.0 802.7h0M1083.0 798.9h0M1116.6 808.3h0M1458.6 805.6h0M1116.3 831.2h0M1303.0 819.9h0M1348.9 813.5h0M1339.9 802.8h0M1202.1 840.5h0M1331.6 818.2h0M1437.9 807.0h0M1272.1 803.9h0M1090.7 819.7h0M1481.3 845.5h0M1475.8 804.6h0M1091.2 889.1h0M1320.7 809.5h0M1230.5 813.9h0M1159.7 837.6h0M1301.3 806.1h0M1302.2 820.6h0M1128.7 821.0h0M1183.7 814.2h0M1276.9 803.8h0M1117.5 840.1h0M1139.6 794.2h0M1068.8 817.4h0M1083.2 852.8h0M1214.6 810.3h0M1268.5 822.7h0M1303.6 805.9h0M1118.3 877.5h0M1208.6 815.8h0M1124.5 834.0h0M1106.8 792.6h0M1040.3 823.8h0M1319.2 828.7h0M1276.4 825.1h0M1260.7 800.6h0M1424.2 804.9h0M1221.7 815.8h0M1133.4 799.4h0M1355.6 816.0h0M1478.6 818.8h0M1217.5 826.3h0M1390.4 806.2h0M1458.5 840.5h0M1189.6 823.1h0M1426.4 808.9h0M1216.5 819.2h0M1284.7 801.0h0M1036.3 793.0h0M1427.5 817.9h0M1136.2 833.5h0M1349.8 813.2h0M1291.0 829.0h0M1284.7 808.8h0M1355.7 815.5h0M1468.3 811.5h0M1196.8 799.6h0M1284.5 821.9h0M1116.5 840.6h0M1256.5 803.1h0M1188.4 825.6h0M1241.8 823.9h0M1215.0 803.8h0M1258.0 807.3h0M1342.5 801.9h0M1484.2 817.8h0M1482.6 806.8h0M1127.0 842.1h0M1274.1 805.3h0M1271.2 806.0h0M1457.0 805.4h0M1312.1 811.6h0M1335.8 812.2h0M1176.1 821.0h0M1459.3 804.7h0M1117.6 840.7h0M1059.5 803.4h0M1250.6 812.7h0M1381.3 806.4h0M1322.0 810.4h0M1280.4 803.2h0M1425.7 806.4h0M1430.8 825.2h0M1479.4 826.8h0M1124.9 835.9h0M1106.2 792.4h0M1088.5 794.4h0M1252.4 818.2h0M1262.6 830.5h0M1110.8 883.3h0M1296.7 803.4h0M1181.5 802.0h0M1319.9 818.3h0M1300.5 802.1h0M1429.9 812.3h0M1142.5 811.1h0M1370.5 804.0h0M1171.9 796.0h0M1328.2 816.6h0M1185.3 813.7h0M1383.6 811.0h0M1152.5 803.4h0M1127.3 845.3h0M1201.6 824.6h0M1156.9 794.7h0M1470.3 804.2h0M1274.9 816.0h0M1166.6 852.2h0M1064.3 846.0h0M1173.7 834.8h0M1446.3 816.7h0M1147.2 827.5h0M1249.8 830.3h0M1499.3 847.9h0M1376.9 808.7h0M1265.4 803.9h0M1153.2 837.0h0M1359.2 811.1h0M1300.5 801.1h0M1239.4 830.3h0M1250.6 804.6h0M1419.0 816.4h0M1406.6 806.1h0M1469.7 809.7h0M1478.7 818.8h0M1082.1 803.3h0M1079.9 802.4h0M1482.0 808.8h0M1365.5 811.5h0M1065.8 838.5h0M1304.2 807.2h0M1090.3 837.1h0M1295.8 804.9h0M1254.2 800.6h0M1242.3 824.6h0M1090.8 841.5h0M1178.9 841.8h0M1321.3 824.4h0M1152.6 851.7h0M1229.0 817.8h0M1446.5 804.2h0M1497.4 824.3h0M1431.0 811.6h0M1400.9 814.3h0M1059.5 802.6h0M1317.0 810.0h0M1283.9 822.7h0M1163.2 800.6h0M1083.1 851.0h0M1089.4 850.5h0M1437.8 835.3h0M1173.3 803.7h0M1267.1 804.8h0M1253.2 802.4h0M1088.1 794.7h0M1087.7 841.6h0M1445.0 815.9h0M1428.2 806.1h0M1417.1 802.9h0M1480.6 826.4h0M1386.0 803.6h0M1335.1 815.2h0M1347.4 810.4h0M1130.0 825.9h0M1356.2 802.7h0M1448.2 810.0h0M1308.7 818.2h0M1281.6 811.5h0M1130.9 818.7h0M1440.9 804.4h0M1269.9 813.3h0M1247.1 817.0h0M1445.9 815.5h0M1351.0 805.8h0M1178.0 814.6h0M1169.0 852.8h0M1205.2 833.1h0M1105.3 855.2h0M1207.2 827.0h0M1181.0 830.7h0M1226.1 811.3h0M1373.7 820.8h0M1391.7 808.2h0M1033.3 803.9h0M1113.7 797.2h0M1338.2 805.5h0M1353.7 802.2h0M1425.7 817.9h0M1168.7 826.0h0M1099.1 881.5h0M1288.8 805.7h0M1229.8 832.3h0M1309.3 824.7h0M1382.7 816.4h0M1114.8 793.5h0M1290.3 803.7h0M1112.2 879.5h0M1164.9 847.0h0M1096.3 843.0h0M1076.5 821.2h0M1406.9 803.1h0M1076.7 818.6h0M1390.5 806.5h0M1129.8 830.9h0M1103.1 793.1h0M1250.2 819.0h0M1369.2 804.9h0M1050.2 828.7h0M1034.4 839.1h0M1200.5 820.8h0M1467.0 810.9h0M1392.9 803.1h0M1288.3 806.9h0M1216.0 806.5h0M1382.6 809.9h0M1429.1 810.0h0M1381.4 808.5h0M1109.3 875.7h0M1338.3 803.1h0M1299.2 822.5h0M1343.0 812.6h0M1385.4 822.5h0M1304.1 803.9h0M1073.0 834.4h0M1344.7 810.6h0M1392.5 820.0h0M1072.1 791.5h0M1325.0 802.3h0M1227.7 826.4h0M1066.4 839.2h0M1085.2 852.9h0M1191.7 800.8h0M1133.6 830.7h0M1472.2 822.2h0M1231.5 799.3h0M1227.6 801.5h0M1411.7 806.6h0M1278.3 800.8h0M1082.1 812.0h0M1073.5 809.4h0M1501.8 816.7h0M1065.3 852.4h0M1397.0 811.5h0M1199.0 844.0h0M1315.2 809.5h0M1278.6 812.9h0M1072.5 855.5h0M1218.4 823.1h0M1413.4 808.0h0M1365.9 813.6h0M1037.5 796.2h0M1196.2 798.0h0M1443.6 819.1h0M1477.9 822.7h0M1474.1 820.9h0M1046.4 824.7h0M1396.5 803.7h0M1276.9 816.5h0M1114.5 853.9h0M1149.4 845.4h0M1347.6 809.1h0M1250.7 800.9h0M1162.0 839.1h0M1200.9 816.9h0M1453.8 814.3h0M1241.7 813.5h0M1177.1 796.9h0M1330.5 809.1h0M1286.0 831.7h0M1198.6 846.1h0M1278.3 803.7h0M1402.5 816.2h0M1465.1 814.6h0M1289.1 810.0h0M1059.5 853.2h0M1209.5 811.1h0M1058.3 800.3h0M1132.6 846.5h0M1036.4 818.4h0M1259.8 800.3h0M1196.0 807.6h0M1499.2 838.5h0M1412.6 810.1h0M1265.7 801.9h0M1136.1 816.4h0M1244.0 832.5h0M1221.6 800.7h0M1385.5 804.7h0M1443.9 804.3h0M1255.2 827.5h0M1155.8 807.2h0M1468.5 805.9h0M1176.2 798.5h0M1348.1 823.3h0M1410.4 810.0h0M1133.0 802.7h0M1377.0 804.0h0M1164.8 840.3h0M1386.0 821.6h0M1491.6 813.4h0M1120.3 824.5h0M1274.7 811.9h0M1178.5 839.3h0M1053.5 795.6h0M1382.6 818.6h0M1346.0 826.6h0M1311.2 830.0h0M1189.5 835.8h0M1060.1 892.3h0M1342.3 826.9h0M1382.0 805.5h0M1067.2 814.2h0M1088.9 803.6h0M1153.8 822.6h0M1383.1 809.5h0M1243.0 807.3h0M1397.5 806.9h0M1365.7 802.4h0M1353.4 807.2h0M1499.6 819.6h0M1388.8 804.3h0M1460.4 806.2h0M1208.3 814.8h0M1168.9 822.3h0M1368.7 808.6h0M1434.9 803.4h0M1038.6 815.1h0M1137.4 793.5h0M1047.1 889.9h0M1062.8 817.7h0M1284.1 815.1h0M1474.1 822.4h0M1085.0 806.7h0M1464.6 820.8h0M1386.5 811.3h0M1399.4 811.5h0M1298.2 807.2h0M1316.1 808.2h0M1351.7 825.4h0M1278.3 821.1h0M1157.4 810.0h0M1337.9 823.9h0M1267.4 808.7h0M1042.9 818.9h0M1072.7 878.8h0M1246.7 804.4h0M1189.2 801.6h0M1258.9 812.9h0M1354.8 817.0h0M1323.9 815.1h0M1258.4 824.7h0M1196.0 803.8h0M1336.8 819.5h0M1240.5 811.5h0M1205.8 822.1h0M1326.0 805.8h0M1469.7 806.8h0M1302.9 824.2h0M1493.8 813.8h0M1110.7 805.1h0M1348.3 802.7h0M1042.4 803.2h0M1093.2 809.9h0M1373.3 826.5h0M1228.5 801.5h0M1318.2 821.8h0M1096.1 851.0h0M1359.1 802.8h0M1321.9 817.4h0M1405.1 802.9h0M1375.9 825.1h0M1202.8 828.1h0M1487.2 810.9h0M1500.3 824.0h0M1176.7 841.6h0M1251.5 808.2h0M1229.2 830.3h0M1386.4 818.2h0M1463.8 833.1h0M1213.0 814.4h0M1197.7 838.1h0M1175.1 843.1h0M1199.8 821.9h0M1347.6 802.9h0M1422.4 809.5h0M1295.3 811.0h0M1254.5 818.1h0M1377.2 817.2h0M1207.3 809.0h0M1454.4 836.0h0M1209.9 811.0h0M1315.4 812.3h0M1468.2 819.2h0M1300.1 830.3h0M1369.3 809.2h0M1085.7 847.8h0M1370.5 810.8h0M1272.8 810.8h0M1246.0 830.6h0M1490.8 838.4h0M1394.0 812.8h0M1295.8 806.2h0M1350.0 818.0h0M1263.0 826.6h0M1162.3 838.8h0M1277.7 820.9h0M1450.3 820.4h0M1214.3 827.1h0M1201.2 808.8h0M1191.5 831.5h0M1058.6 886.5h0M1294.1 806.1h0M1390.9 808.4h0M1265.6 804.7h0M1432.2 808.6h0M1332.2 801.7h0M1198.6 802.4h0M1285.7 805.2h0M1379.3 816.3h0M1383.8 802.9h0M1427.8 811.3h0M1353.5 821.3h0M1034.1 876.3h0M1222.3 838.7h0M1311.5 814.4h0M1224.5 825.4h0M1092.2 806.5h0M1148.6 796.9h0M1156.4 842.7h0M1111.2 810.4h0M1332.1 815.3h0M1101.0 825.4h0M1371.6 802.8h0M1345.7 822.0h0M1356.0 808.9h0M1056.3 807.1h0M1444.2 833.1h0M1330.9 811.3h0M1339.6 808.6h0M1425.0 808.1h0M1350.6 825.3h0M1234.4 803.5h0M1197.5 802.4h0M1255.4 813.2h0M1395.0 810.5h0M1118.5 830.6h0M1134.4 805.7h0M1185.0 833.9h0M1403.6 809.7h0M1125.0 850.1h0M1073.1 799.1h0M1428.8 809.5h0M1054.6 817.1h0M1408.0 815.6h0M1154.0 821.4h0M1053.2 883.2h0M1262.9 801.2h0M1291.7 802.4h0M1076.8 816.0h0M1403.6 821.4h0M1441.9 810.1h0M1307.0 820.1h0M1362.9 805.8h0M1268.3 813.4h0M1037.6 810.4h0M1105.0 823.3h0M1379.5 813.5h0M1461.5 807.2h0M1107.3 801.5h0M1043.4 796.5h0M1285.0 810.1h0M1035.8 799.7h0M1073.2 796.9h0M1219.2 811.7h0M1107.2 847.8h0M1182.8 839.4h0M1069.7 836.5h0M1258.0 802.4h0M1370.1 826.4h0M1430.8 809.9h0M1430.6 805.3h0M1044.8 795.1h0M1468.7 807.8h0M1490.0 817.1h0M1079.8 804.7h0M1477.7 826.2h0M1157.5 839.8h0M1065.4 824.0h0M1164.0 811.8h0M1494.2 837.4h0M1469.2 814.7h0M1373.6 802.6h0M1354.8 804.7h0M1074.9 821.1h0M1080.1 812.6h0M1499.9 823.3h0M1116.2 825.8h0M1436.6 806.3h0M1041.0 826.2h0M1335.6 819.2h0M1325.2 803.1h0M1476.5 805.6h0M1109.5 806.4h0M1472.3 811.4h0M1267.7 828.1h0M1451.1 811.2h0M1476.6 819.5h0M1287.5 804.3h0M1337.1 814.6h0M1193.8 829.9h0M1426.8 808.8h0M1283.0 831.3h0M1316.8 822.3h0M1051.5 826.5h0M1122.7 830.7h0M1108.0 888.0h0M1340.0 827.9h0M1253.3 824.8h0M1358.5 808.1h0M1362.3 804.3h0M1245.3 810.5h0M1076.7 800.2h0M1471.7 814.2h0M1333.7 814.2h0M1289.2 803.6h0M1255.1 814.4h0M1145.0 840.7h0M1055.0 817.1h0M1233.0 801.0h0M1427.5 806.0h0M1243.1 800.8h0M1421.2 804.7h0M1179.9 806.7h0M1275.9 811.2h0M1430.1 827.8h0M1050.5 827.2h0M1091.5 793.3h0M1056.1 870.5h0M1292.0 802.4h0M1188.4 826.2h0M1399.2 805.0h0M1247.8 828.2h0M1194.7 838.8h0M1042.0 811.8h0M1279.7 801.8h0M1312.4 818.1h0M1367.2 804.2h0M1390.9 812.1h0M1382.0 823.5h0M1355.5 806.0h0M1456.2 820.0h0M1304.9 830.9h0M1399.1 809.9h0M1307.2 809.0h0M1454.3 810.4h0M1098.5 805.6h0M1052.4 823.9h0M1216.8 814.9h0M1352.5 807.2h0M1040.0 837.3h0M1094.0 810.8h0M1347.4 819.3h0M1485.4 838.7h0M1496.4 816.6h0M1185.0 832.3h0M1076.8 830.5h0M1309.9 808.2h0M1221.6 810.8h0M1366.9 803.2h0M1038.9 857.1h0M1414.3 805.3h0M1035.8 819.4h0M1055.7 803.2h0M1445.8 805.3h0M1220.4 821.0h0M1164.5 815.6h0M1141.9 832.2h0M1268.2 807.0h0M1299.2 808.3h0M1294.1 803.7h0M1443.0 818.0h0M1074.8 821.1h0M1223.3 827.8h0M1180.6 802.0h0M1444.6 814.7h0M1213.8 821.0h0M1298.1 827.0h0M1192.0 834.6h0M1250.3 801.5h0M1331.9 816.0h0M1170.4 804.4h0M1371.5 820.8h0M1225.3 824.4h0M1151.0 815.3h0M1239.6 803.9h0M1383.1 819.7h0M1410.9 821.0h0M1031.2 814.5h0M1055.4 796.2h0M1303.9 808.2h0M1249.7 802.7h0M1344.9 802.7h0M1489.3 811.6h0M1162.8 815.0h0M1456.3 811.6h0M1324.6 807.6h0M1240.0 820.9h0M1256.5 807.2h0M1415.5 808.1h0M1331.5 814.8h0M1353.6 809.1h0M1434.0 810.1h0M1193.2 809.8h0M1192.4 845.7h0M1501.4 825.6h0M1202.5 808.8h0M1351.0 811.9h0M1157.3 851.4h0M1479.7 811.1h0M1290.1 830.1h0M1419.1 812.4h0M1096.1 829.8h0M1336.0 817.8h0M1278.8 826.1h0M1394.6 818.3h0M1358.6 822.4h0M1457.5 808.9h0M1266.3 822.9h0M1422.1 809.3h0M1409.3 808.5h0M1148.3 808.1h0M1316.5 808.9h0M1084.3 844.2h0M1251.1 800.3h0M1078.7 848.5h0M1052.4 814.1h0M1300.6 815.2h0M1331.7 825.2h0M1169.7 805.3h0M1130.6 838.2h0M1160.0 834.0h0M1405.8 812.3h0M1431.8 811.7h0M1230.8 813.4h0M1196.1 813.1h0M1118.4 842.4h0M1338.5 808.8h0M1391.7 810.9h0M1352.5 807.2h0M1038.0 795.8h0M1313.8 817.1h0M1082.8 884.8h0M1441.9 813.9h0M1208.6 822.0h0M1223.0 835.6h0M1250.4 802.3h0M1452.8 818.2h0M1098.4 826.2h0M1143.6 800.6h0M1371.8 815.1h0M1093.4 825.2h0M1068.4 820.8h0M1470.1 814.0h0M1420.5 806.2h0M1058.9 828.5h0M1328.5 809.9h0M1463.9 804.3h0M1479.0 824.8h0M1495.2 812.9h0M1262.6 808.0h0M1401.1 821.2h0M1130.2 839.9h0M1140.4 804.1h0M1223.1 804.4h0M1418.6 829.4h0M1105.1 815.1h0M1379.4 821.8h0M1496.1 816.0h0M1219.6 809.2h0M1384.6 804.9h0M1284.3 815.2h0M1081.9 801.3h0M1413.2 809.2h0M1444.2 808.5h0M1492.7 822.1h0M1336.0 814.2h0M1228.9 814.3h0M1373.0 815.4h0M1214.1 808.3h0M1183.6 828.4h0M1277.7 817.0h0M1061.4 832.7h0M1049.2 815.8h0M1486.4 815.1h0M1192.2 827.4h0M1248.0 827.1h0M1383.5 816.2h0M1263.2 808.8h0M1471.5 835.7h0M1293.7 812.9h0M1468.6 816.6h0M1150.2 804.4h0M1311.1 801.5h0M1426.6 805.3h0M1175.0 827.8h0M1114.1 802.1h0M1329.4 817.9h0M1373.2 812.8h0M1098.8 830.5h0M1141.6 798.0h0M1488.7 831.5h0M1345.6 816.8h0M1320.1 816.2h0M1388.8 805.5h0M1485.7 839.5h0M1467.4 829.5h0M1120.2 817.4h0M1098.2 837.2h0M1038.8 808.3h0M1365.1 810.4h0M1130.5 842.4h0M1203.0 834.0h0M1204.7 801.2h0M1224.3 825.2h0M1416.1 823.1h0M1054.8 826.5h0M1287.5 817.2h0M1133.8 812.1h0M1095.8 799.4h0M1407.7 809.2h0M1244.0 802.0h0M1358.7 812.3h0M1203.7 801.8h0M1389.8 804.5h0M1442.2 804.7h0M1104.2 840.4h0M1044.6 881.6h0M1422.3 808.7h0M1074.3 846.0h0M1164.5 855.3h0M1464.5 809.0h0M1423.5 805.4h0M1039.7 816.9h0M1129.9 826.1h0M1111.5 846.7h0M1228.3 814.9h0M1169.4 826.6h0M1294.0 805.0h0M1371.7 824.4h0M1306.3 810.2h0M1304.0 814.0h0M1285.8 802.3h0M1225.5 814.2h0M1310.0 822.0h0M1317.1 802.8h0M1442.0 829.9h0M1420.6 808.7h0M1105.7 835.0h0M1404.9 810.9h0M1476.0 804.6h0M1231.2 822.1h0M1140.2 830.8h0M1120.3 822.6h0M1094.1 840.0h0M1135.6 852.6h0M1100.1 832.9h0M1314.2 826.5h0M1051.7 806.5h0M1217.0 828.9h0M1164.6 819.1h0M1164.1 848.3h0M1171.9 825.9h0M1357.2 803.5h0M1311.1 812.4h0M1339.4 802.2h0M1416.5 803.4h0M1135.3 839.2h0M1175.8 843.8h0M1457.3 812.2h0M1488.7 831.2h0M1195.9 846.5h0M1159.5 840.7h0M1130.9 835.5h0M1300.7 828.6h0M1241.5 805.1h0M1442.9 817.8h0M1409.0 806.7h0M1030.7 833.2h0M1482.5 835.2h0M1472.1 808.9h0M1458.9 813.9h0M1165.0 800.7h0M1154.3 819.8h0M1178.5 835.1h0M1203.9 798.2h0M1290.4 812.7h0M1042.1 821.8h0M1284.9 821.1h0M1489.0 832.0h0M1488.6 819.6h0M1225.3 802.3h0M1136.9 819.6h0M1497.7 811.2h0M1213.1 800.3h0M1274.8 821.2h0M1184.4 838.4h0M1489.0 814.2h0M1336.9 815.5h0M1348.7 816.3h0M1196.0 799.7h0M1291.2 805.7h0M1170.4 811.1h0M1490.1 820.4h0M1219.0 825.6h0M1276.7 807.2h0M1117.4 795.4h0M1164.3 811.1h0M1300.5 818.4h0M1243.2 809.3h0M1405.0 804.1h0M1289.0 818.2h0M1204.9 798.7h0M1495.4 815.3h0M1469.4 808.9h0M1234.3 822.0h0M1490.0 809.1h0M1131.7 804.0h0M1322.8 802.6h0M1156.5 820.6h0M1218.6 799.6h0M1132.6 794.8h0M1267.3 800.4h0M1165.7 821.3h0M1377.3 809.4h0M1189.6 812.8h0M1468.6 812.4h0M1344.3 810.8h0M1343.2 824.2h0M1174.1 841.6h0M1414.5 806.6h0M1114.3 813.7h0M1234.1 811.4h0M1300.8 815.5h0M1365.2 805.8h0M1048.0 826.9h0M1224.4 816.5h0M1050.9 816.0h0M1466.4 809.5h0M1152.6 824.4h0M1390.9 803.6h0M1160.8 831.2h0M1218.9 809.1h0M1041.1 840.5h0M1363.0 806.4h0M1216.3 799.0h0M1465.1 806.2h0M1044.9 844.8h0M1369.2 819.9h0M1343.9 806.8h0M1304.6 804.5h0M1061.9 829.0h0M1171.0 836.0h0M1098.0 802.2h0M1457.1 819.9h0M1210.7 806.9h0M1195.8 847.1h0M1499.3 847.5h0M1341.7 826.2h0M1463.7 806.4h0M1199.7 801.8h0M1150.8 797.0h0M1458.7 838.0h0M1267.9 816.5h0M1238.3 801.6h0M1144.2 808.3h0M1341.1 805.3h0M1442.8 818.6h0M1397.7 810.5h0M1423.6 805.1h0M1257.7 800.2h0M1145.0 826.5h0M1241.0 812.4h0M1193.2 825.9h0M1394.6 816.6h0M1420.6 816.5h0M1486.1 830.6h0M1243.5 819.0h0M1076.5 794.2h0M1375.4 808.3h0M1158.8 823.6h0M1170.9 801.1h0M1408.6 816.1h0M1320.9 828.8h0M1248.9 813.0h0M1164.7 832.4h0M1416.1 826.8h0M1268.3 817.0h0M1336.4 827.9h0M1211.1 799.1h0M1398.3 808.7h0M1054.9 845.2h0M1160.9 830.5h0M1341.6 805.5h0M1348.4 823.1h0M1273.2 823.4h0M1324.8 814.9h0M1102.0 849.6h0M1248.7 803.6h0M1252.2 820.3h0M1311.9 808.2h0M1129.7 830.1h0M1177.4 809.6h0M1243.8 830.1h0M1220.3 838.1h0M1246.5 803.9h0M1102.0 829.9h0M1080.0 798.3h0M1314.0 815.5h0M1399.5 808.4h0M1067.2 826.1h0M1410.8 820.9h0M1461.5 811.1h0M1347.4 808.0h0M1370.7 809.5h0M1295.6 810.4h0M1169.0 816.6h0M1361.5 810.9h0M1346.1 823.6h0M1131.0 821.7h0M1358.2 808.7h0M1191.8 828.6h0M1437.5 810.7h0M1247.0 818.5h0M1281.0 831.1h0M1456.4 803.6h0M1412.4 814.2h0M1112.9 794.0h0M1071.3 818.8h0M1242.6 832.2h0M1136.5 810.2h0M1249.0 803.9h0M1172.9 801.3h0M1442.4 810.6h0M1412.9 804.4h0M1479.8 844.4h0M1185.5 821.6h0M1044.7 827.7h0M1286.9 830.6h0M1424.7 824.5h0M1458.5 816.5h0M1071.5 813.8h0M1063.9 838.3h0M1135.5 834.8h0M1279.5 806.1h0M1475.4 808.6h0M1242.9 821.6h0M1211.7 798.8h0M1060.6 826.4h0M1096.3 846.9h0M1117.8 795.3h0M1067.3 823.0h0M1339.8 811.3h0M1186.9 799.4h0M1324.6 822.7h0M1128.8 800.0h0M1239.8 816.2h0M1397.8 821.4h0M1244.9 807.1h0M1166.0 843.1h0M1056.3 805.3h0M1312.1 817.0h0M1264.2 809.6h0M1032.2 839.2h0M1068.9 829.7h0M1047.1 859.9h0M1484.2 818.9h0M1315.0 811.2h0M1383.7 816.1h0M1351.1 808.9h0M1270.3 818.9h0M1078.2 803.3h0M1106.9 877.2h0M1375.8 812.2h0M1441.9 807.2h0M1133.3 810.8h0M1464.6 806.2h0M1463.0 809.0h0M1206.3 801.5h0M1370.7 818.1h0M1064.9 889.3h0M1041.5 842.4h0M1416.6 816.5h0M1303.8 816.3h0M1225.8 826.0h0M1368.7 809.3h0M1352.3 805.8h0M1278.5 826.9h0M1148.9 847.2h0M1498.5 829.9h0M1095.2 796.9h0M1265.9 831.2h0M1203.3 822.2h0M1065.1 866.3h0M1491.9 833.4h0M1272.0 803.3h0M1260.5 812.6h0M1492.7 834.4h0M1093.1 826.5h0M1446.7 808.9h0M1413.6 807.8h0M1429.5 809.5h0M1037.4 808.5h0M1142.2 797.9h0M1426.9 819.8h0M1348.2 809.2h0M1499.9 820.5h0M1100.4 804.7h0M1322.2 821.1h0M1233.1 800.9h0M1277.7 811.1h0M1081.0 818.7h0M1069.8 843.1h0M1308.4 814.6h0M1069.1 791.4h0M1280.4 805.5h0M1086.9 797.1h0M1348.3 809.8h0M1305.0 820.1h0M1353.6 815.9h0M1096.4 799.4h0M1258.6 818.0h0M1183.6 812.5h0M1461.6 812.8h0M1391.4 821.1h0M1480.6 823.2h0M1096.9 835.4h0M1304.0 818.8h0M1186.4 822.3h0M1082.4 804.0h0M1219.4 818.1h0M1321.4 821.9h0M1362.7 825.8h0M1335.1 817.3h0M1329.5 801.8h0M1368.4 808.4h0M1129.4 840.9h0M1386.6 805.2h0M1128.1 803.1h0M1449.5 804.5h0M1226.1 827.1h0M1040.9 806.9h0M1048.1 850.2h0M1435.4 817.3h0M1458.7 814.9h0M1297.7 817.2h0M1313.9 826.4h0M1454.1 808.9h0M1430.3 807.6h0M1302.2 827.3h0M1430.0 818.6h0M1171.6 836.9h0M1447.3 816.8h0M1329.3 804.3h0M1274.7 831.2h0M1049.9 800.2h0M1427.5 815.3h0M1122.6 852.4h0M1089.2 804.2h0M1386.8 814.7h0M1151.5 852.2h0M1345.9 822.4h0M1329.1 828.4h0M1058.4 809.1h0M1124.7 828.8h0M1194.8 821.2h0M1058.1 792.2h0M1111.3 804.1h0M1495.5 833.2h0M1377.4 813.1h0M1096.0 852.8h0M1280.7 801.7h0M1150.8 852.2h0M1162.4 795.6h0M1402.7 807.0h0M1044.1 835.5h0M1390.6 821.2h0M1332.5 824.1h0M1359.6 820.6h0M1311.9 801.5h0M1130.8 793.5h0M1121.5 823.6h0M1095.0 815.9h0M1399.2 825.0h0M1120.5 838.9h0M1186.9 843.8h0M1325.8 816.9h0M1163.8 828.0h0M1420.9 804.4h0M1130.1 828.9h0M1368.5 805.5h0M1264.4 807.1h0M1313.6 819.2h0M1130.2 829.5h0M1134.6 811.1h0M1052.9 826.3h0M1418.2 817.9h0M1344.2 819.6h0M1311.0 803.5h0M1141.5 796.9h0M1214.9 815.7h0M1420.9 818.5h0M1423.7 811.7h0M1123.2 801.5h0M1126.4 793.6h0M1411.0 818.2h0M1064.7 843.9h0M1206.8 822.3h0M1280.5 802.8h0M1084.2 850.0h0M1048.1 816.7h0M1155.8 815.8h0M1154.5 811.4h0M1412.8 811.0h0M1412.6 807.4h0M1468.2 821.8h0M1171.5 812.7h0M1426.7 810.8h0M1272.9 807.2h0M1091.9 802.5h0M1075.2 877.6h0M1406.6 810.9h0M1136.3 812.2h0M1221.6 827.5h0M1500.8 823.7h0M1419.9 804.8h0M1255.6 804.7h0M1394.7 813.4h0M1173.0 830.3h0M1395.7 813.0h0M1112.3 843.4h0M1400.2 813.4h0M1110.5 844.8h0M1038.6 807.8h0M1360.5 820.0h0M1468.9 806.1h0M1087.7 795.2h0M1483.7 816.1h0M1057.1 864.1h0M1393.3 806.4h0M1094.7 805.0h0M1299.8 804.6h0M1092.1 812.2h0M1240.9 802.5h0M1087.9 828.7h0M1354.6 811.2h0M1122.8 867.5h0M1246.2 807.7h0M1493.0 831.1h0M1088.7 804.0h0M1140.5 810.6h0M1333.8 820.6h0M1103.2 815.0h0M1404.1 806.1h0M1452.2 814.5h0M1276.6 825.0h0M1379.6 824.0h0M1170.6 833.7h0M1449.4 808.1h0M1477.1 806.9h0M1111.1 813.3h0M1210.8 798.9h0M1191.4 798.3h0M1257.3 829.7h0M1476.5 813.3h0M1040.0 818.7h0M1427.7 803.6h0M1388.2 810.1h0M1090.3 824.3h0M1365.4 823.7h0M1422.3 808.3h0M1192.3 811.9h0M1063.7 796.5h0M1037.5 806.6h0M1242.7 801.9h0M1455.7 820.6h0M1286.0 830.0h0M1212.8 801.6h0M1404.0 806.8h0M1107.1 852.3h0M1147.2 856.7h0M1128.2 831.7h0M1468.0 805.9h0M1097.5 801.7h0M1227.1 818.4h0M1143.2 811.8h0M1109.9 795.3h0M1032.3 791.2h0M1256.3 814.3h0M1174.5 811.6h0M1181.5 800.6h0M1097.5 808.0h0M1078.5 799.6h0M1270.9 811.0h0M1379.8 809.7h0M1130.2 830.2h0M1203.5 799.7h0M1115.0 816.6h0M1429.9 805.2h0M1136.7 802.3h0M1312.4 828.1h0M1230.5 836.1h0M1467.5 805.6h0M1052.7 846.5h0M1286.2 824.9h0M1142.0 854.6h0M1114.6 856.1h0M1473.5 811.8h0M1418.8 818.6h0M1201.0 814.7h0M1470.9 819.4h0M1122.6 848.0h0M1299.4 819.9h0M1239.0 818.1h0M1237.4 822.5h0M1446.1 826.8h0M1349.1 819.9h0M1143.5 803.2h0M1409.1 802.8h0M1081.2 824.9h0M1395.9 803.6h0M1306.3 809.4h0M1157.8 802.4h0M1413.6 814.7h0M1289.2 805.6h0M1346.4 821.8h0M1102.7 795.4h0M1119.3 833.5h0M1462.4 804.3h0M1207.7 805.6h0M1301.2 803.6h0M1160.3 822.9h0M1313.9 806.3h0M1389.4 814.1h0M1481.3 806.3h0M1046.0 797.2h0M1229.2 818.6h0M1165.9 839.3h0M1251.0 816.5h0M1442.2 818.5h0M1398.9 822.8h0M1347.7 803.3h0M1191.2 842.4h0M1175.8 853.6h0M1387.5 818.1h0M1060.9 792.8h0M1188.0 832.6h0M1240.9 811.2h0M1205.7 799.0h0M1244.6 832.5h0M1469.8 809.6h0M1423.6 802.9h0M1127.1 833.9h0M1366.3 823.5h0M1361.7 804.5h0M1067.3 886.5h0M1062.6 828.4h0M1110.7 797.9h0M1073.2 820.8h0M1429.8 807.0h0M1064.0 797.3h0M1186.3 847.0h0M1345.5 804.7h0M1353.2 824.2h0M1426.0 804.6h0M1339.2 804.0h0M1123.0 800.7h0M1269.2 826.7h0M1231.9 802.4h0M1307.9 828.4h0M1293.6 821.6h0M1486.3 809.8h0M1462.6 818.7h0M1099.3 796.2h0M1092.3 809.7h0M1226.0 829.6h0M1232.7 809.2h0M1210.7 798.5h0M1150.7 834.2h0M1353.8 808.9h0M1119.2 855.2h0M1307.3 812.0h0M1262.5 808.8h0M1233.1 826.3h0M1166.0 802.3h0M1479.7 814.3h0M1035.7 810.9h0M1036.8 813.4h0M1253.7 800.7h0M1183.0 799.0h0M1313.0 811.9h0M1365.0 810.8h0M1330.7 815.9h0M1425.4 805.0h0M1413.9 810.0h0M1466.8 819.6h0M1198.7 828.0h0M1108.9 792.6h0M1047.1 860.4h0M1231.4 828.3h0M1269.2 805.2h0M1248.6 813.7h0M1363.8 812.8h0M1176.4 842.9h0M1108.6 855.6h0M1430.0 819.2h0M1245.6 815.8h0M1321.5 822.1h0M1179.1 806.6h0M1352.8 814.2h0M1171.8 851.2h0M1212.8 836.0h0M1382.5 802.8h0M1247.1 827.6h0M1077.1 821.1h0M1089.1 878.7h0M1321.7 803.5h0M1183.8 802.2h0M1264.1 818.8h0M1096.9 821.1h0M1354.3 804.9h0M1089.1 810.7h0M1406.1 807.5h0M1381.7 802.9h0M1488.9 839.2h0M1163.7 801.7h0M1401.2 815.2h0M1218.5 831.0h0M1116.8 799.1h0M1495.5 819.9h0M1379.8 803.2h0M1272.4 809.9h0M1432.6 805.4h0M1130.1 818.0h0M1456.5 809.4h0M1241.3 802.9h0M1211.0 802.8h0M1181.3 838.2h0M1257.8 800.5h0M1274.5 802.1h0M1253.8 807.0h0M1377.0 803.1h0M1053.3 823.0h0M1292.9 807.2h0M1368.8 811.5h0M1137.8 815.6h0M1031.3 831.7h0M1495.8 847.4h0M1250.3 817.1h0M1227.7 801.1h0M1315.8 818.4h0M1102.0 829.6h0M1091.2 852.6h0M1327.8 812.6h0M1391.7 814.0h0M1313.8 829.7h0M1345.8 821.0h0M1314.5 806.6h0M1080.7 800.9h0M1487.7 830.0h0M1187.4 818.3h0M1182.1 847.8h0M1077.7 795.3h0M1263.0 806.2h0M1347.6 819.1h0M1350.5 819.3h0M1044.0 791.0h0M1479.1 823.4h0M1497.3 838.8h0M1039.8 833.2h0M1211.6 824.6h0M1264.9 802.7h0M1066.0 819.1h0M1118.6 795.1h0M1172.5 799.9h0M1276.8 822.6h0M1129.8 872.8h0M1485.4 822.1h0M1063.0 882.7h0M1047.4 793.8h0M1194.2 846.0h0M1183.9 796.8h0M1287.2 801.6h0M1464.0 821.5h0M1332.1 803.2h0M1254.7 812.7h0M1331.2 807.7h0M1035.5 796.6h0M1073.1 836.7h0M1499.8 838.5h0M1129.0 810.2h0M1433.4 805.9h0M1278.6 805.0h0M1373.0 822.6h0M1339.0 810.2h0M1306.5 823.1h0M1297.7 828.9h0M1240.6 806.4h0M1257.9 809.3h0M1084.7 848.3h0M1462.1 812.1h0M1259.6 805.7h0M1282.2 813.0h0M1061.2 824.9h0M1119.5 850.0h0M1450.6 810.2h0M1383.9 815.4h0M1205.9 824.0h0M1306.2 808.2h0M1195.2 812.1h0M1238.1 805.6h0M1325.4 804.3h0M1336.6 814.4h0M1343.1 801.9h0M1201.5 819.8h0M1467.4 813.8h0M1195.4 800.5h0M1447.8 808.8h0M1356.7 823.6h0M1086.9 825.6h0M1136.8 851.0h0M1279.7 807.6h0M1136.4 797.7h0M1490.9 815.7h0M1081.4 889.9h0M1074.8 821.6h0M1494.9 820.3h0M1033.9 798.9h0M1445.9 817.7h0M1187.4 825.1h0M1470.5 808.2h0M1154.1 797.1h0M1171.2 833.0h0M1033.2 813.3h0M1104.7 800.8h0M1380.8 819.6h0M1177.3 800.1h0M1126.4 806.5h0M1488.2 815.4h0M1385.4 803.5h0M1440.6 803.9h0M1116.7 854.2h0M1218.2 811.6h0M1126.2 807.9h0M1148.2 796.3h0M1212.4 798.9h0M1484.8 821.0h0M1120.8 842.7h0M1490.3 829.0h0M1124.4 824.2h0M1074.9 843.9h0M1165.0 816.1h0M1383.7 815.3h0M1088.3 798.1h0M1068.2 804.7h0M1460.0 836.3h0M1271.5 806.7h0M1251.4 808.8h0M1239.8 828.8h0M1377.3 806.9h0M1065.1 817.3h0M1390.9 820.2h0M1397.7 803.4h0M1257.6 822.4h0M1457.5 815.9h0M1373.1 809.6h0M1479.9 816.6h0M1495.8 832.4h0M1289.7 802.5h0M1304.3 803.7h0M1454.1 824.7h0M1290.8 807.0h0M1086.4 853.3h0M1426.5 826.5h0M1265.6 809.0h0M1304.5 826.2h0M1340.0 823.6h0M1125.3 826.7h0M1127.1 812.8h0M1114.4 794.3h0M1364.0 825.5h0M1218.6 801.6h0M1378.8 803.6h0M1208.4 822.2h0M1037.0 791.9h0M1424.3 810.4h0M1365.8 826.6h0M1101.9 814.6h0M1109.0 852.6h0M1039.1 816.4h0M1446.5 805.2h0M1431.7 813.4h0M1168.6 800.3h0M1431.3 818.5h0M1099.6 861.7h0M1341.2 813.3h0M1466.7 821.6h0M1298.9 805.1h0M1500.7 825.3h0M1132.6 821.0h0M1497.0 832.7h0M1370.8 818.7h0M1367.4 803.0h0M1077.9 837.8h0M1392.2 808.2h0M1472.8 806.6h0M1238.1 819.7h0M1423.9 806.6h0M1303.8 812.4h0M1280.6 821.3h0M1413.5 803.5h0M1140.4 836.6h0M1321.5 827.3h0M1137.0 805.6h0M1209.8 807.0h0M1366.4 802.5h0M1270.9 815.3h0M1431.8 820.3h0M1048.3 798.0h0M1387.1 814.4h0M1339.4 813.8h0M1185.3 821.8h0M1328.3 816.5h0M1065.4 846.4h0M1468.2 844.3h0M1379.7 811.4h0M1282.6 831.5h0M1235.7 813.1h0M1229.8 828.2h0" stroke="#b3dbbd" stroke-width="6" stroke-linecap="round" fill="none"/>
</g>
<g font-family="'Liberation Sans', Arial, sans-serif" fill="#000">
<text x="21.5" y="51.2" font-size="50" font-weight="bold" textLength="23.6" lengthAdjust="spacingAndGlyphs">a</text>
<text x="858.8" y="49.8" font-size="48" font-weight="bold">b</text>
<text x="1410.9" y="51.4" font-size="45" font-weight="bold" textLength="22.2" lengthAdjust="spacingAndGlyphs">c</text>
<text x="839.6" y="786.3" font-size="48" font-weight="bold">d</text>
<text x="1025" y="134.1" font-size="37" textLength="188" lengthAdjust="spacingAndGlyphs"><tspan font-style="italic">p</tspan> = 3.6e-04</text>
<text x="1663" y="128.2" font-size="37" textLength="188" lengthAdjust="spacingAndGlyphs"><tspan font-style="italic">p</tspan> = 6.1e-08</text>
<g transform="translate(810.5,698) rotate(-90)" font-size="37">
<text x="0" y="0" textLength="270" lengthAdjust="spacingAndGlyphs">Proportion of AR</text>
<text x="275" y="7.5" font-size="22.5" textLength="51" lengthAdjust="spacingAndGlyphs">p,Chl</text>
<text x="338" y="0" textLength="261" lengthAdjust="spacingAndGlyphs">in total biomass</text>
</g>
<g transform="translate(1415,630) rotate(-90)" font-size="37">
<text x="0" y="0" textLength="393" lengthAdjust="spacingAndGlyphs">Biomass diameter (µm)</text>
</g>
<rect x="610.9" y="639.4" width="62.6" height="11.5" fill="#000"/>
<text x="577" y="689.6" font-size="33.5" font-weight="bold" textLength="130" lengthAdjust="spacingAndGlyphs">1000 µm</text>
<rect x="593.3" y="1341.1" width="98.8" height="11.8" fill="#000"/>
<text x="577.7" y="1390.9" font-size="33.5" font-weight="bold" textLength="130" lengthAdjust="spacingAndGlyphs">1000 µm</text>
</g>
</svg>
</body></html>
